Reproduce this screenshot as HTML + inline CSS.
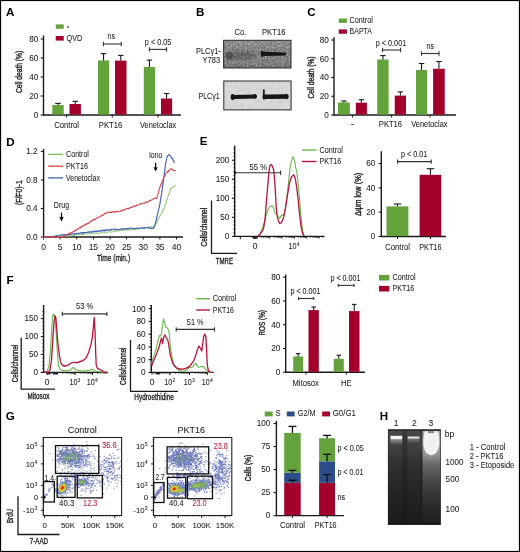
<!DOCTYPE html>
<html><head><meta charset="utf-8"><style>
html,body{margin:0;padding:0;background:#fff;}
#wrap{position:relative;width:520px;height:552px;overflow:hidden;}
svg{display:block;position:absolute;left:0;top:0;will-change:transform;}
#fig{filter:blur(0.3px);}
text{font-family:"Liberation Sans", sans-serif;}
</style></head><body>
<div id="wrap">
<svg id="fig" width="520" height="552" viewBox="0 0 520 552" font-family='"Liberation Sans", sans-serif' fill="#222">
<rect x="0" y="0" width="520" height="552" fill="#fff"/>
<text x="5.90" y="16.40" font-size="11.6" fill="#000" font-weight="bold">A</text>
<rect x="55.75" y="24.40" width="8.00" height="4.35" fill="#64a33c"/>
<rect x="55.75" y="36.00" width="8.00" height="4.60" fill="#a3002c"/>
<rect x="67.10" y="26.20" width="1.90" height="1.50" fill="#555"/>
<text x="66.60" y="40.70" font-size="8.5" textLength="15.60" lengthAdjust="spacingAndGlyphs" stroke="#222" stroke-width="0.06">QVD</text>
<line x1="43.50" y1="35.50" x2="43.50" y2="115.60" stroke="#1a1a1a" stroke-width="1.4"/>
<line x1="40.70" y1="115.00" x2="43.50" y2="115.00" stroke="#1a1a1a" stroke-width="1.1"/>
<text x="38.25" y="117.85" font-size="8.2" text-anchor="end" stroke="#222" stroke-width="0.06">0</text>
<line x1="40.70" y1="96.00" x2="43.50" y2="96.00" stroke="#1a1a1a" stroke-width="1.1"/>
<text x="38.25" y="98.85" font-size="8.2" text-anchor="end" stroke="#222" stroke-width="0.06">20</text>
<line x1="40.70" y1="77.00" x2="43.50" y2="77.00" stroke="#1a1a1a" stroke-width="1.1"/>
<text x="38.25" y="79.85" font-size="8.2" text-anchor="end" stroke="#222" stroke-width="0.06">40</text>
<line x1="40.70" y1="58.00" x2="43.50" y2="58.00" stroke="#1a1a1a" stroke-width="1.1"/>
<text x="38.25" y="60.85" font-size="8.2" text-anchor="end" stroke="#222" stroke-width="0.06">60</text>
<line x1="40.70" y1="39.00" x2="43.50" y2="39.00" stroke="#1a1a1a" stroke-width="1.1"/>
<text x="38.25" y="41.85" font-size="8.2" text-anchor="end" stroke="#222" stroke-width="0.06">80</text>
<line x1="43.00" y1="115.00" x2="181.00" y2="115.00" stroke="#1a1a1a" stroke-width="1.4"/>
<line x1="66.60" y1="115.00" x2="66.60" y2="117.50" stroke="#1a1a1a" stroke-width="1"/>
<line x1="112.30" y1="115.00" x2="112.30" y2="117.50" stroke="#1a1a1a" stroke-width="1"/>
<line x1="158.00" y1="115.00" x2="158.00" y2="117.50" stroke="#1a1a1a" stroke-width="1"/>
<rect x="52.30" y="105.00" width="11.40" height="9.60" fill="#64a33c"/>
<line x1="58.00" y1="105.00" x2="58.00" y2="103.40" stroke="#1a1a1a" stroke-width="1.1"/>
<line x1="55.25" y1="103.40" x2="60.75" y2="103.40" stroke="#1a1a1a" stroke-width="1.1"/>
<rect x="69.50" y="104.00" width="11.40" height="10.60" fill="#a3002c"/>
<line x1="75.20" y1="104.00" x2="75.20" y2="101.30" stroke="#1a1a1a" stroke-width="1.1"/>
<line x1="72.45" y1="101.30" x2="77.95" y2="101.30" stroke="#1a1a1a" stroke-width="1.1"/>
<rect x="98.00" y="60.40" width="11.10" height="54.20" fill="#64a33c"/>
<line x1="103.55" y1="60.40" x2="103.55" y2="53.60" stroke="#1a1a1a" stroke-width="1.1"/>
<line x1="100.80" y1="53.60" x2="106.30" y2="53.60" stroke="#1a1a1a" stroke-width="1.1"/>
<rect x="115.00" y="60.60" width="11.50" height="54.00" fill="#a3002c"/>
<line x1="120.75" y1="60.60" x2="120.75" y2="55.40" stroke="#1a1a1a" stroke-width="1.1"/>
<line x1="118.00" y1="55.40" x2="123.50" y2="55.40" stroke="#1a1a1a" stroke-width="1.1"/>
<rect x="143.80" y="67.00" width="11.20" height="47.60" fill="#64a33c"/>
<line x1="149.40" y1="67.00" x2="149.40" y2="60.10" stroke="#1a1a1a" stroke-width="1.1"/>
<line x1="146.65" y1="60.10" x2="152.15" y2="60.10" stroke="#1a1a1a" stroke-width="1.1"/>
<rect x="161.00" y="98.50" width="11.10" height="16.10" fill="#a3002c"/>
<line x1="166.55" y1="98.50" x2="166.55" y2="93.50" stroke="#1a1a1a" stroke-width="1.1"/>
<line x1="163.80" y1="93.50" x2="169.30" y2="93.50" stroke="#1a1a1a" stroke-width="1.1"/>
<line x1="103.40" y1="44.00" x2="121.25" y2="44.00" stroke="#333" stroke-width="1.1"/>
<line x1="103.40" y1="41.80" x2="103.40" y2="46.20" stroke="#333" stroke-width="1.1"/>
<line x1="121.25" y1="41.80" x2="121.25" y2="46.20" stroke="#333" stroke-width="1.1"/>
<text x="107.60" y="39.40" font-size="8.5" textLength="7.40" lengthAdjust="spacingAndGlyphs" stroke="#222" stroke-width="0.06">ns</text>
<line x1="149.40" y1="49.40" x2="166.60" y2="49.40" stroke="#333" stroke-width="1.1"/>
<line x1="149.40" y1="47.20" x2="149.40" y2="51.60" stroke="#333" stroke-width="1.1"/>
<line x1="166.60" y1="47.20" x2="166.60" y2="51.60" stroke="#333" stroke-width="1.1"/>
<text x="144.80" y="45.00" font-size="8.5" textLength="26.60" lengthAdjust="spacingAndGlyphs" stroke="#222" stroke-width="0.06">p &lt; 0.05</text>
<text x="54.20" y="127.70" font-size="8.5" textLength="24.80" lengthAdjust="spacingAndGlyphs" stroke="#222" stroke-width="0.06">Control</text>
<text x="98.80" y="127.50" font-size="8.5" textLength="23.60" lengthAdjust="spacingAndGlyphs" stroke="#222" stroke-width="0.06">PKT16</text>
<text x="140.00" y="127.80" font-size="8.5" textLength="36.20" lengthAdjust="spacingAndGlyphs" stroke="#222" stroke-width="0.06">Venetoclax</text>
<text transform="translate(21.70,93.10) rotate(-90)" font-size="9.0" textLength="42.30" lengthAdjust="spacingAndGlyphs" fill="#222" stroke="#222" stroke-width="0.38">Cell death (%)</text>
<text x="195.90" y="16.20" font-size="11.6" fill="#000" font-weight="bold">B</text>
<text x="234.60" y="35.20" font-size="8.5" textLength="11.80" lengthAdjust="spacingAndGlyphs" stroke="#222" stroke-width="0.06">Co.</text>
<text x="262.00" y="35.00" font-size="8.5" textLength="23.40" lengthAdjust="spacingAndGlyphs" stroke="#222" stroke-width="0.06">PKT16</text>
<text x="196.00" y="53.60" font-size="8.5" textLength="24.80" lengthAdjust="spacingAndGlyphs" stroke="#222" stroke-width="0.06">PLC&#947;1-</text>
<text x="202.60" y="63.00" font-size="8.5" textLength="17.60" lengthAdjust="spacingAndGlyphs" stroke="#222" stroke-width="0.06">Y783</text>
<text x="198.40" y="98.60" font-size="8.5" textLength="21.40" lengthAdjust="spacingAndGlyphs" stroke="#222" stroke-width="0.06">PLC&#947;1</text>
<defs><filter id="noise" x="0" y="0" width="100%" height="100%"><feTurbulence type="fractalNoise" baseFrequency="0.9" numOctaves="2" seed="3"/><feColorMatrix type="matrix" values="0 0 0 0 0.5  0 0 0 0 0.5  0 0 0 0 0.5  0.9 0.9 0.9 0 -1.1"/></filter><filter id="blur1"><feGaussianBlur stdDeviation="0.6"/></filter><filter id="blur2"><feGaussianBlur stdDeviation="1.2"/></filter><filter id="blur3"><feGaussianBlur stdDeviation="2"/></filter><filter id="bl05"><feGaussianBlur stdDeviation="0.45"/></filter><filter id="bl07"><feGaussianBlur stdDeviation="0.7"/></filter></defs>
<defs><filter id="n1" x="0" y="0" width="100%" height="100%" color-interpolation-filters="sRGB"><feTurbulence type="fractalNoise" baseFrequency="0.55" numOctaves="3" seed="11"/><feColorMatrix type="matrix" values="0.45 0 0 0 0.28  0.45 0 0 0 0.28  0.45 0 0 0 0.28  0 0 0 0 1"/><feComposite operator="in" in2="SourceAlpha"/></filter><filter id="n2" x="0" y="0" width="100%" height="100%" color-interpolation-filters="sRGB"><feTurbulence type="fractalNoise" baseFrequency="0.25" numOctaves="2" seed="5"/><feColorMatrix type="matrix" values="0.1 0 0 0 0.79  0.1 0 0 0 0.79  0.1 0 0 0 0.79  0 0 0 0 1"/><feComposite operator="in" in2="SourceAlpha"/></filter><linearGradient id="b1g" x1="0" y1="0" x2="0" y2="1"><stop offset="0" stop-color="#fff" stop-opacity="0.12"/><stop offset="0.5" stop-color="#fff" stop-opacity="0"/><stop offset="1" stop-color="#000" stop-opacity="0.12"/></linearGradient></defs>
<rect x="223.60" y="40.30" width="67.40" height="27.70" fill="#000" filter="url(#n1)"/>
<rect x="223.60" y="40.30" width="67.40" height="27.70" fill="url(#b1g)"/>
<rect x="223.6" y="40.3" width="67.4" height="27.7" fill="none" stroke="#2a2a2a" stroke-width="1"/>
<ellipse cx="241" cy="55.5" rx="16" ry="4.5" fill="#2a2a2a" opacity="0.3" filter="url(#blur2)"/>
<ellipse cx="229" cy="56" rx="3.5" ry="4.5" fill="#222" opacity="0.35" filter="url(#blur1)"/>
<path d="M260.8 53.7 C260.8 50.4 262.4 50.2 263.8 51.8 L285.2 52.6 Q287.3 54.1 285.2 55.6 L263.8 56.0 C262.4 57.6 260.8 57.1 260.8 53.7 Z" fill="#141414" filter="url(#bl07)"/>
<rect x="223.80" y="81.00" width="67.30" height="28.90" fill="#000" filter="url(#n2)"/>
<rect x="223.8" y="81" width="67.3" height="28.9" fill="none" stroke="#2a2a2a" stroke-width="1"/>
<g filter="url(#bl07)" fill="#141414" stroke="#141414"><path d="M233.2 96.9 L255 96.5" stroke-width="4.0" stroke-linecap="round" fill="none"/><ellipse cx="232.6" cy="97.1" rx="2.0" ry="3.0" stroke="none"/><ellipse cx="255" cy="96.3" rx="1.6" ry="2.4" stroke="none"/><path d="M264.6 96.7 L286.6 96.5" stroke-width="4.4" stroke-linecap="round" fill="none"/><ellipse cx="286.4" cy="96.5" rx="1.6" ry="2.7" stroke="none"/><path d="M263.8 89.4 L263.9 99.4" stroke-width="1.8" fill="none"/></g>
<text x="307.20" y="16.20" font-size="11.6" fill="#000" font-weight="bold">C</text>
<rect x="338.75" y="18.50" width="8.15" height="4.40" fill="#64a33c"/>
<rect x="338.75" y="29.40" width="8.15" height="4.35" fill="#a3002c"/>
<text x="349.60" y="22.80" font-size="8.5" textLength="23.20" lengthAdjust="spacingAndGlyphs" stroke="#222" stroke-width="0.06">Control</text>
<text x="349.60" y="33.80" font-size="8.5" textLength="22.40" lengthAdjust="spacingAndGlyphs" stroke="#222" stroke-width="0.06">BAPTA</text>
<line x1="334.00" y1="37.30" x2="334.00" y2="115.60" stroke="#1a1a1a" stroke-width="1.4"/>
<line x1="331.20" y1="115.00" x2="334.00" y2="115.00" stroke="#1a1a1a" stroke-width="1.1"/>
<text x="328.85" y="117.85" font-size="8.2" text-anchor="end" stroke="#222" stroke-width="0.06">0</text>
<line x1="331.20" y1="96.25" x2="334.00" y2="96.25" stroke="#1a1a1a" stroke-width="1.1"/>
<text x="328.85" y="99.10" font-size="8.2" text-anchor="end" stroke="#222" stroke-width="0.06">20</text>
<line x1="331.20" y1="77.50" x2="334.00" y2="77.50" stroke="#1a1a1a" stroke-width="1.1"/>
<text x="328.85" y="80.35" font-size="8.2" text-anchor="end" stroke="#222" stroke-width="0.06">40</text>
<line x1="331.20" y1="58.75" x2="334.00" y2="58.75" stroke="#1a1a1a" stroke-width="1.1"/>
<text x="328.85" y="61.60" font-size="8.2" text-anchor="end" stroke="#222" stroke-width="0.06">60</text>
<line x1="331.20" y1="40.00" x2="334.00" y2="40.00" stroke="#1a1a1a" stroke-width="1.1"/>
<text x="328.85" y="42.85" font-size="8.2" text-anchor="end" stroke="#222" stroke-width="0.06">80</text>
<line x1="333.50" y1="115.00" x2="456.00" y2="115.00" stroke="#1a1a1a" stroke-width="1.4"/>
<line x1="352.50" y1="115.00" x2="352.50" y2="117.50" stroke="#1a1a1a" stroke-width="1"/>
<line x1="391.60" y1="115.00" x2="391.60" y2="117.50" stroke="#1a1a1a" stroke-width="1"/>
<line x1="430.00" y1="115.00" x2="430.00" y2="117.50" stroke="#1a1a1a" stroke-width="1"/>
<rect x="338.00" y="102.50" width="11.90" height="12.10" fill="#64a33c"/>
<line x1="343.95" y1="102.50" x2="343.95" y2="101.00" stroke="#1a1a1a" stroke-width="1.1"/>
<line x1="341.20" y1="101.00" x2="346.70" y2="101.00" stroke="#1a1a1a" stroke-width="1.1"/>
<rect x="355.80" y="102.70" width="11.10" height="11.90" fill="#a3002c"/>
<line x1="361.35" y1="102.70" x2="361.35" y2="99.70" stroke="#1a1a1a" stroke-width="1.1"/>
<line x1="358.60" y1="99.70" x2="364.10" y2="99.70" stroke="#1a1a1a" stroke-width="1.1"/>
<rect x="377.20" y="59.50" width="11.40" height="55.10" fill="#64a33c"/>
<line x1="382.90" y1="59.50" x2="382.90" y2="55.60" stroke="#1a1a1a" stroke-width="1.1"/>
<line x1="380.15" y1="55.60" x2="385.65" y2="55.60" stroke="#1a1a1a" stroke-width="1.1"/>
<rect x="394.75" y="95.60" width="11.25" height="19.00" fill="#a3002c"/>
<line x1="400.38" y1="95.60" x2="400.38" y2="91.90" stroke="#1a1a1a" stroke-width="1.1"/>
<line x1="397.62" y1="91.90" x2="403.12" y2="91.90" stroke="#1a1a1a" stroke-width="1.1"/>
<rect x="416.00" y="70.00" width="11.10" height="44.60" fill="#64a33c"/>
<line x1="421.55" y1="70.00" x2="421.55" y2="63.50" stroke="#1a1a1a" stroke-width="1.1"/>
<line x1="418.80" y1="63.50" x2="424.30" y2="63.50" stroke="#1a1a1a" stroke-width="1.1"/>
<rect x="433.10" y="68.75" width="11.65" height="45.85" fill="#a3002c"/>
<line x1="438.93" y1="68.75" x2="438.93" y2="61.50" stroke="#1a1a1a" stroke-width="1.1"/>
<line x1="436.18" y1="61.50" x2="441.68" y2="61.50" stroke="#1a1a1a" stroke-width="1.1"/>
<line x1="382.50" y1="50.00" x2="400.60" y2="50.00" stroke="#333" stroke-width="1.1"/>
<line x1="382.50" y1="47.80" x2="382.50" y2="52.20" stroke="#333" stroke-width="1.1"/>
<line x1="400.60" y1="47.80" x2="400.60" y2="52.20" stroke="#333" stroke-width="1.1"/>
<text x="375.80" y="45.60" font-size="8.5" textLength="30.40" lengthAdjust="spacingAndGlyphs" stroke="#222" stroke-width="0.06">p &lt; 0.001</text>
<line x1="421.50" y1="53.50" x2="439.00" y2="53.50" stroke="#333" stroke-width="1.1"/>
<line x1="421.50" y1="51.30" x2="421.50" y2="55.70" stroke="#333" stroke-width="1.1"/>
<line x1="439.00" y1="51.30" x2="439.00" y2="55.70" stroke="#333" stroke-width="1.1"/>
<text x="426.60" y="49.00" font-size="8.5" textLength="7.40" lengthAdjust="spacingAndGlyphs" stroke="#222" stroke-width="0.06">ns</text>
<text x="352.50" y="127.20" font-size="8.5" text-anchor="middle" stroke="#222" stroke-width="0.06">-</text>
<text x="378.80" y="127.30" font-size="8.5" textLength="23.30" lengthAdjust="spacingAndGlyphs" stroke="#222" stroke-width="0.06">PKT16</text>
<text x="411.30" y="127.30" font-size="8.5" textLength="36.20" lengthAdjust="spacingAndGlyphs" stroke="#222" stroke-width="0.06">Venetoclax</text>
<text transform="translate(313.60,98.50) rotate(-90)" font-size="9.0" textLength="42.00" lengthAdjust="spacingAndGlyphs" fill="#222" stroke="#222" stroke-width="0.38">Cell death (%)</text>
<text x="6.30" y="145.60" font-size="11.6" fill="#000" font-weight="bold">D</text>
<line x1="43.60" y1="149.00" x2="43.60" y2="237.60" stroke="#1a1a1a" stroke-width="1.4"/>
<line x1="40.80" y1="237.00" x2="43.60" y2="237.00" stroke="#1a1a1a" stroke-width="1.1"/>
<text x="37.65" y="239.85" font-size="8.2" text-anchor="end" stroke="#222" stroke-width="0.06">0.0</text>
<line x1="40.80" y1="208.50" x2="43.60" y2="208.50" stroke="#1a1a1a" stroke-width="1.1"/>
<text x="37.65" y="211.35" font-size="8.2" text-anchor="end" stroke="#222" stroke-width="0.06">0.4</text>
<line x1="40.80" y1="180.00" x2="43.60" y2="180.00" stroke="#1a1a1a" stroke-width="1.1"/>
<text x="37.65" y="182.85" font-size="8.2" text-anchor="end" stroke="#222" stroke-width="0.06">0.8</text>
<line x1="40.80" y1="151.50" x2="43.60" y2="151.50" stroke="#1a1a1a" stroke-width="1.1"/>
<text x="37.65" y="154.35" font-size="8.2" text-anchor="end" stroke="#222" stroke-width="0.06">1.2</text>
<line x1="43.00" y1="237.00" x2="183.00" y2="237.00" stroke="#1a1a1a" stroke-width="1.4"/>
<line x1="43.50" y1="237.00" x2="43.50" y2="239.50" stroke="#1a1a1a" stroke-width="1"/>
<text x="43.50" y="249.60" font-size="8.5" text-anchor="middle" stroke="#222" stroke-width="0.06">0</text>
<line x1="60.12" y1="237.00" x2="60.12" y2="239.50" stroke="#1a1a1a" stroke-width="1"/>
<text x="60.12" y="249.60" font-size="8.5" text-anchor="middle" stroke="#222" stroke-width="0.06">5</text>
<line x1="76.75" y1="237.00" x2="76.75" y2="239.50" stroke="#1a1a1a" stroke-width="1"/>
<text x="76.75" y="249.60" font-size="8.5" text-anchor="middle" stroke="#222" stroke-width="0.06">10</text>
<line x1="93.38" y1="237.00" x2="93.38" y2="239.50" stroke="#1a1a1a" stroke-width="1"/>
<text x="93.38" y="249.60" font-size="8.5" text-anchor="middle" stroke="#222" stroke-width="0.06">15</text>
<line x1="110.00" y1="237.00" x2="110.00" y2="239.50" stroke="#1a1a1a" stroke-width="1"/>
<text x="110.00" y="249.60" font-size="8.5" text-anchor="middle" stroke="#222" stroke-width="0.06">20</text>
<line x1="126.62" y1="237.00" x2="126.62" y2="239.50" stroke="#1a1a1a" stroke-width="1"/>
<text x="126.62" y="249.60" font-size="8.5" text-anchor="middle" stroke="#222" stroke-width="0.06">25</text>
<line x1="143.25" y1="237.00" x2="143.25" y2="239.50" stroke="#1a1a1a" stroke-width="1"/>
<text x="143.25" y="249.60" font-size="8.5" text-anchor="middle" stroke="#222" stroke-width="0.06">30</text>
<line x1="159.88" y1="237.00" x2="159.88" y2="239.50" stroke="#1a1a1a" stroke-width="1"/>
<text x="159.88" y="249.60" font-size="8.5" text-anchor="middle" stroke="#222" stroke-width="0.06">35</text>
<line x1="176.50" y1="237.00" x2="176.50" y2="239.50" stroke="#1a1a1a" stroke-width="1"/>
<text x="176.50" y="249.60" font-size="8.5" text-anchor="middle" stroke="#222" stroke-width="0.06">40</text>
<text x="96.90" y="260.80" font-size="9.4" textLength="33.20" lengthAdjust="spacingAndGlyphs" stroke="#222" stroke-width="0.35">Time (min.)</text>
<text transform="translate(21.60,205.00) rotate(-90)" font-size="9.0" textLength="24.70" lengthAdjust="spacingAndGlyphs" fill="#222" stroke="#222" stroke-width="0.38">(F/F0)-1</text>
<line x1="48.20" y1="154.40" x2="63.10" y2="154.40" stroke="#7cbf50" stroke-width="1.3"/>
<circle cx="55.6" cy="154.4" r="0.9" fill="#d8a070" opacity="0.7"/>
<text x="66.10" y="157.00" font-size="8.5" textLength="22.80" lengthAdjust="spacingAndGlyphs" stroke="#222" stroke-width="0.06">Control</text>
<line x1="48.20" y1="166.25" x2="63.10" y2="166.25" stroke="#d6404a" stroke-width="1.3"/>
<circle cx="55.6" cy="166.25" r="0.9" fill="#d8a070" opacity="0.7"/>
<text x="66.10" y="168.85" font-size="8.5" textLength="21.90" lengthAdjust="spacingAndGlyphs" stroke="#222" stroke-width="0.06">PKT16</text>
<line x1="48.20" y1="177.90" x2="63.10" y2="177.90" stroke="#4062b2" stroke-width="1.3"/>
<circle cx="55.6" cy="177.9" r="0.9" fill="#d8a070" opacity="0.7"/>
<text x="66.10" y="180.50" font-size="8.5" textLength="33.80" lengthAdjust="spacingAndGlyphs" stroke="#222" stroke-width="0.06">Venetoclax</text>
<text x="53.80" y="207.70" font-size="8.5" textLength="15.30" lengthAdjust="spacingAndGlyphs" stroke="#222" stroke-width="0.06">Drug</text>
<text x="148.90" y="158.10" font-size="8.5" textLength="13.40" lengthAdjust="spacingAndGlyphs" stroke="#222" stroke-width="0.06">Iono</text>
<line x1="61.50" y1="212.60" x2="61.50" y2="219.40" stroke="#000" stroke-width="1.2"/>
<path d="M59.20 216.60 L61.50 221.40 L63.80 216.60 L61.50 217.80 Z" fill="#000"/>
<line x1="155.60" y1="162.80" x2="155.60" y2="169.60" stroke="#000" stroke-width="1.2"/>
<path d="M153.30 166.80 L155.60 171.60 L157.90 166.80 L155.60 168.00 Z" fill="#000"/>
<path d="M43.50 237.00 L44.05 236.60 L44.61 237.38 L45.16 237.29 L45.72 236.73 L46.27 236.99 L46.83 236.94 L47.38 237.17 L47.93 237.32 L48.49 236.55 L49.04 236.48 L49.60 237.37 L50.15 236.93 L50.70 237.29 L51.26 236.45 L51.81 236.94 L52.37 237.24 L52.92 236.70 L53.47 237.49 L54.03 237.44 L54.58 236.48 L55.14 236.48 L55.69 237.05 L56.25 237.48 L56.80 237.00 L57.35 236.84 L57.91 236.63 L58.46 236.83 L59.02 236.36 L59.57 236.55 L60.12 236.75 L60.68 236.79 L61.23 236.47 L61.79 236.44 L62.34 236.39 L62.90 236.63 L63.45 236.64 L64.00 236.34 L64.56 235.97 L65.11 236.79 L65.67 236.41 L66.22 236.43 L66.78 235.85 L67.33 236.67 L67.88 236.45 L68.44 235.56 L68.99 235.72 L69.55 236.07 L70.10 235.99 L70.65 236.16 L71.21 235.52 L71.76 235.89 L72.32 235.64 L72.87 235.17 L73.42 235.40 L73.98 235.65 L74.53 235.54 L75.09 235.09 L75.64 235.11 L76.20 234.42 L76.75 234.86 L77.30 234.53 L77.86 235.09 L78.41 234.63 L78.97 234.31 L79.52 234.68 L80.08 234.80 L80.63 234.72 L81.18 234.34 L81.74 234.37 L82.29 234.40 L82.85 234.65 L83.40 234.32 L83.95 234.13 L84.51 234.19 L85.06 233.63 L85.62 233.60 L86.17 234.28 L86.72 234.54 L87.28 234.06 L87.83 233.80 L88.39 233.50 L88.94 233.82 L89.50 234.30 L90.05 234.02 L90.60 233.72 L91.16 234.02 L91.71 233.29 L92.27 233.55 L92.82 233.98 L93.38 233.44 L93.93 233.48 L94.48 233.30 L95.04 233.04 L95.59 233.30 L96.15 233.70 L96.70 232.61 L97.25 233.42 L97.81 233.41 L98.36 233.43 L98.92 233.23 L99.47 233.26 L100.03 232.89 L100.58 232.89 L101.13 232.69 L101.69 232.24 L102.24 233.08 L102.80 232.71 L103.35 232.25 L103.90 232.54 L104.46 232.47 L105.01 232.28 L105.57 232.22 L106.12 232.39 L106.67 232.43 L107.23 232.37 L107.78 232.16 L108.34 231.64 L108.89 231.81 L109.45 231.70 L110.00 232.01 L110.55 232.04 L111.11 232.28 L111.66 232.14 L112.22 232.07 L112.77 232.02 L113.33 231.34 L113.88 231.92 L114.43 231.66 L114.99 230.95 L115.54 230.81 L116.10 230.74 L116.65 231.49 L117.20 230.86 L117.76 230.64 L118.31 231.14 L118.87 230.76 L119.42 230.40 L119.98 230.80 L120.53 230.38 L121.08 230.73 L121.64 230.28 L122.19 230.35 L122.75 230.78 L123.30 230.44 L123.85 230.25 L124.41 230.36 L124.96 229.81 L125.52 230.16 L126.07 230.15 L126.62 229.84 L127.18 229.70 L127.73 230.52 L128.29 230.04 L128.84 229.66 L129.40 230.04 L129.95 229.88 L130.50 230.15 L131.06 229.20 L131.61 229.12 L132.17 229.19 L132.72 229.74 L133.27 229.06 L133.83 229.58 L134.38 229.48 L134.94 229.26 L135.49 228.83 L136.05 229.58 L136.60 229.31 L137.15 228.93 L137.71 228.53 L138.26 228.93 L138.82 228.57 L139.37 228.70 L139.93 228.34 L140.48 228.61 L141.03 227.91 L141.59 228.09 L142.14 228.76 L142.70 228.58 L143.25 228.09 L143.80 227.78 L144.36 228.29 L144.91 227.59 L145.47 228.18 L146.02 227.87 L146.58 227.41 L147.13 227.13 L147.68 226.76 L148.24 227.62 L148.79 226.60 L149.35 227.36 L149.90 227.41 L150.45 226.88 L151.01 226.35 L151.56 227.01 L152.12 227.03 L152.67 226.64 L153.23 226.31 L153.72 225.97 L154.22 225.47 L154.72 225.08 L155.22 224.89 L155.49 224.06 L155.77 224.07 L156.04 223.30 L156.32 222.54 L156.59 221.94 L156.86 222.05 L157.14 221.14 L157.41 220.86 L157.68 220.17 L157.96 220.27 L158.23 219.79 L158.51 218.32 L158.78 218.02 L159.05 217.66 L159.33 217.88 L159.60 217.15 L159.88 216.34 L160.12 215.66 L160.37 215.02 L160.62 215.03 L160.87 214.71 L161.12 214.32 L161.37 213.17 L161.62 213.27 L161.87 212.55 L162.12 211.83 L162.37 211.88 L162.62 210.56 L162.87 210.60 L163.12 209.40 L163.37 208.99 L163.62 209.31 L163.87 208.04 L164.11 208.14 L164.36 207.47 L164.61 207.24 L164.86 206.36 L165.03 205.68 L165.21 205.11 L165.38 204.51 L165.55 204.60 L165.72 203.77 L165.89 203.62 L166.07 203.00 L166.24 201.64 L166.41 201.55 L166.58 200.52 L166.75 199.91 L166.93 199.41 L167.10 199.74 L167.27 199.11 L167.44 198.62 L167.61 197.54 L167.79 197.30 L167.96 196.94 L168.13 195.96 L168.30 195.63 L168.47 194.71 L168.65 194.01 L168.82 193.67 L168.99 193.82 L169.16 192.92 L169.33 192.78 L169.51 191.72 L169.68 190.98 L169.85 190.69 L170.18 190.53 L170.52 190.10 L170.85 188.73 L171.18 188.97 L171.51 187.86 L171.84 187.84 L172.34 187.15 L172.84 187.73 L173.34 186.53 L173.84 186.48 L174.34 187.04 L174.84 186.15 L175.34 185.54 L175.84 185.70" fill="none" stroke="#7cbf50" stroke-width="1.0" stroke-linejoin="round"/>
<path d="M43.50 237.00 L44.05 237.48 L44.61 237.45 L45.16 236.45 L45.72 236.46 L46.27 237.27 L46.83 237.14 L47.38 237.05 L47.93 236.63 L48.49 236.94 L49.04 236.92 L49.60 236.87 L50.15 236.39 L50.70 236.67 L51.26 236.61 L51.81 236.95 L52.37 237.23 L52.92 237.16 L53.48 236.64 L54.03 236.59 L54.58 236.39 L55.14 236.09 L55.69 235.74 L56.25 235.63 L56.80 236.01 L57.35 235.75 L57.91 235.72 L58.46 236.18 L59.02 235.68 L59.57 235.62 L60.12 235.17 L60.68 234.83 L61.23 235.07 L61.79 234.76 L62.34 235.07 L62.90 235.51 L63.45 234.86 L64.00 235.00 L64.56 234.39 L65.11 235.12 L65.67 234.95 L66.22 234.82 L66.78 234.95 L67.33 234.74 L67.88 234.71 L68.44 234.17 L68.99 234.80 L69.55 234.72 L70.10 233.78 L70.65 234.37 L71.21 234.27 L71.76 233.93 L72.32 233.95 L72.87 233.84 L73.42 234.26 L73.98 233.74 L74.53 234.04 L75.09 233.45 L75.64 233.98 L76.20 233.94 L76.75 233.44 L77.30 233.34 L77.86 233.39 L78.41 233.72 L78.97 233.45 L79.52 233.13 L80.08 232.78 L80.63 232.83 L81.18 233.18 L81.74 232.54 L82.29 233.29 L82.85 232.53 L83.40 233.18 L83.95 232.46 L84.51 233.11 L85.06 232.77 L85.62 232.49 L86.17 232.45 L86.72 232.54 L87.28 232.41 L87.83 232.04 L88.39 231.87 L88.94 232.14 L89.50 232.55 L90.05 232.15 L90.60 231.49 L91.16 232.25 L91.71 232.08 L92.27 232.22 L92.82 231.38 L93.38 231.66 L93.93 231.87 L94.48 231.05 L95.04 231.65 L95.59 231.17 L96.15 231.06 L96.70 231.71 L97.25 230.81 L97.81 231.21 L98.36 231.51 L98.92 230.78 L99.47 230.68 L100.03 231.36 L100.58 230.80 L101.13 231.06 L101.69 230.25 L102.24 230.55 L102.80 230.29 L103.35 230.78 L103.90 230.07 L104.46 230.97 L105.01 229.89 L105.57 230.60 L106.12 229.76 L106.67 229.96 L107.23 230.52 L107.78 229.74 L108.34 229.71 L108.89 230.20 L109.45 229.81 L110.00 229.88 L110.55 229.34 L111.11 230.34 L111.66 229.38 L112.22 229.22 L112.77 229.53 L113.33 229.79 L113.88 229.89 L114.43 229.16 L114.99 229.38 L115.54 229.00 L116.10 229.43 L116.65 229.74 L117.20 229.68 L117.76 229.82 L118.31 229.62 L118.87 229.70 L119.42 229.50 L119.97 229.20 L120.53 228.90 L121.08 229.34 L121.64 228.92 L122.19 228.65 L122.75 229.00 L123.30 229.43 L123.85 228.57 L124.41 229.04 L124.96 228.80 L125.52 228.89 L126.07 228.45 L126.62 228.81 L127.18 229.29 L127.73 228.49 L128.29 228.85 L128.84 228.62 L129.40 228.16 L129.95 228.73 L130.50 228.24 L131.06 228.13 L131.61 228.08 L132.17 228.20 L132.72 228.10 L133.28 228.67 L133.83 228.51 L134.38 229.01 L134.94 228.93 L135.49 228.97 L136.05 228.11 L136.60 228.32 L137.15 228.08 L137.71 228.43 L138.26 228.44 L138.82 228.61 L139.37 228.49 L139.93 227.97 L140.48 228.13 L141.03 228.22 L141.59 227.62 L142.14 227.63 L142.70 228.02 L143.25 228.09 L143.80 227.67 L144.36 228.34 L144.91 227.81 L145.47 227.65 L146.02 227.74 L146.57 227.80 L147.13 227.78 L147.68 228.12 L148.24 228.05 L148.79 227.88 L149.35 228.25 L149.90 227.78 L150.45 228.54 L151.01 228.60 L151.56 228.09 L152.23 228.46 L152.89 228.26 L153.56 228.45 L153.82 227.89 L154.09 227.40 L154.36 226.25 L154.62 226.08 L154.89 225.60 L155.02 225.08 L155.14 224.15 L155.27 223.51 L155.40 223.74 L155.53 222.71 L155.65 222.33 L155.78 222.23 L155.91 221.34 L156.04 220.44 L156.17 220.65 L156.29 219.43 L156.42 218.49 L156.55 218.68 L156.68 217.49 L156.81 217.17 L156.93 217.21 L157.06 216.47 L157.19 215.20 L157.32 215.13 L157.45 214.54 L157.57 214.07 L157.70 213.22 L157.83 213.09 L157.96 211.98 L158.08 211.66 L158.21 211.21 L158.34 211.28 L158.47 209.79 L158.60 209.99 L158.72 208.82 L158.85 208.69 L158.98 207.94 L159.11 207.47 L159.24 207.24 L159.36 206.30 L159.49 205.45 L159.62 204.91 L159.75 204.31 L159.88 204.22 L159.96 204.06 L160.05 203.28 L160.13 203.09 L160.22 202.24 L160.30 200.96 L160.39 201.11 L160.47 200.69 L160.56 200.09 L160.65 199.29 L160.73 198.59 L160.82 198.15 L160.90 197.98 L160.99 196.85 L161.07 196.58 L161.16 195.98 L161.25 195.96 L161.33 195.24 L161.42 194.83 L161.50 194.18 L161.59 193.04 L161.67 192.42 L161.76 192.15 L161.85 191.35 L161.93 190.99 L162.02 190.72 L162.10 189.97 L162.18 189.89 L162.25 188.97 L162.32 188.68 L162.39 187.34 L162.47 187.08 L162.54 187.23 L162.61 185.75 L162.69 185.50 L162.76 184.57 L162.83 184.04 L162.90 184.38 L162.98 183.94 L163.05 183.01 L163.12 181.89 L163.20 181.53 L163.27 180.91 L163.34 180.85 L163.41 180.31 L163.49 179.49 L163.56 179.04 L163.63 178.04 L163.71 177.96 L163.78 177.86 L163.85 177.10 L163.93 175.83 L164.00 175.72 L164.08 175.18 L164.15 174.83 L164.23 173.77 L164.31 173.90 L164.39 172.86 L164.46 172.56 L164.54 171.67 L164.62 171.76 L164.70 170.96 L164.77 170.17 L164.85 169.13 L164.93 168.89 L165.01 167.87 L165.08 167.93 L165.16 167.68 L165.24 166.35 L165.32 166.15 L165.39 165.55 L165.47 164.90 L165.55 164.68 L165.63 164.36 L165.70 163.54 L165.78 162.72 L165.86 162.19 L166.00 162.11 L166.14 160.84 L166.28 160.71 L166.42 160.03 L166.56 159.56 L166.69 159.08 L166.83 157.80 L166.97 157.66 L167.11 156.83 L167.25 156.54 L167.39 155.78 L167.82 155.94 L168.25 155.21 L168.69 154.71 L169.19 154.53 L169.68 155.38 L170.18 155.78 L170.69 156.48 L171.20 157.15 L171.71 157.20 L172.00 157.94 L172.30 158.69 L172.59 158.38 L172.88 159.97 L173.18 160.05 L173.51 160.87 L173.84 161.31 L174.17 162.21 L174.50 162.75 L174.84 162.90" fill="none" stroke="#4062b2" stroke-width="1.15" stroke-linejoin="round"/>
<path d="M43.50 237.00 L44.05 236.69 L44.61 237.05 L45.16 236.84 L45.72 237.12 L46.27 237.15 L46.83 236.48 L47.38 236.42 L47.93 237.40 L48.49 236.71 L49.04 236.68 L49.60 237.59 L50.15 236.96 L50.70 237.40 L51.26 236.97 L51.81 237.17 L52.37 236.58 L52.92 237.16 L53.48 237.44 L54.03 237.03 L54.58 237.29 L55.14 237.21 L55.69 236.48 L56.25 237.31 L56.80 237.11 L57.35 236.76 L57.91 236.44 L58.46 237.44 L59.02 236.97 L59.57 237.26 L60.12 237.45 L60.68 237.26 L61.23 237.51 L61.79 237.00 L62.37 236.70 L62.95 237.00 L63.53 236.40 L64.12 236.29 L64.61 236.55 L65.10 236.22 L65.59 235.02 L66.08 234.80 L66.57 234.64 L67.06 235.27 L67.55 234.37 L68.03 234.34 L68.53 233.69 L69.02 233.67 L69.50 233.26 L70.00 232.96 L70.48 232.98 L70.97 232.71 L71.47 232.84 L71.95 232.31 L72.44 232.34 L72.94 231.99 L73.42 231.30 L73.92 231.62 L74.42 230.96 L74.92 230.07 L75.42 230.64 L75.92 230.49 L76.42 230.14 L76.92 229.46 L77.42 229.36 L77.91 228.49 L78.41 228.96 L78.91 228.37 L79.41 227.75 L79.91 227.21 L80.41 227.89 L80.91 227.78 L81.41 226.42 L81.90 227.00 L82.40 226.26 L82.90 225.67 L83.40 225.57 L83.90 225.87 L84.40 225.72 L84.90 224.45 L85.40 224.86 L85.89 223.90 L86.39 224.18 L86.88 224.15 L87.37 223.40 L87.87 223.77 L88.36 223.60 L88.85 222.74 L89.34 223.04 L89.83 221.93 L90.32 221.36 L90.81 221.70 L91.30 220.73 L91.79 220.64 L92.28 220.60 L92.77 220.56 L93.26 219.72 L93.76 219.30 L94.25 220.00 L94.74 219.05 L95.23 219.53 L95.72 219.17 L96.21 218.26 L96.70 218.12 L97.20 217.81 L97.70 217.62 L98.20 217.51 L98.70 217.20 L99.19 216.89 L99.69 216.71 L100.19 216.83 L100.69 216.05 L101.19 215.70 L101.69 215.79 L102.19 214.95 L102.69 214.77 L103.18 215.32 L103.68 214.52 L104.18 214.29 L104.68 213.39 L105.18 213.61 L105.68 213.55 L106.18 212.62 L106.67 213.08 L107.17 212.84 L107.67 212.42 L108.24 211.86 L108.80 212.50 L109.37 212.27 L109.93 212.49 L110.50 212.06 L111.06 212.45 L111.63 212.46 L112.19 211.56 L112.76 211.57 L113.33 212.06 L113.88 212.21 L114.43 212.50 L114.99 211.59 L115.54 211.77 L116.10 211.88 L116.65 211.49 L117.20 211.48 L117.76 211.36 L118.31 211.37 L118.87 211.58 L119.42 211.17 L119.98 211.35 L120.50 211.02 L121.03 211.30 L121.55 210.22 L122.08 210.68 L122.60 210.69 L123.12 210.00 L123.65 209.70 L124.17 210.21 L124.70 209.35 L125.22 209.10 L125.75 209.21 L126.27 209.34 L126.80 208.43 L127.32 208.51 L127.85 208.34 L128.38 208.75 L128.90 208.09 L129.42 208.40 L129.95 207.79 L130.48 207.20 L131.01 207.21 L131.55 207.40 L132.08 207.49 L132.61 206.78 L133.14 206.32 L133.67 206.00 L134.21 206.30 L134.74 205.71 L135.27 206.26 L135.80 206.10 L136.33 205.13 L136.87 205.05 L137.40 205.50 L137.93 204.94 L138.47 204.94 L139.00 204.98 L139.54 204.26 L140.08 203.84 L140.62 203.87 L141.15 204.30 L141.69 203.51 L142.23 203.44 L142.76 203.36 L143.30 203.20 L143.84 203.02 L144.38 203.47 L144.91 202.80 L145.45 202.14 L145.99 201.71 L146.52 202.59 L147.06 202.27 L147.60 202.15 L148.14 201.24 L148.67 201.61 L149.21 201.34 L149.75 200.25 L150.28 200.63 L150.82 200.49 L151.36 200.04 L151.90 199.59 L152.45 199.42 L153.00 198.94 L153.56 198.81 L154.11 198.48 L154.67 198.09 L155.22 198.51 L155.77 197.95 L156.33 198.38 L156.88 197.81 L157.03 196.73 L157.18 197.23 L157.33 196.44 L157.48 196.18 L157.63 195.62 L157.78 195.09 L157.93 194.16 L158.08 192.95 L158.23 193.30 L158.38 192.07 L158.53 191.69 L158.68 191.60 L158.83 190.90 L158.98 190.23 L159.13 190.32 L159.28 189.40 L159.43 188.54 L159.58 187.90 L159.73 188.09 L159.88 187.12 L160.10 186.54 L160.32 186.36 L160.54 185.28 L160.76 184.55 L160.98 184.40 L161.21 184.18 L161.43 182.85 L161.65 183.04 L161.87 182.14 L162.12 182.11 L162.37 181.44 L162.62 180.92 L162.87 179.41 L163.12 179.62 L163.37 179.37 L163.62 177.86 L163.87 177.59 L164.11 177.05 L164.36 176.83 L164.61 176.17 L164.86 175.72 L165.20 175.18 L165.53 175.04 L165.86 173.60 L166.19 173.16 L166.53 172.73 L166.86 172.22 L167.19 172.16 L167.63 171.25 L168.08 171.94 L168.52 171.40 L168.96 170.08 L169.41 170.19 L169.85 169.57 L170.29 169.17 L170.74 168.82 L171.18 168.60 L171.65 169.20 L172.11 169.56 L172.58 169.72 L173.04 169.94 L173.51 170.74 L174.09 170.53 L174.67 170.29 L175.25 170.80 L175.84 170.74" fill="none" stroke="#d6404a" stroke-width="1.05" stroke-linejoin="round"/>
<text x="199.70" y="145.20" font-size="11.6" fill="#000" font-weight="bold">E</text>
<line x1="234.70" y1="145.60" x2="234.70" y2="237.00" stroke="#1a1a1a" stroke-width="1.4"/>
<line x1="231.90" y1="236.40" x2="234.70" y2="236.40" stroke="#1a1a1a" stroke-width="1.1"/>
<text x="229.35" y="239.25" font-size="8.2" text-anchor="end" stroke="#222" stroke-width="0.06">0</text>
<line x1="231.90" y1="217.36" x2="234.70" y2="217.36" stroke="#1a1a1a" stroke-width="1.1"/>
<text x="229.35" y="220.21" font-size="8.2" text-anchor="end" stroke="#222" stroke-width="0.06">50</text>
<line x1="231.90" y1="198.32" x2="234.70" y2="198.32" stroke="#1a1a1a" stroke-width="1.1"/>
<text x="229.35" y="201.17" font-size="8.2" text-anchor="end" stroke="#222" stroke-width="0.06">100</text>
<line x1="231.90" y1="179.28" x2="234.70" y2="179.28" stroke="#1a1a1a" stroke-width="1.1"/>
<text x="229.35" y="182.13" font-size="8.2" text-anchor="end" stroke="#222" stroke-width="0.06">150</text>
<line x1="231.90" y1="160.24" x2="234.70" y2="160.24" stroke="#1a1a1a" stroke-width="1.1"/>
<text x="229.35" y="163.09" font-size="8.2" text-anchor="end" stroke="#222" stroke-width="0.06">200</text>
<line x1="233.20" y1="236.40" x2="234.70" y2="236.40" stroke="#1a1a1a" stroke-width="0.7"/>
<line x1="233.20" y1="232.59" x2="234.70" y2="232.59" stroke="#1a1a1a" stroke-width="0.7"/>
<line x1="233.20" y1="228.78" x2="234.70" y2="228.78" stroke="#1a1a1a" stroke-width="0.7"/>
<line x1="233.20" y1="224.98" x2="234.70" y2="224.98" stroke="#1a1a1a" stroke-width="0.7"/>
<line x1="233.20" y1="221.17" x2="234.70" y2="221.17" stroke="#1a1a1a" stroke-width="0.7"/>
<line x1="233.20" y1="217.36" x2="234.70" y2="217.36" stroke="#1a1a1a" stroke-width="0.7"/>
<line x1="233.20" y1="213.55" x2="234.70" y2="213.55" stroke="#1a1a1a" stroke-width="0.7"/>
<line x1="233.20" y1="209.74" x2="234.70" y2="209.74" stroke="#1a1a1a" stroke-width="0.7"/>
<line x1="233.20" y1="205.94" x2="234.70" y2="205.94" stroke="#1a1a1a" stroke-width="0.7"/>
<line x1="233.20" y1="202.13" x2="234.70" y2="202.13" stroke="#1a1a1a" stroke-width="0.7"/>
<line x1="233.20" y1="198.32" x2="234.70" y2="198.32" stroke="#1a1a1a" stroke-width="0.7"/>
<line x1="233.20" y1="194.51" x2="234.70" y2="194.51" stroke="#1a1a1a" stroke-width="0.7"/>
<line x1="233.20" y1="190.70" x2="234.70" y2="190.70" stroke="#1a1a1a" stroke-width="0.7"/>
<line x1="233.20" y1="186.90" x2="234.70" y2="186.90" stroke="#1a1a1a" stroke-width="0.7"/>
<line x1="233.20" y1="183.09" x2="234.70" y2="183.09" stroke="#1a1a1a" stroke-width="0.7"/>
<line x1="233.20" y1="179.28" x2="234.70" y2="179.28" stroke="#1a1a1a" stroke-width="0.7"/>
<line x1="233.20" y1="175.47" x2="234.70" y2="175.47" stroke="#1a1a1a" stroke-width="0.7"/>
<line x1="233.20" y1="171.66" x2="234.70" y2="171.66" stroke="#1a1a1a" stroke-width="0.7"/>
<line x1="233.20" y1="167.86" x2="234.70" y2="167.86" stroke="#1a1a1a" stroke-width="0.7"/>
<line x1="233.20" y1="164.05" x2="234.70" y2="164.05" stroke="#1a1a1a" stroke-width="0.7"/>
<line x1="233.20" y1="160.24" x2="234.70" y2="160.24" stroke="#1a1a1a" stroke-width="0.7"/>
<line x1="233.20" y1="156.43" x2="234.70" y2="156.43" stroke="#1a1a1a" stroke-width="0.7"/>
<line x1="233.20" y1="152.62" x2="234.70" y2="152.62" stroke="#1a1a1a" stroke-width="0.7"/>
<line x1="233.20" y1="148.82" x2="234.70" y2="148.82" stroke="#1a1a1a" stroke-width="0.7"/>
<line x1="234.20" y1="236.40" x2="324.50" y2="236.40" stroke="#1a1a1a" stroke-width="1.4"/>
<path d="M257.60 236.40v2.4M261.30 236.40v1.5M263.47 236.40v1.5M265.01 236.40v1.5M266.20 236.40v1.5M267.17 236.40v1.5M267.99 236.40v1.5M268.71 236.40v1.5M269.34 236.40v1.5M269.90 236.40v2.4M273.60 236.40v1.5M275.77 236.40v1.5M277.31 236.40v1.5M278.50 236.40v1.5M279.47 236.40v1.5M280.29 236.40v1.5M281.01 236.40v1.5M281.64 236.40v1.5M282.20 236.40v2.4M285.90 236.40v1.5M288.07 236.40v1.5M289.61 236.40v1.5M290.80 236.40v1.5M291.77 236.40v1.5M292.59 236.40v1.5M293.31 236.40v1.5M293.94 236.40v1.5M294.50 236.40v2.4M298.20 236.40v1.5M300.37 236.40v1.5M301.91 236.40v1.5M303.10 236.40v1.5M304.07 236.40v1.5M304.89 236.40v1.5M305.61 236.40v1.5M306.24 236.40v1.5M306.80 236.40v2.4M310.50 236.40v1.5M312.67 236.40v1.5M314.21 236.40v1.5M315.40 236.40v1.5M316.37 236.40v1.5M317.19 236.40v1.5M317.91 236.40v1.5M318.54 236.40v1.5M319.10 236.40v2.4M322.80 236.40v1.5M252.50 236.40v1.8M253.40 236.40v1.8M254.30 236.40v1.8M255.20 236.40v1.8M256.10 236.40v1.8M257.00 236.40v1.8" stroke="#222" stroke-width="0.75" fill="none"/>
<line x1="240.30" y1="236.40" x2="240.30" y2="239.20" stroke="#1a1a1a" stroke-width="1"/>
<line x1="255.00" y1="236.40" x2="255.00" y2="239.00" stroke="#1a1a1a" stroke-width="1"/>
<rect x="253.20" y="236.60" width="3.60" height="2.20" fill="#222"/>
<text x="255.00" y="248.80" font-size="8.5" text-anchor="middle" stroke="#222" stroke-width="0.06">0</text>
<text x="288.50" y="249.00" font-size="8.5" textLength="8.00" lengthAdjust="spacingAndGlyphs" stroke="#222" stroke-width="0.06">10</text>
<text x="296.80" y="245.50" font-size="5" stroke="#222" stroke-width="0.06">4</text>
<line x1="211.50" y1="200.50" x2="211.50" y2="253.40" stroke="#1a1a1a" stroke-width="1.3"/>
<line x1="211.00" y1="253.40" x2="237.10" y2="253.40" stroke="#1a1a1a" stroke-width="1.3"/>
<text transform="translate(206.60,246.40) rotate(-90)" font-size="9.0" textLength="38.50" lengthAdjust="spacingAndGlyphs" fill="#222" stroke="#222" stroke-width="0.38">Cells/channel</text>
<text x="215.80" y="264.00" font-size="9" textLength="17.20" lengthAdjust="spacingAndGlyphs" stroke="#222" stroke-width="0.35">TMRE</text>
<line x1="235.00" y1="172.75" x2="280.60" y2="172.75" stroke="#333" stroke-width="1.1"/>
<line x1="280.60" y1="170.60" x2="280.60" y2="174.90" stroke="#333" stroke-width="1.1"/>
<circle cx="235" cy="172.75" r="1.2" fill="#111"/>
<text x="249.60" y="170.30" font-size="8.5" textLength="17.40" lengthAdjust="spacingAndGlyphs" stroke="#222" stroke-width="0.06">55 %</text>
<path d="M257.50 236.20 L258.12 235.52 L258.75 234.90 L259.38 234.50 L260.00 234.00 L260.33 232.99 L260.67 232.12 L261.00 231.45 L261.33 230.88 L261.67 229.98 L262.00 229.00 L262.27 228.35 L262.55 227.29 L262.82 226.66 L263.10 225.74 L263.38 224.90 L263.65 224.08 L263.93 223.34 L264.20 222.70 L264.43 222.08 L264.65 221.19 L264.88 220.34 L265.10 219.50 L265.32 218.36 L265.55 217.58 L265.77 216.90 L266.00 216.00 L266.25 215.32 L266.50 214.58 L266.75 213.79 L267.00 212.59 L267.25 212.05 L267.50 211.29 L267.75 210.40 L268.00 209.60 L268.50 208.66 L269.00 208.04 L269.50 207.07 L270.00 206.50 L270.95 206.22 L271.90 205.50 L272.43 206.35 L272.97 206.86 L273.50 207.50 L273.76 208.26 L274.01 209.42 L274.27 210.11 L274.53 211.12 L274.79 211.96 L275.04 212.65 L275.30 213.50 L276.15 213.96 L277.00 214.50 L277.52 215.35 L278.04 216.07 L278.56 216.73 L279.08 217.60 L279.60 218.50 L280.06 217.96 L280.52 216.87 L280.98 216.17 L281.44 215.76 L281.90 215.00 L282.70 215.39 L283.50 216.00 L283.71 215.16 L283.93 214.27 L284.14 213.35 L284.36 212.82 L284.57 211.56 L284.79 210.81 L285.00 210.00 L285.12 209.03 L285.24 208.42 L285.35 207.42 L285.47 206.63 L285.59 206.01 L285.71 204.97 L285.82 204.26 L285.94 203.61 L286.06 202.39 L286.18 201.55 L286.29 200.81 L286.41 200.25 L286.53 199.35 L286.65 198.34 L286.76 197.56 L286.88 196.66 L287.00 196.00 L287.09 195.16 L287.18 194.14 L287.27 193.64 L287.36 192.93 L287.45 192.14 L287.55 191.21 L287.64 190.50 L287.73 189.21 L287.82 188.53 L287.91 188.05 L288.00 187.14 L288.09 186.14 L288.18 185.59 L288.27 184.61 L288.36 183.89 L288.45 182.81 L288.55 181.94 L288.64 181.24 L288.73 180.27 L288.82 179.58 L288.91 179.05 L289.00 178.00 L289.09 177.10 L289.19 176.13 L289.28 175.33 L289.38 174.58 L289.47 174.08 L289.56 173.06 L289.66 172.21 L289.75 171.30 L289.84 170.93 L289.94 169.84 L290.03 168.92 L290.12 168.03 L290.22 167.22 L290.31 166.46 L290.41 165.90 L290.50 165.00 L290.70 164.02 L290.90 163.17 L291.10 162.60 L291.30 161.67 L291.50 161.25 L291.70 160.01 L291.90 159.41 L292.10 158.74 L292.30 157.75 L292.50 157.00 L293.50 158.00 L294.00 159.24 L294.50 160.00 L294.64 160.86 L294.77 161.62 L294.91 162.58 L295.05 163.27 L295.19 164.34 L295.33 165.12 L295.46 166.32 L295.60 167.00 L295.80 168.02 L296.00 168.71 L296.20 169.34 L296.40 170.31 L296.60 171.16 L296.80 172.00 L297.00 173.00 L297.09 173.69 L297.18 174.83 L297.26 175.29 L297.35 176.07 L297.44 177.33 L297.53 177.97 L297.62 179.01 L297.71 179.54 L297.79 180.61 L297.88 181.31 L297.97 182.20 L298.06 183.00 L298.15 183.70 L298.24 184.33 L298.32 185.21 L298.41 186.36 L298.50 187.00 L298.57 188.02 L298.64 188.85 L298.70 189.37 L298.77 190.35 L298.84 191.24 L298.91 191.98 L298.98 192.88 L299.05 193.56 L299.11 194.44 L299.18 195.27 L299.25 195.88 L299.32 197.03 L299.39 197.86 L299.45 198.24 L299.52 199.51 L299.59 200.32 L299.66 200.99 L299.73 201.50 L299.80 202.74 L299.86 203.18 L299.93 204.42 L300.00 205.00 L300.07 205.89 L300.14 206.40 L300.21 207.26 L300.29 208.31 L300.36 209.08 L300.43 209.98 L300.50 210.88 L300.57 211.34 L300.64 212.04 L300.71 213.31 L300.79 213.66 L300.86 214.90 L300.93 215.33 L301.00 216.49 L301.07 217.28 L301.14 218.14 L301.21 218.79 L301.29 219.76 L301.36 220.23 L301.43 221.28 L301.50 222.00 L301.61 222.73 L301.72 223.83 L301.83 224.59 L301.94 225.26 L302.05 226.10 L302.15 226.67 L302.26 227.49 L302.37 228.59 L302.48 229.36 L302.59 230.36 L302.70 231.00 L302.95 231.89 L303.20 232.49 L303.45 233.43 L303.70 234.47 L303.95 235.18 L304.20 236.00" fill="none" stroke="#6ab64a" stroke-width="1.1" stroke-linejoin="round"/>
<path d="M258.00 236.20 L258.60 235.62 L259.20 235.04 L259.80 234.43 L260.40 233.86 L261.00 233.00 L261.42 232.42 L261.83 231.81 L262.25 230.66 L262.67 230.18 L263.08 229.72 L263.50 228.80 L263.64 228.07 L263.77 227.40 L263.91 226.21 L264.05 225.58 L264.18 224.67 L264.32 224.02 L264.45 223.24 L264.59 222.16 L264.73 221.46 L264.86 220.69 L265.00 220.00 L265.06 219.41 L265.12 218.53 L265.18 217.43 L265.24 216.95 L265.30 215.82 L265.36 215.26 L265.42 214.21 L265.48 213.35 L265.54 212.99 L265.60 211.85 L265.66 211.06 L265.72 210.64 L265.78 209.79 L265.84 208.69 L265.90 208.23 L265.96 207.22 L266.02 206.49 L266.08 205.45 L266.14 205.02 L266.20 204.10 L266.26 203.43 L266.32 202.60 L266.38 201.50 L266.44 200.73 L266.50 200.00 L266.57 199.02 L266.64 198.20 L266.71 197.35 L266.79 196.66 L266.86 196.00 L266.93 194.89 L267.00 194.42 L267.07 193.44 L267.14 192.62 L267.21 192.06 L267.29 191.09 L267.36 190.19 L267.43 189.47 L267.50 188.77 L267.57 187.64 L267.64 187.29 L267.71 186.00 L267.79 185.55 L267.86 184.79 L267.93 183.57 L268.00 183.00 L268.07 182.34 L268.13 181.33 L268.20 180.64 L268.27 179.55 L268.33 178.77 L268.40 178.04 L268.47 177.63 L268.53 176.45 L268.60 175.93 L268.67 175.21 L268.73 174.42 L268.80 173.32 L268.87 172.53 L268.93 171.81 L269.00 171.00 L269.17 170.22 L269.33 168.97 L269.50 168.37 L269.67 167.48 L269.83 166.60 L270.00 165.50 L271.20 164.60 L271.85 165.32 L272.50 166.50 L272.81 167.60 L273.12 168.05 L273.44 169.05 L273.75 170.00 L273.82 170.89 L273.89 171.88 L273.96 172.42 L274.03 173.55 L274.10 174.19 L274.17 174.91 L274.24 175.74 L274.31 176.51 L274.38 177.29 L274.44 178.16 L274.51 179.26 L274.58 180.25 L274.65 180.66 L274.72 181.44 L274.79 182.74 L274.86 183.35 L274.93 184.12 L275.00 185.00 L275.04 185.69 L275.09 186.69 L275.13 187.63 L275.18 188.26 L275.22 189.07 L275.27 189.71 L275.31 190.96 L275.36 191.34 L275.40 192.39 L275.45 193.38 L275.49 193.85 L275.54 194.97 L275.58 195.90 L275.62 196.57 L275.67 197.47 L275.71 197.95 L275.76 198.93 L275.80 199.61 L275.85 200.78 L275.89 201.33 L275.94 202.23 L275.98 203.32 L276.03 204.07 L276.07 204.95 L276.12 205.51 L276.16 206.35 L276.21 207.29 L276.25 208.00 L276.35 208.82 L276.46 209.56 L276.56 210.45 L276.67 211.16 L276.77 212.11 L276.88 213.24 L276.98 214.06 L277.08 214.73 L277.19 215.50 L277.29 216.25 L277.40 216.96 L277.50 218.00 L277.80 218.67 L278.10 219.71 L278.40 220.54 L278.70 221.07 L279.00 222.07 L279.30 222.85 L279.60 223.50 L280.55 223.10 L281.50 222.50 L281.83 221.83 L282.17 221.13 L282.50 220.18 L282.83 219.60 L283.17 218.64 L283.50 218.00 L283.67 217.16 L283.83 216.47 L284.00 215.60 L284.17 214.56 L284.33 214.06 L284.50 213.07 L284.67 212.21 L284.83 211.09 L285.00 210.52 L285.17 209.54 L285.33 208.92 L285.50 208.00 L285.62 207.17 L285.75 206.53 L285.88 205.64 L286.00 204.90 L286.12 203.86 L286.25 203.20 L286.38 202.43 L286.50 201.66 L286.62 200.61 L286.75 200.05 L286.88 199.25 L287.00 198.34 L287.12 197.68 L287.25 196.85 L287.38 195.82 L287.50 195.00 L287.63 194.21 L287.77 193.23 L287.90 192.77 L288.03 192.02 L288.17 190.99 L288.30 190.30 L288.43 189.51 L288.57 188.72 L288.70 187.64 L288.83 187.14 L288.97 186.24 L289.10 185.48 L289.23 184.56 L289.37 183.86 L289.50 183.00 L289.79 182.28 L290.07 181.35 L290.36 180.54 L290.64 179.34 L290.93 178.54 L291.21 177.83 L291.50 177.00 L292.25 176.34 L293.00 175.39 L293.75 174.80 L294.17 175.79 L294.58 176.67 L295.00 177.50 L295.15 178.12 L295.30 179.19 L295.45 179.91 L295.60 180.68 L295.75 181.57 L295.90 182.51 L296.05 183.29 L296.20 184.15 L296.35 184.92 L296.50 186.00 L296.60 186.78 L296.70 187.54 L296.80 188.46 L296.90 189.25 L297.00 189.87 L297.10 191.00 L297.20 191.35 L297.30 192.35 L297.40 193.09 L297.50 193.96 L297.60 194.61 L297.70 195.77 L297.80 196.34 L297.90 196.97 L298.00 198.00 L298.07 198.86 L298.15 199.40 L298.23 200.42 L298.30 201.12 L298.38 202.04 L298.45 203.03 L298.52 203.76 L298.60 204.36 L298.68 205.36 L298.75 206.07 L298.82 206.73 L298.90 207.42 L298.98 208.45 L299.05 209.23 L299.12 210.23 L299.20 211.03 L299.27 211.65 L299.35 212.33 L299.43 213.40 L299.50 214.00 L299.60 214.55 L299.70 215.40 L299.80 216.43 L299.90 217.26 L300.00 217.82 L300.10 218.86 L300.20 219.80 L300.30 220.34 L300.40 221.17 L300.50 221.86 L300.60 222.70 L300.70 223.84 L300.80 224.34 L300.90 225.43 L301.00 226.00 L301.19 227.08 L301.38 227.80 L301.56 228.50 L301.75 229.74 L301.94 230.37 L302.12 231.21 L302.31 232.03 L302.50 233.00 L302.88 233.99 L303.25 234.50 L303.62 235.14 L304.00 236.00" fill="none" stroke="#b8123e" stroke-width="1.3" stroke-linejoin="round"/>
<line x1="301.90" y1="150.00" x2="316.50" y2="150.00" stroke="#6ab64a" stroke-width="1.4"/>
<line x1="301.90" y1="161.50" x2="316.50" y2="161.50" stroke="#b8123e" stroke-width="1.4"/>
<text x="319.60" y="152.60" font-size="8.5" textLength="23.20" lengthAdjust="spacingAndGlyphs" stroke="#222" stroke-width="0.06">Control</text>
<text x="319.60" y="164.10" font-size="8.5" textLength="21.50" lengthAdjust="spacingAndGlyphs" stroke="#222" stroke-width="0.06">PKT16</text>
<line x1="381.30" y1="151.30" x2="381.30" y2="237.10" stroke="#1a1a1a" stroke-width="1.4"/>
<line x1="378.50" y1="236.50" x2="381.30" y2="236.50" stroke="#1a1a1a" stroke-width="1.1"/>
<text x="375.35" y="239.35" font-size="8.2" text-anchor="end" stroke="#222" stroke-width="0.06">0</text>
<line x1="378.50" y1="212.17" x2="381.30" y2="212.17" stroke="#1a1a1a" stroke-width="1.1"/>
<text x="375.35" y="215.02" font-size="8.2" text-anchor="end" stroke="#222" stroke-width="0.06">20</text>
<line x1="378.50" y1="187.83" x2="381.30" y2="187.83" stroke="#1a1a1a" stroke-width="1.1"/>
<text x="375.35" y="190.68" font-size="8.2" text-anchor="end" stroke="#222" stroke-width="0.06">40</text>
<line x1="378.50" y1="163.50" x2="381.30" y2="163.50" stroke="#1a1a1a" stroke-width="1.1"/>
<text x="375.35" y="166.35" font-size="8.2" text-anchor="end" stroke="#222" stroke-width="0.06">60</text>
<line x1="380.80" y1="236.50" x2="446.00" y2="236.50" stroke="#1a1a1a" stroke-width="1.4"/>
<line x1="397.50" y1="236.50" x2="397.50" y2="239.00" stroke="#1a1a1a" stroke-width="1"/>
<line x1="430.50" y1="236.50" x2="430.50" y2="239.00" stroke="#1a1a1a" stroke-width="1"/>
<rect x="386.50" y="206.40" width="21.90" height="29.70" fill="#64a33c"/>
<line x1="397.45" y1="206.40" x2="397.45" y2="204.00" stroke="#1a1a1a" stroke-width="1.1"/>
<line x1="393.70" y1="204.00" x2="401.20" y2="204.00" stroke="#1a1a1a" stroke-width="1.1"/>
<rect x="419.60" y="174.80" width="21.70" height="61.30" fill="#a3002c"/>
<line x1="430.45" y1="174.80" x2="430.45" y2="168.70" stroke="#1a1a1a" stroke-width="1.1"/>
<line x1="426.70" y1="168.70" x2="434.20" y2="168.70" stroke="#1a1a1a" stroke-width="1.1"/>
<line x1="397.60" y1="161.60" x2="431.20" y2="161.60" stroke="#333" stroke-width="1.1"/>
<line x1="397.60" y1="159.40" x2="397.60" y2="163.80" stroke="#333" stroke-width="1.1"/>
<line x1="431.20" y1="159.40" x2="431.20" y2="163.80" stroke="#333" stroke-width="1.1"/>
<text x="401.00" y="157.00" font-size="8.5" textLength="26.20" lengthAdjust="spacingAndGlyphs" stroke="#222" stroke-width="0.06">p &lt; 0.01</text>
<text x="385.10" y="249.60" font-size="8.5" textLength="24.90" lengthAdjust="spacingAndGlyphs" stroke="#222" stroke-width="0.06">Control</text>
<text x="419.20" y="249.60" font-size="8.5" textLength="22.30" lengthAdjust="spacingAndGlyphs" stroke="#222" stroke-width="0.06">PKT16</text>
<text transform="translate(360.50,216.00) rotate(-90)" font-size="9.0" textLength="43.20" lengthAdjust="spacingAndGlyphs" fill="#222" stroke="#222" stroke-width="0.38">&#916;&#968;m low (%)</text>
<text x="6.40" y="283.70" font-size="11.6" fill="#000" font-weight="bold">F</text>
<line x1="43.60" y1="305.00" x2="43.60" y2="373.00" stroke="#1a1a1a" stroke-width="1.4"/>
<line x1="40.80" y1="372.40" x2="43.60" y2="372.40" stroke="#1a1a1a" stroke-width="1.1"/>
<text x="38.15" y="375.25" font-size="8.2" text-anchor="end" stroke="#222" stroke-width="0.06">0</text>
<line x1="40.80" y1="354.46" x2="43.60" y2="354.46" stroke="#1a1a1a" stroke-width="1.1"/>
<text x="38.15" y="357.31" font-size="8.2" text-anchor="end" stroke="#222" stroke-width="0.06">50</text>
<line x1="40.80" y1="336.53" x2="43.60" y2="336.53" stroke="#1a1a1a" stroke-width="1.1"/>
<text x="38.15" y="339.38" font-size="8.2" text-anchor="end" stroke="#222" stroke-width="0.06">100</text>
<line x1="40.80" y1="318.59" x2="43.60" y2="318.59" stroke="#1a1a1a" stroke-width="1.1"/>
<text x="38.15" y="321.44" font-size="8.2" text-anchor="end" stroke="#222" stroke-width="0.06">150</text>
<line x1="42.10" y1="372.40" x2="43.60" y2="372.40" stroke="#1a1a1a" stroke-width="0.7"/>
<line x1="42.10" y1="368.81" x2="43.60" y2="368.81" stroke="#1a1a1a" stroke-width="0.7"/>
<line x1="42.10" y1="365.23" x2="43.60" y2="365.23" stroke="#1a1a1a" stroke-width="0.7"/>
<line x1="42.10" y1="361.64" x2="43.60" y2="361.64" stroke="#1a1a1a" stroke-width="0.7"/>
<line x1="42.10" y1="358.05" x2="43.60" y2="358.05" stroke="#1a1a1a" stroke-width="0.7"/>
<line x1="42.10" y1="354.46" x2="43.60" y2="354.46" stroke="#1a1a1a" stroke-width="0.7"/>
<line x1="42.10" y1="350.88" x2="43.60" y2="350.88" stroke="#1a1a1a" stroke-width="0.7"/>
<line x1="42.10" y1="347.29" x2="43.60" y2="347.29" stroke="#1a1a1a" stroke-width="0.7"/>
<line x1="42.10" y1="343.70" x2="43.60" y2="343.70" stroke="#1a1a1a" stroke-width="0.7"/>
<line x1="42.10" y1="340.12" x2="43.60" y2="340.12" stroke="#1a1a1a" stroke-width="0.7"/>
<line x1="42.10" y1="336.53" x2="43.60" y2="336.53" stroke="#1a1a1a" stroke-width="0.7"/>
<line x1="42.10" y1="332.94" x2="43.60" y2="332.94" stroke="#1a1a1a" stroke-width="0.7"/>
<line x1="42.10" y1="329.36" x2="43.60" y2="329.36" stroke="#1a1a1a" stroke-width="0.7"/>
<line x1="42.10" y1="325.77" x2="43.60" y2="325.77" stroke="#1a1a1a" stroke-width="0.7"/>
<line x1="42.10" y1="322.18" x2="43.60" y2="322.18" stroke="#1a1a1a" stroke-width="0.7"/>
<line x1="42.10" y1="318.59" x2="43.60" y2="318.59" stroke="#1a1a1a" stroke-width="0.7"/>
<line x1="42.10" y1="315.01" x2="43.60" y2="315.01" stroke="#1a1a1a" stroke-width="0.7"/>
<line x1="42.10" y1="311.42" x2="43.60" y2="311.42" stroke="#1a1a1a" stroke-width="0.7"/>
<line x1="43.00" y1="372.40" x2="108.00" y2="372.40" stroke="#1a1a1a" stroke-width="1.4"/>
<path d="M57.50 372.40v2.4M62.77 372.40v1.5M65.85 372.40v1.5M68.04 372.40v1.5M69.73 372.40v1.5M71.12 372.40v1.5M72.29 372.40v1.5M73.30 372.40v1.5M74.20 372.40v1.5M75.00 372.40v2.4M80.27 372.40v1.5M83.35 372.40v1.5M85.54 372.40v1.5M87.23 372.40v1.5M88.62 372.40v1.5M89.79 372.40v1.5M90.80 372.40v1.5M91.70 372.40v1.5M92.50 372.40v2.4M97.77 372.40v1.5M100.85 372.40v1.5M103.04 372.40v1.5M104.73 372.40v1.5M106.12 372.40v1.5M46.70 372.40v1.8M48.05 372.40v1.8M49.40 372.40v1.8M50.75 372.40v1.8M52.10 372.40v1.8M53.45 372.40v1.8M54.80 372.40v1.8M56.15 372.40v1.8M57.50 372.40v1.8" stroke="#222" stroke-width="0.75" fill="none"/>
<rect x="47.00" y="372.60" width="3.00" height="1.80" fill="#222"/>
<rect x="53.00" y="372.60" width="4.50" height="1.80" fill="#222"/>
<line x1="47.20" y1="372.40" x2="47.20" y2="374.80" stroke="#1a1a1a" stroke-width="1"/>
<line x1="75.00" y1="372.40" x2="75.00" y2="374.80" stroke="#1a1a1a" stroke-width="1"/>
<line x1="92.50" y1="372.40" x2="92.50" y2="374.80" stroke="#1a1a1a" stroke-width="1"/>
<text x="47.20" y="385.10" font-size="8.5" text-anchor="middle" stroke="#222" stroke-width="0.06">0</text>
<text x="69.50" y="385.30" font-size="8.5" textLength="8.00" lengthAdjust="spacingAndGlyphs" stroke="#222" stroke-width="0.06">10</text>
<text x="77.60" y="381.60" font-size="5" stroke="#222" stroke-width="0.06">3</text>
<text x="86.80" y="385.30" font-size="8.5" textLength="8.00" lengthAdjust="spacingAndGlyphs" stroke="#222" stroke-width="0.06">10</text>
<text x="94.90" y="381.60" font-size="5" stroke="#222" stroke-width="0.06">4</text>
<line x1="21.20" y1="337.80" x2="21.20" y2="389.20" stroke="#1a1a1a" stroke-width="1.3"/>
<line x1="20.70" y1="389.20" x2="55.00" y2="389.20" stroke="#1a1a1a" stroke-width="1.3"/>
<text transform="translate(17.80,382.20) rotate(-90)" font-size="9.0" textLength="37.60" lengthAdjust="spacingAndGlyphs" fill="#222" stroke="#222" stroke-width="0.38">Cells/channel</text>
<text x="27.60" y="398.50" font-size="9" textLength="21.80" lengthAdjust="spacingAndGlyphs" stroke="#222" stroke-width="0.35">Mitosox</text>
<line x1="62.30" y1="313.90" x2="106.90" y2="313.90" stroke="#333" stroke-width="1.1"/>
<line x1="62.30" y1="311.80" x2="62.30" y2="316.00" stroke="#333" stroke-width="1.1"/>
<line x1="106.90" y1="311.80" x2="106.90" y2="316.00" stroke="#333" stroke-width="1.1"/>
<text x="76.00" y="309.20" font-size="8.5" textLength="17.20" lengthAdjust="spacingAndGlyphs" stroke="#222" stroke-width="0.06">53 %</text>
<path d="M44.00 372.40 L44.73 372.48 L45.45 372.39 L46.17 372.09 L46.90 372.00 L47.13 371.19 L47.37 370.37 L47.60 370.10 L47.83 369.32 L48.07 368.82 L48.30 367.92 L48.53 367.50 L48.77 366.53 L49.00 366.00 L49.07 365.45 L49.14 364.68 L49.20 363.77 L49.27 363.11 L49.34 362.47 L49.41 361.45 L49.48 360.94 L49.55 360.36 L49.61 359.31 L49.68 358.91 L49.75 358.11 L49.82 357.48 L49.89 356.45 L49.95 355.57 L50.02 355.27 L50.09 354.55 L50.16 353.60 L50.23 352.67 L50.30 352.00 L50.36 351.54 L50.43 350.60 L50.50 350.00 L50.54 349.56 L50.59 348.62 L50.63 347.68 L50.67 347.24 L50.71 346.34 L50.76 345.97 L50.80 345.25 L50.84 344.29 L50.89 343.66 L50.93 342.98 L50.97 342.33 L51.01 341.71 L51.06 340.43 L51.10 339.92 L51.14 339.35 L51.19 338.45 L51.23 337.91 L51.27 336.90 L51.31 336.66 L51.36 335.73 L51.40 334.77 L51.44 334.38 L51.49 333.46 L51.53 332.67 L51.57 332.13 L51.61 331.21 L51.66 330.54 L51.70 330.00 L51.75 329.51 L51.79 328.71 L51.84 327.59 L51.89 327.34 L51.94 326.18 L51.98 325.66 L52.03 325.30 L52.08 324.43 L52.12 323.53 L52.17 322.87 L52.22 322.17 L52.26 321.31 L52.31 321.12 L52.36 319.85 L52.41 319.37 L52.45 318.85 L52.50 318.00 L52.60 317.24 L52.70 316.89 L52.80 315.75 L52.90 315.49 L53.00 314.74 L53.10 313.80 L53.33 314.64 L53.57 315.50 L53.80 316.00 L54.50 315.00 L54.58 315.67 L54.66 316.60 L54.74 317.28 L54.82 317.81 L54.90 318.48 L54.98 319.32 L55.06 319.85 L55.14 320.35 L55.22 321.45 L55.30 322.00 L55.36 322.58 L55.41 323.43 L55.47 324.33 L55.52 324.68 L55.58 325.31 L55.64 326.09 L55.69 327.08 L55.75 327.67 L55.81 328.32 L55.86 329.16 L55.92 330.16 L55.98 330.48 L56.03 331.29 L56.09 332.29 L56.14 332.85 L56.20 333.50 L56.24 334.08 L56.29 334.92 L56.33 335.64 L56.37 336.15 L56.42 337.01 L56.46 337.69 L56.50 338.70 L56.55 339.13 L56.59 340.05 L56.63 340.96 L56.68 341.65 L56.72 342.03 L56.77 342.89 L56.81 343.44 L56.85 344.20 L56.90 344.97 L56.94 345.87 L56.98 346.68 L57.03 347.00 L57.07 347.55 L57.11 348.53 L57.16 349.02 L57.20 350.00 L57.26 350.44 L57.32 351.60 L57.38 351.92 L57.44 353.00 L57.50 353.51 L57.55 354.57 L57.61 355.24 L57.67 355.48 L57.73 356.28 L57.79 357.45 L57.85 357.97 L57.91 358.57 L57.97 359.51 L58.03 360.24 L58.09 360.77 L58.15 361.47 L58.20 361.97 L58.26 362.84 L58.32 363.43 L58.38 364.44 L58.44 365.15 L58.50 365.80 L58.80 366.33 L59.10 367.36 L59.40 367.78 L59.70 368.52 L60.00 369.50 L60.75 369.84 L61.50 369.98 L62.25 370.49 L63.00 370.50 L63.75 370.65 L64.50 370.77 L65.25 370.50 L66.00 370.80 L66.75 370.85 L67.50 370.25 L68.25 370.42 L69.00 370.20 L69.67 370.21 L70.33 369.98 L71.00 369.50 L71.53 369.19 L72.05 368.37 L72.57 367.97 L73.10 367.30 L73.73 368.04 L74.37 368.22 L75.00 369.00 L75.75 369.64 L76.50 370.00 L77.25 370.09 L78.00 370.50 L78.80 370.77 L79.60 370.67 L80.40 370.67 L81.20 371.03 L82.00 371.00 L82.80 370.70 L83.60 371.10 L84.40 371.17 L85.20 370.71 L86.00 370.80 L86.75 370.99 L87.50 370.40 L88.25 370.79 L89.00 370.50 L89.66 370.11 L90.32 370.26 L90.98 369.68 L91.64 369.71 L92.30 369.20 L92.87 369.35 L93.43 369.82 L94.00 370.50 L94.75 370.94 L95.50 371.08 L96.25 371.27 L97.00 371.50 L97.75 371.29 L98.50 371.45 L99.25 371.65 L100.00 371.80 L100.75 371.63 L101.50 372.30 L102.25 372.26 L103.00 372.20 L103.75 372.52 L104.50 372.42 L105.25 372.26 L106.00 372.40" fill="none" stroke="#6ab64a" stroke-width="1.1" stroke-linejoin="round"/>
<path d="M44.00 372.40 L44.75 372.26 L45.50 372.12 L46.25 372.39 L47.00 372.01 L47.75 372.25 L48.50 372.20 L49.00 371.39 L49.50 370.47 L50.00 370.00 L50.11 369.29 L50.21 368.29 L50.32 367.82 L50.43 366.88 L50.54 366.18 L50.64 365.67 L50.75 365.20 L50.86 364.06 L50.96 363.41 L51.07 362.93 L51.18 362.41 L51.29 361.47 L51.39 360.65 L51.50 360.00 L51.55 359.57 L51.59 358.30 L51.64 358.07 L51.69 357.02 L51.73 356.22 L51.78 355.48 L51.83 354.89 L51.87 354.48 L51.92 353.38 L51.96 352.91 L52.01 352.23 L52.06 351.35 L52.10 350.74 L52.15 349.74 L52.20 349.02 L52.24 348.40 L52.29 347.97 L52.34 347.10 L52.38 346.32 L52.43 345.77 L52.47 344.97 L52.52 344.17 L52.57 343.75 L52.61 342.98 L52.66 341.99 L52.71 341.47 L52.75 340.73 L52.80 340.00 L52.85 339.51 L52.90 338.70 L52.94 337.71 L52.99 337.41 L53.04 336.17 L53.09 335.63 L53.14 335.11 L53.18 334.03 L53.23 333.51 L53.28 332.52 L53.33 332.18 L53.38 331.52 L53.42 330.68 L53.47 330.15 L53.52 329.09 L53.57 328.60 L53.62 327.82 L53.66 327.09 L53.71 326.29 L53.76 325.80 L53.81 325.15 L53.86 324.14 L53.90 323.54 L53.95 322.46 L54.00 322.00 L54.14 321.35 L54.27 320.54 L54.41 319.97 L54.55 319.09 L54.69 318.00 L54.83 317.28 L54.96 316.68 L55.10 315.80 L55.45 316.36 L55.80 317.50 L55.87 318.23 L55.94 318.80 L56.01 319.52 L56.08 320.24 L56.15 321.41 L56.22 321.78 L56.29 322.60 L56.36 323.43 L56.43 324.47 L56.50 325.00 L56.55 325.48 L56.61 326.44 L56.66 327.23 L56.71 328.16 L56.77 328.86 L56.82 329.62 L56.87 330.00 L56.93 330.82 L56.98 331.52 L57.03 332.56 L57.09 333.34 L57.14 333.59 L57.19 334.34 L57.25 335.11 L57.30 336.00 L57.36 336.54 L57.43 337.39 L57.49 338.15 L57.56 338.66 L57.62 339.20 L57.69 340.15 L57.75 340.82 L57.81 341.64 L57.88 342.57 L57.94 343.11 L58.01 343.71 L58.07 344.47 L58.14 345.21 L58.20 345.80 L58.29 346.26 L58.39 347.50 L58.48 348.15 L58.57 348.94 L58.66 349.62 L58.76 350.11 L58.85 350.84 L58.94 351.39 L59.04 352.44 L59.13 352.82 L59.22 353.55 L59.31 354.37 L59.41 355.07 L59.50 356.00 L59.64 356.65 L59.79 357.22 L59.93 357.93 L60.08 358.77 L60.22 359.48 L60.37 360.38 L60.51 360.93 L60.66 362.18 L60.80 362.70 L61.22 363.47 L61.65 363.89 L62.08 364.65 L62.50 365.50 L63.20 365.61 L63.90 365.82 L64.60 366.10 L65.40 365.67 L66.20 365.91 L67.00 365.50 L67.75 365.37 L68.50 364.63 L69.25 364.22 L70.00 363.80 L70.77 363.18 L71.53 362.83 L72.30 362.70 L73.20 362.47 L74.10 362.29 L75.00 362.30 L76.00 362.75 L77.00 362.80 L77.75 362.27 L78.50 361.86 L79.25 362.10 L80.00 361.50 L81.00 361.27 L82.00 361.00 L82.65 360.44 L83.30 360.33 L83.95 359.67 L84.60 359.60 L85.07 358.97 L85.55 358.59 L86.03 357.87 L86.50 357.00 L86.88 356.37 L87.25 355.36 L87.62 354.67 L88.00 354.00 L88.24 353.08 L88.48 352.72 L88.72 351.86 L88.96 351.29 L89.20 350.40 L89.40 349.62 L89.60 348.88 L89.80 348.56 L90.00 347.99 L90.20 347.24 L90.40 346.53 L90.60 345.87 L90.80 345.00 L90.95 344.44 L91.10 343.44 L91.25 342.91 L91.40 342.11 L91.55 341.22 L91.70 340.52 L91.85 339.97 L92.00 339.26 L92.15 338.82 L92.30 338.00 L92.37 337.56 L92.44 336.54 L92.51 336.12 L92.59 335.44 L92.66 334.70 L92.73 333.63 L92.80 332.83 L92.87 332.12 L92.94 331.39 L93.01 330.68 L93.09 330.22 L93.16 329.67 L93.23 328.92 L93.30 328.00 L93.36 327.27 L93.42 326.67 L93.48 326.04 L93.54 324.90 L93.60 324.53 L93.66 323.97 L93.72 323.18 L93.78 322.44 L93.84 321.57 L93.90 320.67 L93.96 320.33 L94.02 319.34 L94.08 318.91 L94.14 318.30 L94.20 317.30 L94.24 317.94 L94.29 318.65 L94.33 319.68 L94.38 320.26 L94.42 320.63 L94.47 321.31 L94.51 322.03 L94.56 323.19 L94.60 323.83 L94.64 324.14 L94.69 325.26 L94.73 326.05 L94.78 326.57 L94.82 327.09 L94.87 327.91 L94.91 328.37 L94.96 329.00 L95.00 330.00 L95.02 331.00 L95.04 331.52 L95.06 332.16 L95.09 333.12 L95.11 333.53 L95.13 334.51 L95.15 335.20 L95.17 335.54 L95.19 336.28 L95.21 337.02 L95.24 337.70 L95.26 338.62 L95.28 339.14 L95.30 339.95 L95.32 340.49 L95.34 341.67 L95.36 342.06 L95.39 342.83 L95.41 343.62 L95.43 344.53 L95.45 344.95 L95.47 345.96 L95.49 346.43 L95.51 347.16 L95.54 347.87 L95.56 348.28 L95.58 349.25 L95.60 350.00 L95.63 350.52 L95.66 351.13 L95.69 352.32 L95.71 352.66 L95.74 353.56 L95.77 354.42 L95.80 355.03 L95.83 355.61 L95.86 356.44 L95.89 357.18 L95.91 358.03 L95.94 358.34 L95.97 359.32 L96.00 359.85 L96.03 360.58 L96.06 361.59 L96.09 362.15 L96.11 362.89 L96.14 363.73 L96.17 364.53 L96.20 365.00 L96.46 365.67 L96.72 366.47 L96.98 367.10 L97.24 367.81 L97.50 368.50 L98.25 368.87 L99.00 369.00 L100.00 369.60 L100.75 369.77 L101.50 370.00 L102.00 370.52 L102.50 370.99 L103.00 371.50 L103.80 372.16 L104.60 372.30 L105.40 372.45 L106.20 372.59 L107.00 372.40" fill="none" stroke="#b8123e" stroke-width="1.3" stroke-linejoin="round"/>
<line x1="151.30" y1="305.00" x2="151.30" y2="373.00" stroke="#1a1a1a" stroke-width="1.4"/>
<line x1="148.50" y1="372.40" x2="151.30" y2="372.40" stroke="#1a1a1a" stroke-width="1.1"/>
<text x="145.55" y="375.25" font-size="8.2" text-anchor="end" stroke="#222" stroke-width="0.06">0</text>
<line x1="148.50" y1="359.65" x2="151.30" y2="359.65" stroke="#1a1a1a" stroke-width="1.1"/>
<text x="145.55" y="362.50" font-size="8.2" text-anchor="end" stroke="#222" stroke-width="0.06">20</text>
<line x1="148.50" y1="346.90" x2="151.30" y2="346.90" stroke="#1a1a1a" stroke-width="1.1"/>
<text x="145.55" y="349.75" font-size="8.2" text-anchor="end" stroke="#222" stroke-width="0.06">40</text>
<line x1="148.50" y1="334.15" x2="151.30" y2="334.15" stroke="#1a1a1a" stroke-width="1.1"/>
<text x="145.55" y="337.00" font-size="8.2" text-anchor="end" stroke="#222" stroke-width="0.06">60</text>
<line x1="148.50" y1="321.40" x2="151.30" y2="321.40" stroke="#1a1a1a" stroke-width="1.1"/>
<text x="145.55" y="324.25" font-size="8.2" text-anchor="end" stroke="#222" stroke-width="0.06">80</text>
<line x1="148.50" y1="308.65" x2="151.30" y2="308.65" stroke="#1a1a1a" stroke-width="1.1"/>
<text x="145.55" y="311.50" font-size="8.2" text-anchor="end" stroke="#222" stroke-width="0.06">100</text>
<line x1="149.90" y1="372.40" x2="151.30" y2="372.40" stroke="#1a1a1a" stroke-width="0.7"/>
<line x1="149.90" y1="369.21" x2="151.30" y2="369.21" stroke="#1a1a1a" stroke-width="0.7"/>
<line x1="149.90" y1="366.02" x2="151.30" y2="366.02" stroke="#1a1a1a" stroke-width="0.7"/>
<line x1="149.90" y1="362.84" x2="151.30" y2="362.84" stroke="#1a1a1a" stroke-width="0.7"/>
<line x1="149.90" y1="359.65" x2="151.30" y2="359.65" stroke="#1a1a1a" stroke-width="0.7"/>
<line x1="149.90" y1="356.46" x2="151.30" y2="356.46" stroke="#1a1a1a" stroke-width="0.7"/>
<line x1="149.90" y1="353.27" x2="151.30" y2="353.27" stroke="#1a1a1a" stroke-width="0.7"/>
<line x1="149.90" y1="350.09" x2="151.30" y2="350.09" stroke="#1a1a1a" stroke-width="0.7"/>
<line x1="149.90" y1="346.90" x2="151.30" y2="346.90" stroke="#1a1a1a" stroke-width="0.7"/>
<line x1="149.90" y1="343.71" x2="151.30" y2="343.71" stroke="#1a1a1a" stroke-width="0.7"/>
<line x1="149.90" y1="340.52" x2="151.30" y2="340.52" stroke="#1a1a1a" stroke-width="0.7"/>
<line x1="149.90" y1="337.34" x2="151.30" y2="337.34" stroke="#1a1a1a" stroke-width="0.7"/>
<line x1="149.90" y1="334.15" x2="151.30" y2="334.15" stroke="#1a1a1a" stroke-width="0.7"/>
<line x1="149.90" y1="330.96" x2="151.30" y2="330.96" stroke="#1a1a1a" stroke-width="0.7"/>
<line x1="149.90" y1="327.77" x2="151.30" y2="327.77" stroke="#1a1a1a" stroke-width="0.7"/>
<line x1="149.90" y1="324.59" x2="151.30" y2="324.59" stroke="#1a1a1a" stroke-width="0.7"/>
<line x1="149.90" y1="321.40" x2="151.30" y2="321.40" stroke="#1a1a1a" stroke-width="0.7"/>
<line x1="149.90" y1="318.21" x2="151.30" y2="318.21" stroke="#1a1a1a" stroke-width="0.7"/>
<line x1="149.90" y1="315.02" x2="151.30" y2="315.02" stroke="#1a1a1a" stroke-width="0.7"/>
<line x1="149.90" y1="311.84" x2="151.30" y2="311.84" stroke="#1a1a1a" stroke-width="0.7"/>
<line x1="149.90" y1="308.65" x2="151.30" y2="308.65" stroke="#1a1a1a" stroke-width="0.7"/>
<line x1="149.90" y1="305.46" x2="151.30" y2="305.46" stroke="#1a1a1a" stroke-width="0.7"/>
<line x1="150.80" y1="372.40" x2="213.80" y2="372.40" stroke="#1a1a1a" stroke-width="1.4"/>
<path d="M170.00 372.40v2.4M175.72 372.40v1.5M179.07 372.40v1.5M181.44 372.40v1.5M183.28 372.40v1.5M184.78 372.40v1.5M186.06 372.40v1.5M187.16 372.40v1.5M188.13 372.40v1.5M189.50 372.40v2.4M195.22 372.40v1.5M198.57 372.40v1.5M200.94 372.40v1.5M202.78 372.40v1.5M204.28 372.40v1.5M205.56 372.40v1.5M206.66 372.40v1.5M207.63 372.40v1.5M207.50 372.40v2.4M154.00 372.40v1.8M156.00 372.40v1.8M158.00 372.40v1.8M160.00 372.40v1.8M162.00 372.40v1.8M164.00 372.40v1.8M166.00 372.40v1.8M168.00 372.40v1.8" stroke="#222" stroke-width="0.75" fill="none"/>
<rect x="156.00" y="372.60" width="4.00" height="1.80" fill="#222"/>
<line x1="152.00" y1="372.40" x2="152.00" y2="374.80" stroke="#1a1a1a" stroke-width="1"/>
<line x1="170.00" y1="372.40" x2="170.00" y2="374.80" stroke="#1a1a1a" stroke-width="1"/>
<line x1="189.50" y1="372.40" x2="189.50" y2="374.80" stroke="#1a1a1a" stroke-width="1"/>
<line x1="207.50" y1="372.40" x2="207.50" y2="374.80" stroke="#1a1a1a" stroke-width="1"/>
<text x="152.00" y="385.10" font-size="8.5" text-anchor="middle" stroke="#222" stroke-width="0.06">0</text>
<text x="164.20" y="385.30" font-size="8.5" textLength="8.00" lengthAdjust="spacingAndGlyphs" stroke="#222" stroke-width="0.06">10</text>
<text x="172.40" y="381.60" font-size="5" stroke="#222" stroke-width="0.06">2</text>
<text x="183.70" y="385.30" font-size="8.5" textLength="8.00" lengthAdjust="spacingAndGlyphs" stroke="#222" stroke-width="0.06">10</text>
<text x="191.90" y="381.60" font-size="5" stroke="#222" stroke-width="0.06">3</text>
<text x="201.70" y="385.30" font-size="8.5" textLength="8.00" lengthAdjust="spacingAndGlyphs" stroke="#222" stroke-width="0.06">10</text>
<text x="209.90" y="381.60" font-size="5" stroke="#222" stroke-width="0.06">4</text>
<line x1="130.50" y1="340.00" x2="130.50" y2="391.30" stroke="#1a1a1a" stroke-width="1.3"/>
<line x1="130.00" y1="391.30" x2="178.00" y2="391.30" stroke="#1a1a1a" stroke-width="1.3"/>
<text transform="translate(126.00,385.00) rotate(-90)" font-size="9.0" textLength="37.50" lengthAdjust="spacingAndGlyphs" fill="#222" stroke="#222" stroke-width="0.38">Cells/channel</text>
<text x="134.30" y="400.40" font-size="9" textLength="39.60" lengthAdjust="spacingAndGlyphs" stroke="#222" stroke-width="0.35">Hydroethidine</text>
<line x1="176.20" y1="329.40" x2="214.50" y2="329.40" stroke="#333" stroke-width="1.1"/>
<line x1="176.20" y1="327.30" x2="176.20" y2="331.50" stroke="#333" stroke-width="1.1"/>
<line x1="214.50" y1="327.30" x2="214.50" y2="331.50" stroke="#333" stroke-width="1.1"/>
<text x="186.80" y="325.10" font-size="8.5" textLength="16.80" lengthAdjust="spacingAndGlyphs" stroke="#222" stroke-width="0.06">51 %</text>
<line x1="196.30" y1="298.75" x2="210.00" y2="298.75" stroke="#6ab64a" stroke-width="1.4"/>
<line x1="196.30" y1="310.00" x2="210.00" y2="310.00" stroke="#b8123e" stroke-width="1.4"/>
<text x="212.80" y="301.30" font-size="8.5" textLength="23.40" lengthAdjust="spacingAndGlyphs" stroke="#222" stroke-width="0.06">Control</text>
<text x="212.80" y="312.60" font-size="8.5" textLength="21.00" lengthAdjust="spacingAndGlyphs" stroke="#222" stroke-width="0.06">PKT16</text>
<path d="M151.40 363.80 L151.59 363.02 L151.78 362.84 L151.97 361.72 L152.16 361.45 L152.35 360.46 L152.55 359.94 L152.74 359.77 L152.93 358.68 L153.12 358.32 L153.31 357.59 L153.50 357.00 L153.69 356.40 L153.87 355.85 L154.06 355.10 L154.24 354.91 L154.43 353.90 L154.61 353.41 L154.80 352.71 L154.99 352.29 L155.17 351.80 L155.36 351.53 L155.54 350.64 L155.73 349.91 L155.91 349.43 L156.10 349.00 L156.25 348.68 L156.39 347.51 L156.54 347.23 L156.68 346.46 L156.83 346.02 L156.98 345.21 L157.12 344.81 L157.27 344.08 L157.42 343.55 L157.56 343.09 L157.71 342.28 L157.85 341.40 L158.00 341.00 L158.16 340.14 L158.31 340.07 L158.47 339.19 L158.62 338.42 L158.78 338.27 L158.93 337.45 L159.09 336.94 L159.24 336.43 L159.40 335.60 L160.50 336.00 L160.75 335.27 L161.00 334.71 L161.25 334.43 L161.50 333.60 L161.58 332.75 L161.67 332.49 L161.75 331.46 L161.83 331.18 L161.92 330.55 L162.00 330.07 L162.08 329.37 L162.17 328.54 L162.25 327.72 L162.33 327.06 L162.42 326.65 L162.50 326.00 L162.58 325.40 L162.67 324.53 L162.75 324.42 L162.83 323.57 L162.92 323.08 L163.00 322.18 L163.08 321.59 L163.17 320.84 L163.25 320.43 L163.33 319.78 L163.42 319.26 L163.50 318.70 L163.64 319.29 L163.78 320.22 L163.92 320.91 L164.06 321.15 L164.20 322.00 L164.50 322.69 L164.80 323.50 L164.97 323.88 L165.13 324.76 L165.30 325.53 L165.47 325.65 L165.63 326.58 L165.80 327.00 L166.80 327.50 L167.15 327.88 L167.50 328.21 L167.85 329.16 L168.20 329.50 L168.36 329.99 L168.51 330.47 L168.67 331.22 L168.83 331.68 L168.99 332.37 L169.14 332.98 L169.30 333.60 L169.35 334.15 L169.40 334.85 L169.45 335.27 L169.50 335.76 L169.55 336.35 L169.60 336.96 L169.65 337.81 L169.70 338.32 L169.75 339.18 L169.80 339.60 L169.85 340.32 L169.90 341.09 L169.95 341.14 L170.00 342.00 L170.06 342.31 L170.13 342.98 L170.19 343.73 L170.26 344.44 L170.32 345.15 L170.39 345.51 L170.45 346.48 L170.51 346.50 L170.58 347.60 L170.64 347.83 L170.71 348.83 L170.77 348.92 L170.84 350.08 L170.90 350.40 L171.00 351.16 L171.10 351.89 L171.20 352.25 L171.30 352.61 L171.40 353.68 L171.50 353.96 L171.60 354.35 L171.70 355.26 L171.80 355.80 L171.90 356.38 L172.00 357.00 L172.15 357.48 L172.30 358.14 L172.45 359.10 L172.60 359.70 L172.75 360.19 L172.90 361.10 L173.13 361.69 L173.36 362.49 L173.59 363.12 L173.81 363.60 L174.04 364.18 L174.27 364.79 L174.50 365.50 L174.95 365.94 L175.40 366.52 L175.85 367.27 L176.30 367.90 L176.74 368.08 L177.18 368.88 L177.62 369.28 L178.06 369.65 L178.50 370.00 L179.10 370.11 L179.70 370.72 L180.30 371.20 L180.98 371.16 L181.65 370.96 L182.32 371.48 L183.00 371.20 L183.68 371.20 L184.35 370.90 L185.02 370.87 L185.70 370.60 L186.27 370.02 L186.85 369.64 L187.43 369.42 L188.00 369.00 L188.43 368.70 L188.85 368.19 L189.27 367.35 L189.70 367.20 L190.30 367.37 L190.90 367.65 L191.50 367.50 L192.03 367.31 L192.57 367.09 L193.10 366.50 L193.45 366.29 L193.80 365.33 L194.15 364.88 L194.50 364.50 L194.93 364.10 L195.37 363.92 L195.80 363.20 L196.10 363.70 L196.40 364.61 L196.70 365.14 L197.00 365.50 L197.50 366.08 L198.00 366.71 L198.50 367.20 L199.17 367.34 L199.83 367.10 L200.50 366.80 L201.17 366.58 L201.83 366.81 L202.50 366.50 L203.17 366.65 L203.83 367.09 L204.50 367.50 L204.97 368.34 L205.43 368.84 L205.90 369.20 L206.27 369.69 L206.63 370.27 L207.00 371.00 L207.45 371.67 L207.90 372.20 L208.58 372.44 L209.27 372.38 L209.95 372.56 L210.63 372.47 L211.32 372.56 L212.00 372.40" fill="none" stroke="#6ab64a" stroke-width="1.1" stroke-linejoin="round"/>
<path d="M151.40 366.50 L151.63 365.87 L151.87 365.20 L152.10 364.45 L152.33 364.28 L152.57 363.15 L152.80 362.84 L153.03 362.46 L153.27 361.36 L153.50 361.00 L153.76 360.44 L154.02 359.89 L154.28 358.95 L154.54 358.57 L154.80 358.17 L155.06 357.43 L155.32 357.01 L155.58 356.07 L155.84 355.53 L156.10 355.10 L156.31 354.30 L156.52 353.97 L156.73 353.65 L156.94 352.89 L157.16 352.43 L157.37 351.63 L157.58 351.28 L157.79 350.33 L158.00 350.00 L158.23 349.26 L158.47 348.87 L158.70 348.29 L158.93 347.49 L159.17 346.67 L159.40 346.30 L159.52 345.57 L159.64 344.95 L159.77 344.40 L159.89 344.13 L160.01 343.18 L160.13 343.00 L160.26 342.41 L160.38 341.32 L160.50 341.00 L160.75 340.25 L161.00 339.65 L161.25 338.69 L161.50 338.30 L161.62 338.92 L161.75 339.87 L161.88 340.05 L162.00 341.01 L162.12 341.39 L162.25 342.32 L162.38 343.17 L162.50 343.60 L162.61 342.80 L162.72 342.06 L162.83 341.48 L162.94 341.13 L163.06 340.20 L163.17 339.62 L163.28 339.24 L163.39 338.87 L163.50 338.00 L163.76 337.33 L164.02 336.70 L164.28 336.22 L164.54 335.28 L164.80 334.90 L165.14 335.57 L165.48 335.94 L165.82 336.83 L166.16 337.65 L166.50 338.00 L166.78 338.33 L167.07 339.23 L167.35 339.86 L167.63 340.19 L167.92 340.86 L168.20 341.60 L168.30 342.54 L168.40 343.18 L168.50 343.29 L168.60 344.28 L168.70 345.07 L168.80 345.28 L168.90 346.15 L169.00 346.45 L169.10 347.28 L169.20 348.00 L169.30 348.74 L169.40 349.33 L169.50 350.08 L169.60 350.31 L169.70 351.11 L169.80 352.06 L169.90 352.53 L170.00 353.09 L170.10 353.70 L170.20 354.40 L170.36 355.33 L170.52 355.72 L170.69 356.02 L170.85 357.13 L171.01 357.48 L171.18 358.19 L171.34 358.69 L171.50 359.50 L171.70 360.08 L171.90 360.62 L172.10 361.10 L172.30 362.03 L172.50 362.33 L172.70 363.36 L172.90 363.80 L173.32 364.06 L173.74 365.05 L174.16 365.60 L174.58 365.96 L175.00 366.50 L175.52 367.03 L176.04 367.15 L176.56 367.84 L177.08 368.06 L177.60 368.50 L178.32 368.46 L179.05 369.03 L179.78 368.82 L180.50 369.00 L181.12 368.97 L181.75 369.32 L182.38 369.07 L183.00 369.20 L183.67 369.10 L184.33 368.60 L185.00 368.60 L185.67 368.57 L186.33 367.99 L187.00 367.90 L187.50 367.28 L188.00 367.49 L188.50 366.65 L189.00 366.50 L189.53 366.27 L190.05 365.79 L190.57 365.06 L191.10 364.50 L191.48 363.71 L191.86 363.24 L192.24 362.83 L192.62 362.43 L193.00 362.00 L193.28 361.49 L193.56 361.12 L193.84 360.17 L194.12 359.46 L194.40 359.10 L194.60 358.55 L194.80 357.71 L195.00 357.09 L195.20 356.79 L195.40 356.29 L195.60 355.33 L195.80 355.00 L195.99 354.31 L196.17 353.81 L196.36 353.19 L196.54 352.30 L196.73 351.95 L196.91 350.86 L197.10 350.40 L197.32 349.95 L197.54 349.40 L197.76 348.89 L197.98 348.08 L198.20 347.50 L198.65 346.56 L199.10 346.10 L199.45 346.43 L199.80 347.32 L200.15 347.70 L200.50 348.50 L200.82 349.20 L201.15 349.50 L201.48 350.54 L201.80 351.00 L201.88 350.22 L201.95 349.48 L202.03 348.96 L202.11 348.51 L202.18 347.96 L202.26 347.24 L202.34 346.50 L202.42 346.07 L202.49 345.73 L202.57 344.87 L202.65 344.50 L202.72 343.33 L202.80 343.00 L202.88 342.70 L202.96 342.03 L203.04 341.23 L203.12 340.61 L203.20 340.02 L203.28 339.65 L203.36 338.54 L203.44 338.29 L203.52 337.63 L203.60 337.00 L203.82 336.18 L204.05 335.73 L204.28 335.03 L204.50 334.20 L205.20 335.00 L205.43 335.40 L205.67 336.39 L205.90 336.90 L205.93 337.49 L205.97 338.13 L206.00 338.83 L206.03 339.10 L206.07 340.05 L206.10 340.52 L206.13 341.44 L206.17 341.67 L206.20 342.64 L206.23 343.20 L206.27 343.76 L206.30 344.53 L206.33 344.64 L206.37 345.59 L206.40 346.22 L206.43 346.87 L206.47 347.33 L206.50 348.00 L206.53 348.35 L206.55 349.03 L206.58 349.89 L206.61 350.24 L206.63 350.78 L206.66 351.56 L206.69 352.24 L206.72 352.88 L206.74 353.18 L206.77 354.24 L206.80 354.58 L206.82 355.46 L206.85 355.61 L206.88 356.78 L206.90 357.17 L206.93 358.01 L206.96 358.62 L206.98 359.14 L207.01 359.31 L207.04 360.06 L207.07 360.60 L207.09 361.54 L207.12 361.79 L207.15 362.42 L207.17 362.96 L207.20 363.80 L207.30 364.22 L207.40 365.36 L207.50 366.04 L207.60 366.32 L207.70 367.19 L207.80 367.68 L207.90 368.36 L208.00 369.00 L208.20 369.66 L208.40 370.55 L208.60 371.20 L209.30 371.44 L210.00 372.00 L210.65 372.05 L211.30 372.40" fill="none" stroke="#b8123e" stroke-width="1.3" stroke-linejoin="round"/>
<line x1="285.70" y1="274.40" x2="285.70" y2="372.80" stroke="#1a1a1a" stroke-width="1.4"/>
<line x1="282.90" y1="372.20" x2="285.70" y2="372.20" stroke="#1a1a1a" stroke-width="1.1"/>
<text x="280.35" y="375.05" font-size="8.2" text-anchor="end" stroke="#222" stroke-width="0.06">0</text>
<line x1="282.90" y1="348.45" x2="285.70" y2="348.45" stroke="#1a1a1a" stroke-width="1.1"/>
<text x="280.35" y="351.30" font-size="8.2" text-anchor="end" stroke="#222" stroke-width="0.06">20</text>
<line x1="282.90" y1="324.70" x2="285.70" y2="324.70" stroke="#1a1a1a" stroke-width="1.1"/>
<text x="280.35" y="327.55" font-size="8.2" text-anchor="end" stroke="#222" stroke-width="0.06">40</text>
<line x1="282.90" y1="300.95" x2="285.70" y2="300.95" stroke="#1a1a1a" stroke-width="1.1"/>
<text x="280.35" y="303.80" font-size="8.2" text-anchor="end" stroke="#222" stroke-width="0.06">60</text>
<line x1="282.90" y1="277.20" x2="285.70" y2="277.20" stroke="#1a1a1a" stroke-width="1.1"/>
<text x="280.35" y="280.05" font-size="8.2" text-anchor="end" stroke="#222" stroke-width="0.06">80</text>
<line x1="285.20" y1="372.20" x2="365.00" y2="372.20" stroke="#1a1a1a" stroke-width="1.4"/>
<line x1="305.90" y1="372.20" x2="305.90" y2="374.70" stroke="#1a1a1a" stroke-width="1"/>
<line x1="346.30" y1="372.20" x2="346.30" y2="374.70" stroke="#1a1a1a" stroke-width="1"/>
<rect x="293.20" y="356.50" width="9.80" height="15.30" fill="#64a33c"/>
<line x1="298.10" y1="356.50" x2="298.10" y2="353.60" stroke="#1a1a1a" stroke-width="1.1"/>
<line x1="295.85" y1="353.60" x2="300.35" y2="353.60" stroke="#1a1a1a" stroke-width="1.1"/>
<rect x="308.50" y="310.10" width="10.30" height="61.70" fill="#a3002c"/>
<line x1="313.65" y1="310.10" x2="313.65" y2="307.00" stroke="#1a1a1a" stroke-width="1.1"/>
<line x1="311.40" y1="307.00" x2="315.90" y2="307.00" stroke="#1a1a1a" stroke-width="1.1"/>
<rect x="333.70" y="358.80" width="10.10" height="13.00" fill="#64a33c"/>
<line x1="338.75" y1="358.80" x2="338.75" y2="355.20" stroke="#1a1a1a" stroke-width="1.1"/>
<line x1="336.50" y1="355.20" x2="341.00" y2="355.20" stroke="#1a1a1a" stroke-width="1.1"/>
<rect x="349.00" y="311.10" width="10.50" height="60.70" fill="#a3002c"/>
<line x1="354.25" y1="311.10" x2="354.25" y2="304.40" stroke="#1a1a1a" stroke-width="1.1"/>
<line x1="352.00" y1="304.40" x2="356.50" y2="304.40" stroke="#1a1a1a" stroke-width="1.1"/>
<line x1="298.50" y1="298.50" x2="313.75" y2="298.50" stroke="#333" stroke-width="1.1"/>
<line x1="298.50" y1="296.90" x2="298.50" y2="300.10" stroke="#333" stroke-width="1.1"/>
<line x1="313.75" y1="296.90" x2="313.75" y2="300.10" stroke="#333" stroke-width="1.1"/>
<text x="290.40" y="294.40" font-size="8.5" textLength="30.20" lengthAdjust="spacingAndGlyphs" stroke="#222" stroke-width="0.06">p &lt; 0.001</text>
<line x1="338.30" y1="285.40" x2="354.00" y2="285.40" stroke="#333" stroke-width="1.1"/>
<line x1="338.30" y1="283.80" x2="338.30" y2="287.00" stroke="#333" stroke-width="1.1"/>
<line x1="354.00" y1="283.80" x2="354.00" y2="287.00" stroke="#333" stroke-width="1.1"/>
<text x="330.40" y="281.30" font-size="8.5" textLength="30.20" lengthAdjust="spacingAndGlyphs" stroke="#222" stroke-width="0.06">p &lt; 0.001</text>
<rect x="379.00" y="274.90" width="10.40" height="5.60" fill="#64a33c"/>
<rect x="379.00" y="285.90" width="10.40" height="5.60" fill="#a3002c"/>
<text x="392.50" y="280.30" font-size="8.5" textLength="23.10" lengthAdjust="spacingAndGlyphs" stroke="#222" stroke-width="0.06">Control</text>
<text x="392.50" y="291.30" font-size="8.5" textLength="21.70" lengthAdjust="spacingAndGlyphs" stroke="#222" stroke-width="0.06">PKT16</text>
<text x="292.50" y="386.00" font-size="8.5" textLength="26.30" lengthAdjust="spacingAndGlyphs" stroke="#222" stroke-width="0.06">Mitosox</text>
<text x="341.00" y="386.00" font-size="8.5" textLength="10.60" lengthAdjust="spacingAndGlyphs" stroke="#222" stroke-width="0.06">HE</text>
<text transform="translate(264.60,335.50) rotate(-90)" font-size="9.0" textLength="25.40" lengthAdjust="spacingAndGlyphs" fill="#222" stroke="#222" stroke-width="0.38">ROS (%)</text>
<text x="5.70" y="419.60" font-size="11.6" fill="#000" font-weight="bold">G</text>
<rect x="43.40" y="437.5" width="78.2" height="78" fill="none" stroke="#222" stroke-width="1.1"/>
<text x="67.70" y="432.50" font-size="9" textLength="29.20" lengthAdjust="spacingAndGlyphs" stroke="#222" stroke-width="0.06">Control</text>
<line x1="40.80" y1="446.20" x2="43.40" y2="446.20" stroke="#1a1a1a" stroke-width="1"/>
<line x1="40.80" y1="463.90" x2="43.40" y2="463.90" stroke="#1a1a1a" stroke-width="1"/>
<line x1="40.80" y1="485.40" x2="43.40" y2="485.40" stroke="#1a1a1a" stroke-width="1"/>
<line x1="40.80" y1="497.20" x2="43.40" y2="497.20" stroke="#1a1a1a" stroke-width="1"/>
<line x1="40.80" y1="510.30" x2="43.40" y2="510.30" stroke="#1a1a1a" stroke-width="1"/>
<line x1="42.20" y1="437.50" x2="43.40" y2="437.50" stroke="#1a1a1a" stroke-width="0.5"/>
<line x1="42.20" y1="439.70" x2="43.40" y2="439.70" stroke="#1a1a1a" stroke-width="0.5"/>
<line x1="42.20" y1="441.90" x2="43.40" y2="441.90" stroke="#1a1a1a" stroke-width="0.5"/>
<line x1="42.20" y1="444.10" x2="43.40" y2="444.10" stroke="#1a1a1a" stroke-width="0.5"/>
<line x1="42.20" y1="446.30" x2="43.40" y2="446.30" stroke="#1a1a1a" stroke-width="0.5"/>
<line x1="42.20" y1="448.50" x2="43.40" y2="448.50" stroke="#1a1a1a" stroke-width="0.5"/>
<line x1="42.20" y1="450.70" x2="43.40" y2="450.70" stroke="#1a1a1a" stroke-width="0.5"/>
<line x1="42.20" y1="452.90" x2="43.40" y2="452.90" stroke="#1a1a1a" stroke-width="0.5"/>
<line x1="42.20" y1="455.10" x2="43.40" y2="455.10" stroke="#1a1a1a" stroke-width="0.5"/>
<line x1="42.20" y1="457.30" x2="43.40" y2="457.30" stroke="#1a1a1a" stroke-width="0.5"/>
<line x1="42.20" y1="459.50" x2="43.40" y2="459.50" stroke="#1a1a1a" stroke-width="0.5"/>
<line x1="42.20" y1="461.70" x2="43.40" y2="461.70" stroke="#1a1a1a" stroke-width="0.5"/>
<line x1="42.20" y1="463.90" x2="43.40" y2="463.90" stroke="#1a1a1a" stroke-width="0.5"/>
<line x1="42.20" y1="466.10" x2="43.40" y2="466.10" stroke="#1a1a1a" stroke-width="0.5"/>
<line x1="42.20" y1="468.30" x2="43.40" y2="468.30" stroke="#1a1a1a" stroke-width="0.5"/>
<line x1="42.20" y1="470.50" x2="43.40" y2="470.50" stroke="#1a1a1a" stroke-width="0.5"/>
<line x1="42.20" y1="472.70" x2="43.40" y2="472.70" stroke="#1a1a1a" stroke-width="0.5"/>
<line x1="42.20" y1="474.90" x2="43.40" y2="474.90" stroke="#1a1a1a" stroke-width="0.5"/>
<line x1="42.20" y1="477.10" x2="43.40" y2="477.10" stroke="#1a1a1a" stroke-width="0.5"/>
<line x1="42.20" y1="479.30" x2="43.40" y2="479.30" stroke="#1a1a1a" stroke-width="0.5"/>
<line x1="42.20" y1="481.50" x2="43.40" y2="481.50" stroke="#1a1a1a" stroke-width="0.5"/>
<line x1="42.20" y1="483.70" x2="43.40" y2="483.70" stroke="#1a1a1a" stroke-width="0.5"/>
<line x1="42.20" y1="485.90" x2="43.40" y2="485.90" stroke="#1a1a1a" stroke-width="0.5"/>
<line x1="42.20" y1="488.10" x2="43.40" y2="488.10" stroke="#1a1a1a" stroke-width="0.5"/>
<line x1="42.20" y1="490.30" x2="43.40" y2="490.30" stroke="#1a1a1a" stroke-width="0.5"/>
<line x1="42.20" y1="492.50" x2="43.40" y2="492.50" stroke="#1a1a1a" stroke-width="0.5"/>
<line x1="42.20" y1="494.70" x2="43.40" y2="494.70" stroke="#1a1a1a" stroke-width="0.5"/>
<line x1="42.20" y1="496.90" x2="43.40" y2="496.90" stroke="#1a1a1a" stroke-width="0.5"/>
<line x1="42.20" y1="499.10" x2="43.40" y2="499.10" stroke="#1a1a1a" stroke-width="0.5"/>
<line x1="42.20" y1="501.30" x2="43.40" y2="501.30" stroke="#1a1a1a" stroke-width="0.5"/>
<line x1="42.20" y1="503.50" x2="43.40" y2="503.50" stroke="#1a1a1a" stroke-width="0.5"/>
<line x1="42.20" y1="505.70" x2="43.40" y2="505.70" stroke="#1a1a1a" stroke-width="0.5"/>
<line x1="42.20" y1="507.90" x2="43.40" y2="507.90" stroke="#1a1a1a" stroke-width="0.5"/>
<line x1="42.20" y1="510.10" x2="43.40" y2="510.10" stroke="#1a1a1a" stroke-width="0.5"/>
<line x1="42.20" y1="512.30" x2="43.40" y2="512.30" stroke="#1a1a1a" stroke-width="0.5"/>
<line x1="42.20" y1="514.50" x2="43.40" y2="514.50" stroke="#1a1a1a" stroke-width="0.5"/>
<line x1="44.70" y1="515.50" x2="44.70" y2="518.00" stroke="#1a1a1a" stroke-width="1"/>
<line x1="68.00" y1="515.50" x2="68.00" y2="518.00" stroke="#1a1a1a" stroke-width="1"/>
<line x1="91.40" y1="515.50" x2="91.40" y2="518.00" stroke="#1a1a1a" stroke-width="1"/>
<line x1="114.80" y1="515.50" x2="114.80" y2="518.00" stroke="#1a1a1a" stroke-width="1"/>
<line x1="44.70" y1="515.50" x2="44.70" y2="516.80" stroke="#1a1a1a" stroke-width="0.5"/>
<line x1="47.04" y1="515.50" x2="47.04" y2="516.80" stroke="#1a1a1a" stroke-width="0.5"/>
<line x1="49.38" y1="515.50" x2="49.38" y2="516.80" stroke="#1a1a1a" stroke-width="0.5"/>
<line x1="51.72" y1="515.50" x2="51.72" y2="516.80" stroke="#1a1a1a" stroke-width="0.5"/>
<line x1="54.06" y1="515.50" x2="54.06" y2="516.80" stroke="#1a1a1a" stroke-width="0.5"/>
<line x1="56.40" y1="515.50" x2="56.40" y2="516.80" stroke="#1a1a1a" stroke-width="0.5"/>
<line x1="58.74" y1="515.50" x2="58.74" y2="516.80" stroke="#1a1a1a" stroke-width="0.5"/>
<line x1="61.08" y1="515.50" x2="61.08" y2="516.80" stroke="#1a1a1a" stroke-width="0.5"/>
<line x1="63.42" y1="515.50" x2="63.42" y2="516.80" stroke="#1a1a1a" stroke-width="0.5"/>
<line x1="65.76" y1="515.50" x2="65.76" y2="516.80" stroke="#1a1a1a" stroke-width="0.5"/>
<line x1="68.10" y1="515.50" x2="68.10" y2="516.80" stroke="#1a1a1a" stroke-width="0.5"/>
<line x1="70.44" y1="515.50" x2="70.44" y2="516.80" stroke="#1a1a1a" stroke-width="0.5"/>
<line x1="72.78" y1="515.50" x2="72.78" y2="516.80" stroke="#1a1a1a" stroke-width="0.5"/>
<line x1="75.12" y1="515.50" x2="75.12" y2="516.80" stroke="#1a1a1a" stroke-width="0.5"/>
<line x1="77.46" y1="515.50" x2="77.46" y2="516.80" stroke="#1a1a1a" stroke-width="0.5"/>
<line x1="79.80" y1="515.50" x2="79.80" y2="516.80" stroke="#1a1a1a" stroke-width="0.5"/>
<line x1="82.14" y1="515.50" x2="82.14" y2="516.80" stroke="#1a1a1a" stroke-width="0.5"/>
<line x1="84.48" y1="515.50" x2="84.48" y2="516.80" stroke="#1a1a1a" stroke-width="0.5"/>
<line x1="86.82" y1="515.50" x2="86.82" y2="516.80" stroke="#1a1a1a" stroke-width="0.5"/>
<line x1="89.16" y1="515.50" x2="89.16" y2="516.80" stroke="#1a1a1a" stroke-width="0.5"/>
<line x1="91.50" y1="515.50" x2="91.50" y2="516.80" stroke="#1a1a1a" stroke-width="0.5"/>
<line x1="93.84" y1="515.50" x2="93.84" y2="516.80" stroke="#1a1a1a" stroke-width="0.5"/>
<line x1="96.18" y1="515.50" x2="96.18" y2="516.80" stroke="#1a1a1a" stroke-width="0.5"/>
<line x1="98.52" y1="515.50" x2="98.52" y2="516.80" stroke="#1a1a1a" stroke-width="0.5"/>
<line x1="100.86" y1="515.50" x2="100.86" y2="516.80" stroke="#1a1a1a" stroke-width="0.5"/>
<line x1="103.20" y1="515.50" x2="103.20" y2="516.80" stroke="#1a1a1a" stroke-width="0.5"/>
<line x1="105.54" y1="515.50" x2="105.54" y2="516.80" stroke="#1a1a1a" stroke-width="0.5"/>
<line x1="107.88" y1="515.50" x2="107.88" y2="516.80" stroke="#1a1a1a" stroke-width="0.5"/>
<line x1="110.22" y1="515.50" x2="110.22" y2="516.80" stroke="#1a1a1a" stroke-width="0.5"/>
<line x1="112.56" y1="515.50" x2="112.56" y2="516.80" stroke="#1a1a1a" stroke-width="0.5"/>
<line x1="114.90" y1="515.50" x2="114.90" y2="516.80" stroke="#1a1a1a" stroke-width="0.5"/>
<line x1="117.24" y1="515.50" x2="117.24" y2="516.80" stroke="#1a1a1a" stroke-width="0.5"/>
<line x1="119.58" y1="515.50" x2="119.58" y2="516.80" stroke="#1a1a1a" stroke-width="0.5"/>
<text x="34.40" y="449.20" font-size="7.8" text-anchor="end" stroke="#222" stroke-width="0.06">10</text>
<text x="34.60" y="446.30" font-size="5.2" stroke="#222" stroke-width="0.06">5</text>
<text x="34.40" y="466.90" font-size="7.8" text-anchor="end" stroke="#222" stroke-width="0.06">10</text>
<text x="34.60" y="464.00" font-size="5.2" stroke="#222" stroke-width="0.06">4</text>
<text x="34.40" y="488.40" font-size="7.8" text-anchor="end" stroke="#222" stroke-width="0.06">10</text>
<text x="34.60" y="485.50" font-size="5.2" stroke="#222" stroke-width="0.06">3</text>
<text x="38.00" y="500.00" font-size="7.8" text-anchor="end" stroke="#222" stroke-width="0.06">0</text>
<text x="34.40" y="513.30" font-size="7.8" text-anchor="end" stroke="#222" stroke-width="0.06">-10</text>
<text x="34.60" y="510.40" font-size="5.2" stroke="#222" stroke-width="0.06">3</text>
<text x="44.70" y="528.30" font-size="7.9" text-anchor="middle" stroke="#222" stroke-width="0.06">0</text>
<text x="68.00" y="528.30" font-size="7.9" text-anchor="middle" stroke="#222" stroke-width="0.06">50K</text>
<text x="91.40" y="528.30" font-size="7.9" text-anchor="middle" stroke="#222" stroke-width="0.06">100K</text>
<text x="114.80" y="528.30" font-size="7.9" text-anchor="middle" stroke="#222" stroke-width="0.06">150K</text>
<rect x="153.60" y="437.5" width="78.2" height="78" fill="none" stroke="#222" stroke-width="1.1"/>
<text x="177.50" y="432.50" font-size="9" textLength="27.60" lengthAdjust="spacingAndGlyphs" stroke="#222" stroke-width="0.06">PKT16</text>
<line x1="151.00" y1="446.20" x2="153.60" y2="446.20" stroke="#1a1a1a" stroke-width="1"/>
<line x1="151.00" y1="463.90" x2="153.60" y2="463.90" stroke="#1a1a1a" stroke-width="1"/>
<line x1="151.00" y1="485.40" x2="153.60" y2="485.40" stroke="#1a1a1a" stroke-width="1"/>
<line x1="151.00" y1="497.20" x2="153.60" y2="497.20" stroke="#1a1a1a" stroke-width="1"/>
<line x1="151.00" y1="510.30" x2="153.60" y2="510.30" stroke="#1a1a1a" stroke-width="1"/>
<line x1="152.40" y1="437.50" x2="153.60" y2="437.50" stroke="#1a1a1a" stroke-width="0.5"/>
<line x1="152.40" y1="439.70" x2="153.60" y2="439.70" stroke="#1a1a1a" stroke-width="0.5"/>
<line x1="152.40" y1="441.90" x2="153.60" y2="441.90" stroke="#1a1a1a" stroke-width="0.5"/>
<line x1="152.40" y1="444.10" x2="153.60" y2="444.10" stroke="#1a1a1a" stroke-width="0.5"/>
<line x1="152.40" y1="446.30" x2="153.60" y2="446.30" stroke="#1a1a1a" stroke-width="0.5"/>
<line x1="152.40" y1="448.50" x2="153.60" y2="448.50" stroke="#1a1a1a" stroke-width="0.5"/>
<line x1="152.40" y1="450.70" x2="153.60" y2="450.70" stroke="#1a1a1a" stroke-width="0.5"/>
<line x1="152.40" y1="452.90" x2="153.60" y2="452.90" stroke="#1a1a1a" stroke-width="0.5"/>
<line x1="152.40" y1="455.10" x2="153.60" y2="455.10" stroke="#1a1a1a" stroke-width="0.5"/>
<line x1="152.40" y1="457.30" x2="153.60" y2="457.30" stroke="#1a1a1a" stroke-width="0.5"/>
<line x1="152.40" y1="459.50" x2="153.60" y2="459.50" stroke="#1a1a1a" stroke-width="0.5"/>
<line x1="152.40" y1="461.70" x2="153.60" y2="461.70" stroke="#1a1a1a" stroke-width="0.5"/>
<line x1="152.40" y1="463.90" x2="153.60" y2="463.90" stroke="#1a1a1a" stroke-width="0.5"/>
<line x1="152.40" y1="466.10" x2="153.60" y2="466.10" stroke="#1a1a1a" stroke-width="0.5"/>
<line x1="152.40" y1="468.30" x2="153.60" y2="468.30" stroke="#1a1a1a" stroke-width="0.5"/>
<line x1="152.40" y1="470.50" x2="153.60" y2="470.50" stroke="#1a1a1a" stroke-width="0.5"/>
<line x1="152.40" y1="472.70" x2="153.60" y2="472.70" stroke="#1a1a1a" stroke-width="0.5"/>
<line x1="152.40" y1="474.90" x2="153.60" y2="474.90" stroke="#1a1a1a" stroke-width="0.5"/>
<line x1="152.40" y1="477.10" x2="153.60" y2="477.10" stroke="#1a1a1a" stroke-width="0.5"/>
<line x1="152.40" y1="479.30" x2="153.60" y2="479.30" stroke="#1a1a1a" stroke-width="0.5"/>
<line x1="152.40" y1="481.50" x2="153.60" y2="481.50" stroke="#1a1a1a" stroke-width="0.5"/>
<line x1="152.40" y1="483.70" x2="153.60" y2="483.70" stroke="#1a1a1a" stroke-width="0.5"/>
<line x1="152.40" y1="485.90" x2="153.60" y2="485.90" stroke="#1a1a1a" stroke-width="0.5"/>
<line x1="152.40" y1="488.10" x2="153.60" y2="488.10" stroke="#1a1a1a" stroke-width="0.5"/>
<line x1="152.40" y1="490.30" x2="153.60" y2="490.30" stroke="#1a1a1a" stroke-width="0.5"/>
<line x1="152.40" y1="492.50" x2="153.60" y2="492.50" stroke="#1a1a1a" stroke-width="0.5"/>
<line x1="152.40" y1="494.70" x2="153.60" y2="494.70" stroke="#1a1a1a" stroke-width="0.5"/>
<line x1="152.40" y1="496.90" x2="153.60" y2="496.90" stroke="#1a1a1a" stroke-width="0.5"/>
<line x1="152.40" y1="499.10" x2="153.60" y2="499.10" stroke="#1a1a1a" stroke-width="0.5"/>
<line x1="152.40" y1="501.30" x2="153.60" y2="501.30" stroke="#1a1a1a" stroke-width="0.5"/>
<line x1="152.40" y1="503.50" x2="153.60" y2="503.50" stroke="#1a1a1a" stroke-width="0.5"/>
<line x1="152.40" y1="505.70" x2="153.60" y2="505.70" stroke="#1a1a1a" stroke-width="0.5"/>
<line x1="152.40" y1="507.90" x2="153.60" y2="507.90" stroke="#1a1a1a" stroke-width="0.5"/>
<line x1="152.40" y1="510.10" x2="153.60" y2="510.10" stroke="#1a1a1a" stroke-width="0.5"/>
<line x1="152.40" y1="512.30" x2="153.60" y2="512.30" stroke="#1a1a1a" stroke-width="0.5"/>
<line x1="152.40" y1="514.50" x2="153.60" y2="514.50" stroke="#1a1a1a" stroke-width="0.5"/>
<line x1="154.90" y1="515.50" x2="154.90" y2="518.00" stroke="#1a1a1a" stroke-width="1"/>
<line x1="178.20" y1="515.50" x2="178.20" y2="518.00" stroke="#1a1a1a" stroke-width="1"/>
<line x1="201.60" y1="515.50" x2="201.60" y2="518.00" stroke="#1a1a1a" stroke-width="1"/>
<line x1="225.00" y1="515.50" x2="225.00" y2="518.00" stroke="#1a1a1a" stroke-width="1"/>
<line x1="154.90" y1="515.50" x2="154.90" y2="516.80" stroke="#1a1a1a" stroke-width="0.5"/>
<line x1="157.24" y1="515.50" x2="157.24" y2="516.80" stroke="#1a1a1a" stroke-width="0.5"/>
<line x1="159.58" y1="515.50" x2="159.58" y2="516.80" stroke="#1a1a1a" stroke-width="0.5"/>
<line x1="161.92" y1="515.50" x2="161.92" y2="516.80" stroke="#1a1a1a" stroke-width="0.5"/>
<line x1="164.26" y1="515.50" x2="164.26" y2="516.80" stroke="#1a1a1a" stroke-width="0.5"/>
<line x1="166.60" y1="515.50" x2="166.60" y2="516.80" stroke="#1a1a1a" stroke-width="0.5"/>
<line x1="168.94" y1="515.50" x2="168.94" y2="516.80" stroke="#1a1a1a" stroke-width="0.5"/>
<line x1="171.28" y1="515.50" x2="171.28" y2="516.80" stroke="#1a1a1a" stroke-width="0.5"/>
<line x1="173.62" y1="515.50" x2="173.62" y2="516.80" stroke="#1a1a1a" stroke-width="0.5"/>
<line x1="175.96" y1="515.50" x2="175.96" y2="516.80" stroke="#1a1a1a" stroke-width="0.5"/>
<line x1="178.30" y1="515.50" x2="178.30" y2="516.80" stroke="#1a1a1a" stroke-width="0.5"/>
<line x1="180.64" y1="515.50" x2="180.64" y2="516.80" stroke="#1a1a1a" stroke-width="0.5"/>
<line x1="182.98" y1="515.50" x2="182.98" y2="516.80" stroke="#1a1a1a" stroke-width="0.5"/>
<line x1="185.32" y1="515.50" x2="185.32" y2="516.80" stroke="#1a1a1a" stroke-width="0.5"/>
<line x1="187.66" y1="515.50" x2="187.66" y2="516.80" stroke="#1a1a1a" stroke-width="0.5"/>
<line x1="190.00" y1="515.50" x2="190.00" y2="516.80" stroke="#1a1a1a" stroke-width="0.5"/>
<line x1="192.34" y1="515.50" x2="192.34" y2="516.80" stroke="#1a1a1a" stroke-width="0.5"/>
<line x1="194.68" y1="515.50" x2="194.68" y2="516.80" stroke="#1a1a1a" stroke-width="0.5"/>
<line x1="197.02" y1="515.50" x2="197.02" y2="516.80" stroke="#1a1a1a" stroke-width="0.5"/>
<line x1="199.36" y1="515.50" x2="199.36" y2="516.80" stroke="#1a1a1a" stroke-width="0.5"/>
<line x1="201.70" y1="515.50" x2="201.70" y2="516.80" stroke="#1a1a1a" stroke-width="0.5"/>
<line x1="204.04" y1="515.50" x2="204.04" y2="516.80" stroke="#1a1a1a" stroke-width="0.5"/>
<line x1="206.38" y1="515.50" x2="206.38" y2="516.80" stroke="#1a1a1a" stroke-width="0.5"/>
<line x1="208.72" y1="515.50" x2="208.72" y2="516.80" stroke="#1a1a1a" stroke-width="0.5"/>
<line x1="211.06" y1="515.50" x2="211.06" y2="516.80" stroke="#1a1a1a" stroke-width="0.5"/>
<line x1="213.40" y1="515.50" x2="213.40" y2="516.80" stroke="#1a1a1a" stroke-width="0.5"/>
<line x1="215.74" y1="515.50" x2="215.74" y2="516.80" stroke="#1a1a1a" stroke-width="0.5"/>
<line x1="218.08" y1="515.50" x2="218.08" y2="516.80" stroke="#1a1a1a" stroke-width="0.5"/>
<line x1="220.42" y1="515.50" x2="220.42" y2="516.80" stroke="#1a1a1a" stroke-width="0.5"/>
<line x1="222.76" y1="515.50" x2="222.76" y2="516.80" stroke="#1a1a1a" stroke-width="0.5"/>
<line x1="225.10" y1="515.50" x2="225.10" y2="516.80" stroke="#1a1a1a" stroke-width="0.5"/>
<line x1="227.44" y1="515.50" x2="227.44" y2="516.80" stroke="#1a1a1a" stroke-width="0.5"/>
<line x1="229.78" y1="515.50" x2="229.78" y2="516.80" stroke="#1a1a1a" stroke-width="0.5"/>
<text x="144.60" y="449.20" font-size="7.8" text-anchor="end" stroke="#222" stroke-width="0.06">10</text>
<text x="144.80" y="446.30" font-size="5.2" stroke="#222" stroke-width="0.06">5</text>
<text x="144.60" y="466.90" font-size="7.8" text-anchor="end" stroke="#222" stroke-width="0.06">10</text>
<text x="144.80" y="464.00" font-size="5.2" stroke="#222" stroke-width="0.06">4</text>
<text x="144.60" y="488.40" font-size="7.8" text-anchor="end" stroke="#222" stroke-width="0.06">10</text>
<text x="144.80" y="485.50" font-size="5.2" stroke="#222" stroke-width="0.06">3</text>
<text x="148.20" y="500.00" font-size="7.8" text-anchor="end" stroke="#222" stroke-width="0.06">0</text>
<text x="144.60" y="513.30" font-size="7.8" text-anchor="end" stroke="#222" stroke-width="0.06">-10</text>
<text x="144.80" y="510.40" font-size="5.2" stroke="#222" stroke-width="0.06">3</text>
<text x="154.90" y="528.30" font-size="7.9" text-anchor="middle" stroke="#222" stroke-width="0.06">0</text>
<text x="178.20" y="528.30" font-size="7.9" text-anchor="middle" stroke="#222" stroke-width="0.06">50K</text>
<text x="201.60" y="528.30" font-size="7.9" text-anchor="middle" stroke="#222" stroke-width="0.06">100K</text>
<text x="225.00" y="528.30" font-size="7.9" text-anchor="middle" stroke="#222" stroke-width="0.06">150K</text>
<line x1="18.00" y1="496.30" x2="18.00" y2="534.50" stroke="#1a1a1a" stroke-width="1.3"/>
<line x1="17.50" y1="534.50" x2="59.50" y2="534.50" stroke="#1a1a1a" stroke-width="1.3"/>
<text transform="translate(13.20,523.00) rotate(-90)" font-size="9.0" textLength="14.00" lengthAdjust="spacingAndGlyphs" fill="#222" stroke="#222" stroke-width="0.38">BrdU</text>
<text x="29.80" y="544.00" font-size="9" textLength="18.20" lengthAdjust="spacingAndGlyphs" stroke="#222" stroke-width="0.35">7-AAD</text>
<path d="M59.2 489.1h.3M61.6 486.1h.3M55.0 489.3h.3M56.8 491.0h.3M62.3 485.1h.3M70.2 483.0h.3M60.3 493.0h.3M63.8 482.7h.3M68.5 489.3h.3M65.9 489.8h.3M63.1 484.7h.3M60.3 494.4h.3M62.6 484.2h.3M66.3 487.4h.3M59.2 487.3h.3M59.1 487.7h.3M62.5 487.0h.3M63.7 495.0h.3M59.1 490.6h.3M65.7 486.4h.3M60.9 490.3h.3M62.8 484.3h.3M62.4 492.4h.3M66.0 480.3h.3M68.7 480.8h.3M60.9 488.8h.3M62.6 493.3h.3M64.3 484.5h.3M60.8 485.6h.3M59.7 487.2h.3M67.2 481.6h.3M64.4 484.2h.3M61.4 493.6h.3M60.5 490.2h.3M59.8 492.6h.3M66.0 482.9h.3M60.6 493.2h.3M62.1 490.0h.3M59.1 490.3h.3M58.7 490.0h.3M59.1 485.3h.3M64.3 489.9h.3M58.8 489.6h.3M57.9 492.7h.3M62.6 483.1h.3M60.3 483.7h.3M64.0 484.5h.3M59.2 489.2h.3M60.2 492.2h.3M65.4 492.7h.3M63.8 485.5h.3M56.7 484.4h.3M65.3 490.7h.3M67.4 486.9h.3M64.3 485.5h.3M61.3 483.3h.3M60.5 489.8h.3M57.3 488.7h.3M64.9 482.5h.3M66.7 484.9h.3M66.8 487.3h.3M61.3 484.5h.3M62.0 483.3h.3M56.7 492.0h.3M60.7 490.6h.3M63.6 485.4h.3M58.7 493.5h.3M61.5 492.8h.3M63.1 492.5h.3M63.5 492.3h.3M61.6 485.9h.3M59.1 490.2h.3M66.0 486.1h.3M68.0 485.0h.3M61.6 485.4h.3M61.0 484.8h.3M69.6 484.3h.3M60.7 484.9h.3M64.3 487.4h.3M65.2 487.1h.3M65.1 483.4h.3M62.6 485.8h.3M67.2 485.7h.3M64.4 492.6h.3M67.4 484.1h.3M62.2 488.7h.3M58.7 492.0h.3M61.7 495.5h.3M59.2 493.3h.3M62.6 482.3h.3M65.9 482.2h.3M62.3 490.2h.3M65.9 487.8h.3M63.1 486.7h.3M61.3 487.1h.3M68.4 488.9h.3M59.7 487.1h.3M60.8 482.0h.3M64.1 490.0h.3M58.5 491.0h.3M62.2 484.5h.3M65.9 480.1h.3M62.7 485.5h.3M65.5 480.8h.3M70.1 492.8h.3M67.4 479.6h.3M66.2 494.7h.3M60.5 486.9h.3M63.2 482.4h.3M69.0 486.8h.3M67.3 478.1h.3M55.3 491.9h.3M64.5 482.0h.3M66.3 480.7h.3M60.4 492.4h.3M68.0 482.1h.3M66.2 485.5h.3M65.2 491.4h.3M65.4 487.5h.3M64.8 490.3h.3M68.2 483.8h.3M65.1 493.3h.3M77.6 476.3h.3M53.3 485.5h.3M60.7 479.9h.3M66.1 482.7h.3M60.4 481.2h.3M70.8 481.4h.3M77.9 477.2h.3M70.1 485.7h.3M63.9 477.7h.3M66.6 481.5h.3M64.6 484.4h.3M70.2 481.0h.3M61.0 488.1h.3M66.7 489.0h.3M72.3 485.0h.3M61.6 490.8h.3M66.9 483.2h.3M61.6 496.0h.3M70.2 491.1h.3M66.1 481.4h.3M58.0 493.0h.3M66.4 482.9h.3M65.1 481.4h.3M59.1 490.5h.3M72.4 479.0h.3M69.7 482.0h.3M69.4 477.2h.3M58.5 489.2h.3M58.3 490.2h.3M57.7 495.7h.3M65.2 477.9h.3M60.2 485.5h.3M67.5 492.8h.3M56.7 493.0h.3M55.0 489.8h.3M67.3 481.6h.3M66.3 491.0h.3M67.2 480.9h.3M64.5 479.1h.3M71.4 481.6h.3M60.5 474.3h.3M61.9 498.2h.3M69.1 485.5h.3M63.1 488.6h.3M69.7 490.4h.3M58.7 490.3h.3M69.0 483.6h.3M60.7 482.4h.3M65.4 481.8h.3M68.5 489.6h.3M65.7 478.3h.3M59.0 485.4h.3M61.8 479.4h.3M62.3 481.2h.3M64.6 483.3h.3M67.2 492.8h.3M67.0 480.6h.3M67.5 485.8h.3M68.0 480.9h.3M65.3 488.2h.3M68.8 481.8h.3M67.2 489.6h.3M70.8 488.3h.3M62.1 487.2h.3M65.2 485.0h.3M57.4 483.0h.3M69.4 480.1h.3M74.6 479.6h.3M57.2 495.2h.3M69.7 484.9h.3M64.7 491.4h.3M55.2 479.6h.3M69.1 480.6h.3M57.6 493.8h.3M59.2 494.0h.3M70.0 484.6h.3M66.4 488.6h.3M66.3 484.0h.3M55.8 490.5h.3M56.0 488.5h.3M63.3 485.0h.3M63.0 498.3h.3M69.2 480.7h.3M64.9 480.1h.3M71.9 491.8h.3M65.6 476.2h.3M60.2 488.6h.3M67.1 489.5h.3M74.5 484.0h.3M57.0 490.2h.3M68.3 484.4h.3M72.4 488.3h.3M68.4 487.3h.3M67.4 478.9h.3M66.9 477.8h.3M66.0 476.4h.3M69.9 487.5h.3M68.5 487.6h.3M57.9 483.6h.3M69.6 455.3h.3M61.7 459.1h.3M70.0 463.3h.3M59.1 451.2h.3M72.0 458.4h.3M66.1 461.0h.3M68.8 461.3h.3M73.0 452.1h.3M75.1 452.3h.3M78.2 455.7h.3M71.9 455.9h.3M63.1 455.6h.3M75.4 448.5h.3M73.4 453.4h.3M86.0 461.3h.3M72.5 463.7h.3M59.5 452.9h.3M67.6 453.7h.3M63.8 459.1h.3M65.9 450.7h.3M60.2 458.4h.3M68.4 455.6h.3M72.2 461.9h.3M72.7 447.2h.3M76.3 461.4h.3M60.1 458.2h.3M66.1 452.8h.3M72.1 447.8h.3M61.6 459.2h.3M62.3 469.7h.3M88.0 455.8h.3M73.4 453.1h.3M81.8 453.5h.3M63.0 458.4h.3M62.4 454.7h.3M69.3 456.5h.3M63.1 453.9h.3M92.1 456.3h.3M66.5 450.2h.3M61.1 460.7h.3M69.5 463.8h.3M64.5 455.2h.3M70.7 460.3h.3M63.2 461.4h.3M67.2 456.7h.3M65.5 460.4h.3M84.9 455.9h.3M70.1 458.7h.3M76.9 455.0h.3M75.0 456.1h.3M59.7 454.7h.3M66.5 449.0h.3M78.5 460.8h.3M60.8 456.7h.3M81.3 458.1h.3M70.2 456.4h.3M77.0 456.2h.3M65.2 449.7h.3M57.1 460.8h.3M83.1 456.7h.3M65.8 459.6h.3M75.7 453.7h.3M57.5 459.7h.3M63.5 457.9h.3M82.4 451.6h.3M66.4 452.1h.3M67.5 447.1h.3M69.6 462.3h.3M74.9 451.7h.3M64.2 453.3h.3M80.8 454.3h.3M69.1 454.9h.3M76.8 456.8h.3M64.7 463.0h.3M73.2 460.5h.3M75.0 453.2h.3M71.6 461.0h.3M76.9 462.7h.3M74.7 456.8h.3M78.6 459.4h.3M75.1 462.2h.3M74.7 465.8h.3M76.9 457.0h.3M77.8 453.2h.3M79.3 457.1h.3M58.1 453.9h.3M77.1 453.1h.3M86.6 451.2h.3M57.8 454.8h.3M61.0 452.3h.3M64.4 451.0h.3M65.4 452.4h.3M71.4 459.8h.3M64.1 461.9h.3M76.2 461.1h.3M77.5 462.6h.3M71.3 453.8h.3M58.6 459.7h.3M78.2 459.5h.3M63.2 447.3h.3M81.1 456.4h.3M78.6 461.5h.3M65.0 463.8h.3M70.6 461.4h.3M63.7 455.3h.3M68.9 454.5h.3M77.3 465.1h.3M66.9 458.4h.3M71.5 449.5h.3M61.5 458.2h.3M70.2 456.5h.3M83.1 450.9h.3M66.9 450.5h.3M67.4 449.5h.3M78.9 459.1h.3M67.8 450.8h.3M71.8 461.2h.3M74.5 458.1h.3M61.5 451.4h.3M70.0 455.0h.3M61.0 459.2h.3M72.0 459.8h.3M89.8 464.9h.3M66.1 446.9h.3M72.2 457.2h.3M58.0 447.5h.3M64.0 458.5h.3M70.2 458.7h.3M80.6 465.0h.3M61.3 450.3h.3M61.3 458.8h.3M71.6 450.7h.3M64.3 452.6h.3M84.3 450.2h.3M75.3 458.7h.3M71.8 460.3h.3M59.7 452.7h.3M60.6 453.6h.3M65.3 455.1h.3M72.1 460.8h.3M75.1 458.2h.3M58.9 450.7h.3M78.1 455.7h.3M74.7 460.6h.3M66.9 454.0h.3M58.7 448.7h.3M75.9 451.1h.3M67.1 460.5h.3M75.3 453.6h.3M70.8 460.0h.3M84.8 460.9h.3M63.2 459.7h.3M70.1 451.9h.3M58.0 462.2h.3M58.6 454.5h.3M68.7 449.8h.3M67.5 460.4h.3M80.0 458.4h.3M63.1 461.8h.3M82.0 452.1h.3M70.9 455.8h.3M81.5 459.8h.3M64.9 451.5h.3M71.1 459.3h.3M65.0 463.4h.3M70.0 461.8h.3M63.6 454.7h.3M75.1 455.6h.3M73.6 453.4h.3M57.4 456.6h.3M67.7 450.7h.3M69.9 460.9h.3M73.4 457.8h.3M67.9 462.8h.3M79.6 455.9h.3M74.1 453.2h.3M72.2 451.3h.3M61.5 455.3h.3M61.9 454.0h.3M67.1 456.1h.3M68.1 454.0h.3M80.5 462.0h.3M75.0 450.2h.3M55.4 460.1h.3M74.3 461.0h.3M81.6 447.9h.3M57.7 454.8h.3M67.3 448.3h.3M78.3 462.4h.3M64.9 454.1h.3M72.0 453.0h.3M77.8 452.7h.3M68.5 461.1h.3M62.3 454.9h.3M81.2 450.5h.3M65.2 462.1h.3M58.6 450.1h.3M75.5 463.4h.3M69.0 449.9h.3M60.3 457.0h.3M62.6 448.8h.3M69.5 454.4h.3M65.2 461.2h.3M80.1 451.5h.3M70.5 449.5h.3M73.5 455.7h.3M67.2 457.9h.3M62.2 449.4h.3M71.1 459.2h.3M76.4 462.8h.3M72.7 464.6h.3M78.6 454.6h.3M82.2 453.4h.3M59.7 456.5h.3M78.5 463.0h.3M72.0 455.7h.3M67.4 453.7h.3M89.7 456.5h.3M69.2 461.6h.3M65.9 447.7h.3M72.4 456.6h.3M63.4 460.9h.3M74.9 448.9h.3M77.7 452.9h.3M70.2 464.7h.3M64.6 451.7h.3M68.2 459.6h.3M77.2 454.8h.3M63.8 456.6h.3M68.9 458.8h.3M68.6 451.0h.3M79.2 447.3h.3M59.0 460.8h.3M73.1 456.1h.3M68.7 461.5h.3M73.5 451.1h.3M70.4 461.4h.3M74.2 448.6h.3M62.3 453.8h.3M67.9 461.6h.3M61.7 462.0h.3M79.2 452.2h.3M79.1 462.8h.3M82.6 457.9h.3M68.9 458.8h.3M72.7 460.0h.3M67.0 455.0h.3M75.0 457.4h.3M64.1 455.0h.3M70.4 458.6h.3M77.1 466.0h.3M67.0 455.7h.3M63.3 453.0h.3M74.8 460.1h.3M59.7 463.8h.3M66.9 458.2h.3M78.0 457.9h.3M78.6 453.6h.3M67.6 457.7h.3M73.4 463.1h.3M64.4 452.1h.3M64.2 454.1h.3M65.8 457.1h.3M64.8 461.4h.3M72.4 454.6h.3M75.4 451.8h.3M67.2 457.3h.3M61.1 450.6h.3M79.6 455.2h.3M61.3 455.5h.3M84.9 451.7h.3M69.9 455.6h.3M72.6 452.5h.3M72.8 451.5h.3M65.7 454.3h.3M67.0 455.9h.3M79.1 451.8h.3M68.6 457.1h.3M67.8 454.5h.3M68.7 453.5h.3M70.9 446.9h.3M80.2 455.3h.3M61.1 458.9h.3M65.9 448.1h.3M71.5 448.7h.3M72.9 450.9h.3M71.0 456.5h.3M73.0 461.2h.3M78.0 454.8h.3M62.9 462.3h.3M77.2 456.5h.3M69.9 460.0h.3M76.7 463.6h.3M63.8 458.2h.3M57.2 451.2h.3M62.1 455.3h.3M65.9 458.9h.3M74.2 465.5h.3M58.7 459.4h.3M67.8 454.9h.3M62.9 461.4h.3M79.7 454.7h.3M56.9 455.3h.3M66.9 455.1h.3M69.4 467.1h.3M61.4 458.4h.3M76.5 453.1h.3M72.3 455.1h.3M62.3 453.8h.3M57.7 456.3h.3M71.7 455.1h.3M68.8 458.7h.3M79.8 464.0h.3M70.0 459.9h.3M66.8 455.6h.3M80.8 455.7h.3M74.6 459.6h.3M61.5 454.4h.3M75.4 454.9h.3M65.0 461.2h.3M64.4 461.1h.3M62.0 456.3h.3M83.4 456.8h.3M73.4 456.2h.3M81.7 449.2h.3M74.0 447.0h.3M60.7 451.4h.3M75.4 454.4h.3M80.2 454.5h.3M58.6 458.3h.3M71.4 465.0h.3M73.2 449.4h.3M67.5 457.5h.3M71.1 453.6h.3M77.2 461.1h.3M74.4 462.5h.3M66.6 458.7h.3M76.0 455.5h.3M79.5 454.0h.3M79.1 461.3h.3M64.3 458.3h.3M71.6 448.8h.3M69.0 455.8h.3M69.7 461.1h.3M61.0 451.5h.3M85.6 464.0h.3M73.4 451.7h.3M62.2 453.2h.3M67.1 459.8h.3M59.4 462.2h.3M64.0 459.0h.3M59.5 458.7h.3M62.2 452.7h.3M68.6 460.5h.3M61.2 453.5h.3M65.5 458.8h.3M75.3 458.0h.3M74.2 450.9h.3M79.6 454.5h.3M70.2 451.6h.3M79.7 462.0h.3M59.7 453.4h.3M60.8 459.5h.3M74.5 455.9h.3M76.7 452.3h.3M68.3 453.2h.3M61.0 454.1h.3M78.2 456.6h.3M66.0 453.5h.3M77.2 457.0h.3M74.6 459.4h.3M82.9 459.1h.3M73.7 448.9h.3M70.9 460.6h.3M79.6 452.8h.3M65.7 455.9h.3M65.3 459.0h.3M82.9 459.8h.3M68.3 449.9h.3M70.5 453.4h.3M61.7 452.5h.3M66.7 455.4h.3M64.2 453.9h.3M72.3 452.5h.3M89.3 461.9h.3M66.7 449.7h.3M77.6 459.0h.3M63.8 464.1h.3M66.0 456.3h.3M63.3 453.0h.3M61.8 454.1h.3M66.7 452.4h.3M57.9 456.4h.3M59.8 452.7h.3M61.8 455.2h.3M80.1 456.8h.3M73.6 458.8h.3M80.8 463.8h.3M69.8 462.5h.3M57.7 460.0h.3M72.4 464.4h.3M64.3 472.2h.3M63.3 452.2h.3M70.9 465.6h.3M70.5 458.5h.3M87.5 461.8h.3M84.1 464.8h.3M83.0 463.6h.3M76.8 474.5h.3M84.5 465.4h.3M82.1 456.4h.3M86.5 456.5h.3M80.4 459.9h.3M77.8 462.9h.3M76.8 452.7h.3M62.5 459.6h.3M77.3 455.7h.3M71.2 459.3h.3M86.0 462.9h.3M78.9 449.4h.3M70.2 456.2h.3M70.9 466.3h.3M84.1 466.2h.3M80.9 456.9h.3M58.5 467.1h.3M57.2 455.5h.3M67.0 452.4h.3M89.1 456.9h.3M64.0 455.1h.3M73.3 452.9h.3M60.0 452.1h.3M85.4 459.5h.3M90.4 467.1h.3M78.5 467.1h.3M94.4 458.2h.3M85.3 446.5h.3M86.5 455.8h.3M77.9 454.6h.3M62.2 470.6h.3M67.1 460.6h.3M73.8 454.7h.3M58.9 454.6h.3M93.6 468.1h.3M86.9 455.8h.3M88.2 454.4h.3M82.5 461.1h.3M98.6 444.1h.3M65.4 465.7h.3M67.7 462.8h.3M89.3 464.0h.3M75.5 466.0h.3M82.6 455.7h.3M74.2 452.9h.3M68.0 471.6h.3M88.9 462.1h.3M77.2 455.4h.3M77.0 449.5h.3M78.1 459.6h.3M84.8 465.4h.3M83.0 476.8h.3M61.4 451.3h.3M60.9 451.6h.3M72.1 460.6h.3M105.4 459.9h.3M66.2 478.7h.3M82.8 467.3h.3M79.8 451.5h.3M71.3 465.5h.3M94.3 456.3h.3M62.8 464.0h.3M80.0 458.4h.3M72.8 454.1h.3M64.4 462.0h.3M79.2 459.4h.3M65.5 461.1h.3M75.2 458.4h.3M81.2 455.3h.3M66.2 447.7h.3M76.4 462.5h.3M87.8 448.5h.3M79.5 464.2h.3M65.3 460.1h.3M78.6 448.5h.3M94.8 458.7h.3M58.6 463.9h.3M95.0 450.4h.3M81.8 451.7h.3M57.8 460.0h.3M71.8 462.2h.3M60.5 472.6h.3M74.9 462.9h.3M64.7 460.1h.3M75.6 465.2h.3M76.4 462.5h.3M52.6 460.1h.3M68.0 463.9h.3M100.4 466.8h.3M86.8 455.7h.3M86.2 462.0h.3M68.8 454.3h.3M74.9 466.2h.3M83.8 445.6h.3M66.0 453.6h.3M83.9 455.7h.3M76.4 467.3h.3M72.6 449.8h.3M87.3 447.9h.3M70.0 450.8h.3M84.4 457.9h.3M76.2 462.2h.3M73.2 461.0h.3M74.8 454.4h.3M76.7 451.8h.3M66.8 452.0h.3M79.9 457.9h.3M58.3 461.9h.3M91.1 465.3h.3M71.4 469.5h.3M82.1 450.8h.3M81.4 460.2h.3M67.6 468.7h.3M66.5 450.6h.3M58.9 454.9h.3M72.7 469.6h.3M87.2 464.4h.3M91.3 468.5h.3M72.2 467.6h.3M78.2 467.3h.3M76.9 460.1h.3M86.3 455.9h.3M80.9 449.3h.3M87.1 456.8h.3M100.0 469.3h.3M67.3 454.6h.3M82.8 464.8h.3M93.1 454.8h.3M79.7 459.4h.3M104.4 460.2h.3M61.7 451.0h.3M81.2 462.7h.3M74.1 472.1h.3M97.4 461.3h.3M81.5 456.9h.3M49.7 453.6h.3M78.6 459.0h.3M71.3 463.6h.3M74.5 448.3h.3M74.8 460.0h.3M75.7 466.0h.3M69.5 455.0h.3M79.3 466.0h.3M82.2 452.5h.3M72.2 474.1h.3M85.2 464.1h.3M91.3 452.2h.3M68.6 466.5h.3M67.2 463.6h.3M78.4 460.7h.3M67.3 463.7h.3M77.6 458.2h.3M70.8 466.6h.3M73.9 459.4h.3M85.4 463.6h.3M72.1 459.1h.3M64.3 462.0h.3M82.9 461.2h.3M69.8 454.8h.3M81.8 459.0h.3M77.7 477.8h.3M81.2 462.5h.3M86.8 450.9h.3M78.8 467.6h.3M87.4 457.3h.3M84.7 457.5h.3M59.9 459.5h.3M88.7 464.8h.3M67.7 466.9h.3M69.5 461.6h.3M71.6 461.2h.3M79.5 456.1h.3M74.1 444.1h.3M81.7 469.3h.3M89.2 454.4h.3M74.1 453.4h.3M78.7 461.0h.3M67.8 472.6h.3M89.6 455.1h.3M73.2 451.1h.3M70.7 464.9h.3M105.7 462.4h.3M70.3 451.8h.3M69.6 453.9h.3M84.1 455.4h.3M87.0 460.1h.3M64.8 468.2h.3M60.8 461.5h.3M82.9 459.2h.3M80.2 467.6h.3M81.0 460.1h.3M83.4 462.4h.3M64.7 447.6h.3M94.1 470.8h.3M68.7 460.8h.3M64.8 456.8h.3M87.8 455.0h.3M88.3 458.4h.3M85.7 459.3h.3M90.9 463.1h.3M79.7 466.7h.3M63.4 450.6h.3M78.0 456.9h.3M99.9 456.5h.3M83.9 453.6h.3M72.1 450.8h.3M74.2 462.4h.3M86.3 461.7h.3M76.3 463.9h.3M64.0 457.3h.3M74.2 453.8h.3M74.5 465.1h.3M70.1 457.9h.3M66.3 454.0h.3M104.2 460.0h.3M61.9 456.8h.3M86.6 441.7h.3M62.7 462.8h.3M81.5 466.0h.3M86.7 458.3h.3M87.3 444.6h.3M76.6 465.5h.3M59.8 452.1h.3M83.9 451.8h.3M74.2 454.1h.3M79.1 457.7h.3M78.2 465.5h.3M86.8 450.5h.3M72.4 452.6h.3M81.7 455.0h.3M69.3 451.7h.3M85.0 456.3h.3M70.2 471.3h.3M75.0 449.0h.3M87.2 466.1h.3M80.2 451.1h.3M78.3 458.5h.3M82.7 446.7h.3M60.4 457.5h.3M79.6 466.2h.3M82.7 449.3h.3M61.7 461.2h.3M86.4 466.1h.3M79.3 460.9h.3M72.4 450.7h.3M74.4 463.6h.3M77.9 459.9h.3M83.2 462.7h.3M57.4 471.4h.3M79.3 456.1h.3M76.0 459.9h.3M89.2 456.2h.3M70.3 454.6h.3M85.5 460.0h.3M75.2 466.9h.3M93.5 463.9h.3M74.6 458.1h.3M80.7 485.0h.3M79.8 480.2h.3M80.0 480.9h.3M80.4 485.5h.3M82.5 484.0h.3M82.0 481.0h.3M82.6 478.5h.3M80.9 479.5h.3M81.7 480.1h.3M85.1 479.5h.3M83.4 481.0h.3M78.7 478.8h.3M80.2 480.2h.3M84.5 480.0h.3M78.4 483.7h.3M82.6 481.2h.3M82.8 483.4h.3M81.9 482.2h.3M82.2 480.8h.3M83.6 481.5h.3M81.7 479.0h.3M78.1 484.8h.3M80.7 483.6h.3M81.5 481.3h.3M78.7 480.4h.3M84.0 485.3h.3M82.7 485.4h.3M80.0 482.3h.3M77.5 482.5h.3M79.0 484.4h.3M79.6 481.2h.3M80.9 484.3h.3M77.8 486.7h.3M85.5 481.9h.3M79.2 484.2h.3M87.3 483.1h.3M81.4 483.6h.3M84.6 481.0h.3M83.3 483.2h.3M83.0 484.6h.3M85.8 481.5h.3M81.5 482.7h.3M79.8 484.4h.3M87.7 483.7h.3M80.1 481.3h.3M79.9 483.2h.3M76.9 482.2h.3M81.9 482.1h.3M81.2 480.0h.3M82.0 483.8h.3M82.4 484.6h.3M87.1 482.1h.3M78.2 482.3h.3M84.0 481.6h.3M78.2 487.3h.3M79.0 481.9h.3M76.6 485.4h.3M85.9 482.1h.3M78.4 480.7h.3M76.4 483.9h.3M83.8 482.1h.3M84.6 482.3h.3M82.1 482.0h.3M80.4 480.1h.3M83.1 480.4h.3M85.9 482.6h.3M80.5 484.6h.3M77.4 485.0h.3M82.0 479.5h.3M82.1 484.0h.3M82.7 480.8h.3M79.4 483.1h.3M75.8 485.3h.3M85.9 480.6h.3M86.9 481.1h.3M81.4 480.7h.3M80.8 480.6h.3M82.9 483.6h.3M81.2 480.1h.3M86.3 484.6h.3M82.8 482.8h.3M84.1 479.5h.3M78.3 483.4h.3M74.9 485.2h.3M77.4 484.7h.3M86.3 482.5h.3M85.4 483.9h.3M77.9 482.7h.3M82.3 482.4h.3M92.2 484.6h.3M71.6 484.0h.3M84.0 485.3h.3M96.3 483.3h.3M88.5 485.5h.3M81.7 485.3h.3M82.1 488.7h.3M85.7 482.8h.3M85.1 481.4h.3M100.4 483.2h.3M91.7 485.2h.3M88.8 486.4h.3M73.1 487.8h.3M95.2 478.9h.3M93.3 482.3h.3M78.7 484.8h.3M81.0 495.4h.3M80.0 486.3h.3M93.8 488.1h.3M79.1 487.5h.3M97.2 480.6h.3M88.9 477.5h.3M88.0 477.3h.3M87.1 476.6h.3M88.4 481.1h.3M100.1 481.5h.3M90.4 483.2h.3M101.8 479.9h.3M98.2 482.1h.3M94.0 480.3h.3M86.2 488.1h.3M84.4 489.2h.3M85.6 480.3h.3M84.4 478.8h.3M88.9 483.6h.3M99.0 480.3h.3M81.9 490.2h.3M84.7 480.3h.3M80.6 484.8h.3M79.5 481.0h.3M91.2 480.7h.3M88.6 482.7h.3M87.2 481.8h.3M87.8 484.0h.3M88.1 479.7h.3M88.7 474.6h.3M96.6 479.7h.3M86.1 486.9h.3M101.3 486.2h.3M79.6 482.6h.3M94.7 485.6h.3M86.0 478.7h.3M87.1 479.0h.3M90.1 488.2h.3M85.8 491.6h.3M99.9 485.8h.3M90.4 491.6h.3M88.8 489.1h.3M99.1 482.9h.3M102.5 488.0h.3M92.2 481.0h.3M102.4 481.6h.3M83.5 483.6h.3M74.1 490.0h.3M93.6 483.9h.3M83.9 470.6h.3M75.0 487.5h.3M80.6 490.9h.3M91.8 480.5h.3M93.4 483.3h.3M92.2 490.9h.3M90.9 486.9h.3M100.5 481.3h.3M76.8 479.8h.3M90.8 490.6h.3M91.0 485.9h.3M88.1 484.1h.3M83.0 491.1h.3M97.3 477.8h.3M91.5 487.4h.3M90.9 484.5h.3M85.7 489.8h.3M99.4 482.3h.3M93.2 490.5h.3M86.9 488.4h.3M76.7 477.9h.3M103.1 493.7h.3M86.9 484.9h.3M96.6 490.4h.3M92.0 485.1h.3M95.4 477.1h.3M92.5 483.7h.3M86.5 482.6h.3M89.0 478.0h.3M91.3 492.3h.3M76.2 483.0h.3M86.0 480.4h.3M86.0 483.4h.3M76.8 484.3h.3M90.7 480.6h.3M95.4 486.2h.3M93.0 481.3h.3M85.7 484.7h.3M90.8 483.6h.3M90.0 493.3h.3M89.2 483.8h.3M93.3 477.7h.3M85.6 483.6h.3M114.8 468.7h.3M101.4 467.2h.3M111.1 478.9h.3M113.1 465.0h.3M111.9 462.5h.3M115.0 475.4h.3M108.9 459.3h.3M118.5 463.3h.3M105.9 458.0h.3M108.6 469.1h.3M108.0 477.8h.3M104.0 475.7h.3M111.7 458.0h.3M111.5 462.7h.3M112.5 461.7h.3M99.2 468.7h.3M100.2 469.9h.3M111.7 461.3h.3M106.4 469.1h.3M108.7 458.2h.3M108.3 466.0h.3M103.8 469.4h.3M109.9 469.8h.3M102.0 462.1h.3M106.7 476.1h.3M119.0 468.6h.3M100.8 465.2h.3M114.7 462.4h.3M103.2 473.2h.3M104.3 463.8h.3M116.7 450.0h.3M102.9 478.9h.3M111.8 466.3h.3M106.0 467.1h.3M119.5 467.7h.3M108.8 472.0h.3M107.0 460.4h.3M111.0 458.4h.3M109.8 463.9h.3M106.7 445.7h.3M112.8 453.3h.3M106.6 471.6h.3M108.7 464.5h.3M113.8 458.1h.3M108.6 462.1h.3M105.6 477.5h.3M108.8 461.3h.3M103.1 461.2h.3M114.0 472.1h.3M102.1 464.8h.3M101.0 473.6h.3M116.2 476.0h.3M103.9 467.4h.3M113.1 466.4h.3M112.8 464.2h.3M103.5 466.0h.3M114.3 455.5h.3M105.2 461.9h.3M111.6 456.6h.3M113.5 469.8h.3M117.0 458.2h.3M104.9 467.5h.3M104.5 469.6h.3M107.1 474.4h.3M113.0 464.0h.3M98.9 472.7h.3M114.5 477.4h.3M98.6 446.3h.3M107.8 470.3h.3M112.8 468.0h.3M101.3 468.8h.3M109.1 466.0h.3M118.3 457.3h.3M106.5 457.8h.3M110.9 465.8h.3M111.3 478.3h.3M98.9 466.6h.3M108.2 473.7h.3M110.1 462.8h.3M120.1 466.1h.3M100.4 464.2h.3M109.9 466.8h.3M109.1 468.1h.3M110.3 472.5h.3M113.2 463.0h.3M113.3 464.4h.3M102.5 464.9h.3M113.8 462.3h.3M111.1 471.6h.3M109.7 458.7h.3M119.7 449.2h.3M104.3 460.1h.3M109.2 454.9h.3M108.6 462.6h.3M104.1 463.7h.3M116.5 461.7h.3M106.3 461.4h.3M111.6 466.2h.3M107.4 466.7h.3M110.2 455.2h.3M108.5 462.8h.3M113.0 473.5h.3M112.1 474.4h.3M109.2 468.5h.3M110.0 468.8h.3M111.3 465.9h.3M112.5 466.9h.3M103.7 442.9h.3M104.0 475.4h.3M106.2 471.5h.3M112.5 463.5h.3M117.6 449.6h.3M115.8 463.7h.3M101.8 472.5h.3M113.5 465.9h.3M104.8 469.5h.3M119.9 477.5h.3M104.2 456.3h.3M120.1 475.2h.3M114.6 458.5h.3M106.9 462.9h.3M109.7 471.9h.3M112.0 472.2h.3M113.4 467.3h.3M110.5 465.0h.3M108.4 481.0h.3M119.2 469.1h.3M103.2 474.2h.3M105.6 467.6h.3M110.6 475.1h.3M107.7 445.0h.3M103.1 474.5h.3M110.2 468.9h.3M107.5 478.6h.3M107.0 458.2h.3M114.9 470.7h.3M111.3 469.1h.3M106.2 476.1h.3M106.4 488.2h.3M102.6 481.4h.3M109.3 482.8h.3M116.8 476.1h.3M113.3 473.1h.3M111.0 481.9h.3M112.0 478.3h.3M117.8 468.6h.3M112.6 463.5h.3M104.2 471.7h.3M117.1 486.4h.3M114.0 477.9h.3M116.9 475.5h.3M114.4 475.7h.3M102.2 482.2h.3M107.7 477.9h.3M106.8 470.9h.3M117.1 477.5h.3M116.8 483.6h.3M113.7 478.0h.3M114.7 480.4h.3M108.5 472.1h.3M98.5 466.7h.3M108.7 485.6h.3M120.2 461.6h.3M106.7 470.1h.3M120.5 481.6h.3M111.7 478.5h.3M107.4 476.9h.3M118.0 480.8h.3M104.2 484.0h.3M103.1 479.6h.3M112.6 479.5h.3M109.4 476.0h.3M105.7 467.7h.3M115.7 478.9h.3M108.1 480.3h.3M107.6 481.2h.3M108.2 471.5h.3M113.8 488.9h.3M111.5 472.0h.3M112.6 475.1h.3M106.8 478.8h.3M116.7 479.5h.3M118.0 474.4h.3M80.1 474.2h.3M74.1 474.5h.3M87.1 479.1h.3M75.5 476.0h.3M92.7 476.7h.3M76.8 474.4h.3M91.0 477.5h.3M75.4 475.0h.3M79.3 479.2h.3M76.9 471.1h.3M64.7 478.9h.3M76.9 480.2h.3M82.9 472.7h.3M79.1 475.2h.3M96.8 475.0h.3M81.2 472.0h.3M82.0 473.3h.3M88.5 475.8h.3M83.1 474.9h.3M74.6 474.9h.3M93.1 478.1h.3M72.3 477.6h.3M78.5 479.5h.3M80.7 473.1h.3M90.4 480.9h.3M92.6 474.7h.3M77.0 473.8h.3M76.5 476.4h.3M97.3 474.7h.3M83.5 477.1h.3M92.9 473.4h.3M89.8 470.6h.3M70.3 476.0h.3M71.2 474.1h.3M75.5 477.0h.3M81.5 473.5h.3M65.2 475.0h.3M83.6 472.9h.3M83.8 474.2h.3M76.7 476.6h.3M61.8 475.5h.3M76.5 474.3h.3M73.2 476.7h.3M87.1 477.8h.3M71.0 474.1h.3M67.4 474.1h.3M89.3 473.5h.3M78.8 470.0h.3M84.9 473.3h.3M82.7 475.4h.3M76.6 473.7h.3M74.2 474.6h.3M79.5 473.5h.3M75.6 474.8h.3M76.1 475.9h.3M74.0 477.5h.3M90.0 474.3h.3M75.8 476.3h.3M87.1 471.8h.3M89.7 474.3h.3M93.0 475.8h.3M92.2 473.4h.3M76.9 474.9h.3M90.9 472.0h.3M78.0 476.9h.3M84.8 475.6h.3M84.0 475.3h.3M84.8 478.3h.3M71.2 477.0h.3M64.1 473.5h.3M48.6 489.1h.3M52.3 483.1h.3M42.4 497.7h.3M49.2 490.2h.3M47.1 494.4h.3M48.7 491.7h.3M46.7 494.5h.3M44.9 495.9h.3M48.6 491.0h.3M51.7 487.4h.3M53.4 484.0h.3M51.5 484.7h.3M46.2 495.5h.3M53.3 484.4h.3M46.4 495.0h.3M44.0 498.4h.3M43.9 496.5h.3M46.1 494.0h.3M44.6 495.2h.3M44.5 497.1h.3M50.1 488.7h.3M49.8 489.2h.3M44.7 497.5h.3M53.0 486.7h.3M53.0 485.3h.3" stroke="#2636a0" stroke-width="0.8" stroke-linecap="square" opacity="0.7"/>
<path d="M63.6 488.7h.3M62.7 489.3h.3M60.1 492.6h.3M62.1 492.6h.3M63.3 486.5h.3M63.0 488.5h.3M65.1 488.1h.3M61.8 490.6h.3M61.9 490.0h.3M66.9 488.7h.3M61.2 488.9h.3M65.0 490.6h.3M66.5 486.3h.3M64.0 486.2h.3M63.2 486.1h.3M63.9 489.6h.3M60.5 489.7h.3M61.5 489.3h.3M63.3 486.7h.3M63.2 490.5h.3M64.0 488.7h.3M62.9 489.7h.3M60.0 486.0h.3M63.5 488.8h.3M64.4 486.1h.3M62.5 488.2h.3M62.6 488.9h.3M64.3 490.6h.3M62.0 489.9h.3M64.9 486.4h.3M61.8 491.2h.3M65.4 486.7h.3M61.8 487.7h.3M62.7 492.6h.3M62.9 490.8h.3M62.5 490.7h.3M64.6 484.5h.3M64.6 490.3h.3M64.8 487.5h.3M60.4 489.2h.3M65.2 486.1h.3M63.5 489.6h.3M63.1 485.0h.3M61.6 489.5h.3M60.4 490.5h.3M62.9 488.0h.3M62.3 485.7h.3M64.4 486.3h.3M61.9 486.4h.3M63.3 491.2h.3M61.9 490.8h.3M65.0 486.9h.3M62.2 486.6h.3M58.5 488.8h.3M66.2 489.5h.3M63.5 489.6h.3M62.8 488.9h.3M62.2 488.6h.3M60.0 488.6h.3M61.7 487.9h.3M60.4 487.9h.3M60.0 486.8h.3M62.6 489.2h.3M63.7 487.6h.3M64.8 490.8h.3M60.8 487.7h.3M65.4 487.5h.3M61.8 487.8h.3M64.2 487.4h.3M61.1 488.7h.3M60.9 488.2h.3M62.1 490.0h.3M59.4 492.3h.3M62.0 488.0h.3M62.2 487.7h.3M62.7 485.9h.3M63.9 486.8h.3M64.7 484.1h.3M64.5 486.1h.3M62.5 485.0h.3M62.1 489.0h.3M62.9 486.5h.3M65.1 488.7h.3M61.6 487.8h.3M61.8 487.8h.3M57.7 489.7h.3M65.0 486.3h.3M60.5 486.3h.3M62.3 489.5h.3M64.4 487.2h.3M63.2 485.7h.3M62.5 489.3h.3M61.4 488.9h.3M63.6 490.3h.3M63.7 490.1h.3M62.0 487.2h.3M63.4 488.7h.3M66.7 486.0h.3M65.0 487.4h.3M60.4 489.3h.3M64.8 489.8h.3M62.1 492.3h.3M66.3 487.5h.3M62.1 491.2h.3M61.1 488.9h.3M63.6 483.9h.3M60.3 489.1h.3M65.3 488.3h.3M63.6 491.0h.3M65.2 485.3h.3M61.2 484.8h.3M63.9 489.2h.3M64.7 488.1h.3M64.5 488.5h.3M61.7 487.8h.3M62.6 491.9h.3M64.5 482.8h.3M67.3 486.1h.3M67.0 485.3h.3M63.9 487.5h.3M61.1 489.4h.3M64.1 484.0h.3M66.1 487.9h.3M62.3 490.9h.3M64.6 482.9h.3M64.2 487.5h.3M62.3 489.7h.3M64.5 481.9h.3M59.6 488.6h.3M63.3 487.3h.3M63.4 488.2h.3M66.8 488.5h.3M60.0 485.7h.3M63.9 483.6h.3M65.0 485.9h.3M61.2 489.2h.3M66.9 484.8h.3M64.0 487.8h.3M64.3 488.0h.3M62.5 484.7h.3M63.6 483.7h.3M68.7 487.9h.3M63.5 489.7h.3M66.5 487.7h.3M60.8 489.7h.3M60.6 492.6h.3M65.9 488.2h.3M59.7 488.6h.3M66.1 485.0h.3M65.3 485.3h.3M66.3 485.5h.3M63.6 491.0h.3M62.4 489.3h.3M64.9 488.4h.3M61.8 487.2h.3M67.5 487.6h.3M64.7 484.8h.3M60.2 488.3h.3M64.0 489.2h.3M67.6 457.7h.3M75.9 453.7h.3M77.7 456.2h.3M66.9 458.1h.3M72.8 454.4h.3M73.3 462.2h.3M66.1 459.6h.3M68.8 459.7h.3M65.5 460.6h.3M72.5 458.4h.3M70.3 457.2h.3M71.4 458.7h.3M63.7 460.8h.3M75.6 457.0h.3M79.4 458.3h.3M70.4 458.5h.3M68.9 457.9h.3M76.8 459.8h.3M64.7 458.0h.3M66.8 458.8h.3M66.5 460.6h.3M61.0 460.2h.3M77.3 454.2h.3M68.0 457.4h.3M74.7 463.4h.3M71.8 457.9h.3M67.2 459.1h.3M71.3 458.0h.3M68.9 454.3h.3M72.0 459.2h.3M72.3 452.2h.3M79.6 456.2h.3M64.1 458.4h.3M72.0 457.5h.3M66.2 456.7h.3M70.8 456.7h.3M66.1 459.2h.3M68.6 456.7h.3M63.8 459.8h.3M72.1 459.1h.3M66.9 456.2h.3M67.3 460.7h.3M71.2 454.2h.3M78.1 458.6h.3M71.6 458.7h.3M63.8 455.4h.3M74.6 458.1h.3M67.4 452.2h.3M67.5 460.3h.3M72.5 452.6h.3M67.8 456.2h.3M67.1 456.4h.3M70.9 455.1h.3M64.6 458.2h.3M65.4 457.5h.3M66.4 458.0h.3M64.0 457.5h.3M73.4 458.7h.3M70.7 455.1h.3M70.9 454.7h.3M72.6 456.7h.3M69.8 458.2h.3M65.6 459.3h.3M63.2 455.0h.3M67.8 450.9h.3M71.8 452.9h.3M65.0 458.3h.3M60.9 455.9h.3M73.2 455.0h.3M66.2 455.2h.3M71.8 455.8h.3M72.5 458.6h.3M69.7 453.5h.3M73.0 459.1h.3M62.7 456.1h.3M74.4 455.0h.3M63.7 458.2h.3M75.0 455.6h.3M73.5 458.4h.3M69.1 451.4h.3M72.2 455.1h.3M76.3 460.8h.3M70.6 456.3h.3M72.0 460.0h.3M74.9 457.8h.3M60.0 453.0h.3M70.8 458.7h.3M69.4 452.5h.3M71.6 454.2h.3M68.2 458.5h.3M65.2 455.7h.3M62.6 455.7h.3M74.6 462.3h.3M62.0 456.6h.3M69.6 452.9h.3M63.7 461.6h.3M69.8 455.1h.3M62.8 456.3h.3M73.8 457.6h.3M72.8 454.1h.3M71.0 455.5h.3M74.3 457.7h.3M67.0 459.4h.3M65.0 457.3h.3M65.6 455.0h.3M75.3 456.8h.3M72.2 455.3h.3M75.4 455.1h.3M64.3 453.4h.3M64.1 461.4h.3M68.4 456.4h.3M76.6 457.7h.3M61.4 459.6h.3M78.5 460.3h.3M67.8 456.4h.3M74.9 452.6h.3M66.1 458.8h.3M78.6 455.3h.3M71.1 455.9h.3M67.7 457.5h.3M69.7 459.4h.3M75.8 458.1h.3M76.3 455.3h.3M62.4 452.0h.3M67.2 460.8h.3M82.0 480.7h.3M83.5 480.3h.3M84.7 481.5h.3M81.6 480.2h.3M85.8 480.7h.3M82.5 481.5h.3M79.5 481.0h.3M81.7 483.1h.3M81.3 482.8h.3M81.2 482.0h.3M83.1 482.4h.3M86.1 482.2h.3M84.2 483.3h.3M80.7 484.6h.3M82.1 484.6h.3M86.1 480.1h.3M80.3 480.7h.3M82.0 483.0h.3M80.9 482.9h.3M81.3 481.0h.3M80.0 481.4h.3M82.3 484.6h.3M82.3 484.0h.3" stroke="#7db84a" stroke-width="0.85" stroke-linecap="square" opacity="0.55"/>
<path d="M174.7 494.5h.3M171.9 486.2h.3M174.9 485.7h.3M173.5 485.6h.3M177.8 491.5h.3M175.0 484.9h.3M176.0 494.0h.3M174.2 481.9h.3M175.6 490.3h.3M172.9 486.0h.3M174.2 494.3h.3M174.9 492.6h.3M170.8 490.1h.3M170.4 486.3h.3M173.7 486.8h.3M177.7 491.7h.3M175.6 492.1h.3M173.4 484.9h.3M173.3 491.7h.3M175.1 485.2h.3M171.7 489.7h.3M173.5 492.9h.3M171.5 493.9h.3M170.1 493.2h.3M169.7 491.3h.3M175.6 485.0h.3M174.0 488.1h.3M174.5 491.2h.3M177.3 496.7h.3M172.1 487.2h.3M174.5 488.5h.3M171.1 484.4h.3M173.3 486.2h.3M175.1 484.6h.3M174.0 483.3h.3M175.0 493.8h.3M174.1 491.9h.3M178.3 488.6h.3M177.3 490.9h.3M173.8 493.6h.3M174.5 494.0h.3M173.1 494.2h.3M177.6 491.2h.3M172.7 489.7h.3M174.2 486.0h.3M170.5 488.1h.3M177.1 485.0h.3M175.2 491.1h.3M175.0 486.7h.3M175.3 488.2h.3M177.5 486.3h.3M174.1 485.9h.3M172.3 492.6h.3M172.3 493.8h.3M180.3 483.8h.3M171.2 486.7h.3M172.6 494.8h.3M168.7 490.4h.3M172.7 491.0h.3M174.3 491.6h.3M175.8 491.5h.3M171.6 482.7h.3M178.7 487.0h.3M178.2 484.0h.3M177.9 489.5h.3M178.9 491.4h.3M179.0 488.0h.3M168.9 492.1h.3M178.9 487.9h.3M174.2 496.4h.3M174.8 488.3h.3M176.5 485.1h.3M170.3 485.4h.3M176.0 485.8h.3M177.8 494.7h.3M169.1 492.3h.3M172.8 488.0h.3M172.0 488.1h.3M172.5 491.5h.3M177.8 484.7h.3M169.8 493.1h.3M169.9 486.9h.3M173.8 485.6h.3M172.9 489.4h.3M169.9 490.3h.3M174.9 483.6h.3M169.8 489.6h.3M170.9 493.4h.3M174.1 492.8h.3M170.8 492.4h.3M173.3 489.3h.3M171.8 488.7h.3M171.7 489.1h.3M176.6 491.2h.3M172.7 490.3h.3M172.6 489.9h.3M176.0 491.2h.3M170.1 491.2h.3M177.1 485.2h.3M185.7 490.6h.3M177.7 484.1h.3M183.8 489.8h.3M183.0 492.8h.3M182.3 493.5h.3M172.9 484.7h.3M180.3 494.4h.3M192.0 488.0h.3M182.9 490.2h.3M188.0 494.8h.3M181.7 488.5h.3M183.2 488.6h.3M177.8 492.7h.3M184.0 490.0h.3M175.6 490.9h.3M188.7 491.9h.3M177.2 486.3h.3M179.2 483.9h.3M175.0 485.6h.3M186.7 484.8h.3M178.5 486.9h.3M171.0 489.4h.3M181.4 490.7h.3M179.1 484.2h.3M175.9 492.7h.3M178.8 488.4h.3M173.0 484.0h.3M182.4 489.1h.3M173.0 483.4h.3M174.2 494.0h.3M179.4 480.8h.3M185.6 487.4h.3M169.1 485.4h.3M182.7 486.0h.3M167.7 495.6h.3M176.7 494.0h.3M178.1 486.0h.3M170.5 483.4h.3M177.8 485.9h.3M185.4 490.1h.3M177.5 495.2h.3M181.3 482.7h.3M183.4 484.7h.3M171.0 491.4h.3M179.9 483.0h.3M179.4 499.1h.3M169.0 484.0h.3M169.6 486.9h.3M168.8 487.8h.3M174.6 496.1h.3M178.0 483.0h.3M184.3 490.2h.3M176.4 484.6h.3M183.1 492.9h.3M188.0 494.8h.3M184.2 487.5h.3M182.6 492.6h.3M180.8 491.3h.3M180.0 491.4h.3M183.0 487.4h.3M179.1 490.5h.3M178.4 484.5h.3M169.5 493.4h.3M176.4 482.5h.3M172.4 480.6h.3M178.0 488.9h.3M179.1 489.7h.3M171.5 488.9h.3M181.3 486.2h.3M176.7 485.6h.3M175.5 483.7h.3M170.2 490.1h.3M181.3 489.7h.3M172.8 492.4h.3M174.5 488.3h.3M183.2 486.8h.3M182.1 487.6h.3M184.4 488.7h.3M179.3 487.2h.3M182.9 484.2h.3M182.7 493.9h.3M180.1 480.9h.3M181.1 493.9h.3M180.6 489.1h.3M184.0 490.6h.3M175.9 495.5h.3M177.6 489.6h.3M175.6 491.9h.3M173.8 496.9h.3M179.8 487.2h.3M172.6 483.3h.3M179.1 487.1h.3M180.9 488.6h.3M182.5 483.4h.3M181.2 491.8h.3M178.6 492.8h.3M180.8 483.4h.3M174.0 495.9h.3M178.3 483.2h.3M179.0 491.0h.3M171.2 488.1h.3M184.3 495.1h.3M168.5 483.8h.3M182.5 487.9h.3M175.4 495.0h.3M177.1 479.5h.3M179.4 488.2h.3M171.7 483.8h.3M174.8 489.5h.3M184.8 495.3h.3M168.8 483.2h.3M177.0 491.6h.3M180.2 493.8h.3M169.4 484.9h.3M184.3 493.8h.3M171.5 491.9h.3M189.1 487.1h.3M178.6 492.4h.3M177.6 485.8h.3M177.1 480.8h.3M186.8 493.3h.3M183.7 492.6h.3M183.6 491.4h.3M178.1 495.2h.3M183.8 490.5h.3M184.1 489.0h.3M171.0 489.6h.3M180.9 484.5h.3M179.9 485.3h.3M182.5 488.9h.3M186.6 490.1h.3M175.0 493.6h.3M178.9 488.1h.3M184.7 486.3h.3M179.3 494.3h.3M182.0 486.9h.3M182.2 492.7h.3M181.7 491.6h.3M180.5 489.8h.3M184.0 488.6h.3M181.1 488.8h.3M183.4 488.0h.3M180.9 485.4h.3M190.5 489.0h.3M175.1 486.3h.3M178.1 493.7h.3M172.3 490.1h.3M185.9 488.7h.3M186.1 488.0h.3M169.1 489.0h.3M177.3 486.6h.3M178.4 493.8h.3M182.6 491.2h.3M175.8 482.8h.3M181.8 496.9h.3M178.5 493.9h.3M168.2 484.8h.3M181.1 482.0h.3M179.7 488.2h.3M174.2 491.8h.3M171.7 487.3h.3M179.4 489.1h.3M192.3 488.2h.3M171.1 493.0h.3M178.0 488.2h.3M182.8 488.6h.3M178.9 492.7h.3M186.7 482.4h.3M182.6 485.7h.3M172.7 489.8h.3M179.8 491.5h.3M185.9 492.1h.3M169.5 490.3h.3M184.9 492.8h.3M163.5 489.6h.3M181.9 489.6h.3M172.7 493.7h.3M174.8 485.1h.3M168.8 488.6h.3M176.6 493.2h.3M178.6 488.0h.3M178.2 494.8h.3M188.2 494.3h.3M171.3 489.8h.3M181.7 492.0h.3M169.4 488.7h.3M181.1 490.8h.3M177.7 493.7h.3M178.2 491.3h.3M178.9 484.3h.3M178.2 487.1h.3M175.1 486.1h.3M182.7 484.1h.3M177.3 493.0h.3M171.2 483.6h.3M179.5 485.9h.3M181.6 492.2h.3M181.9 487.2h.3M168.4 484.2h.3M190.5 485.8h.3M184.8 492.5h.3M171.4 488.2h.3M181.7 489.7h.3M189.3 489.3h.3M182.7 487.0h.3M174.8 493.9h.3M182.8 485.7h.3M183.5 491.1h.3M197.1 491.7h.3M193.4 488.9h.3M205.3 487.0h.3M204.3 491.8h.3M189.4 486.2h.3M210.0 482.1h.3M211.6 476.7h.3M188.1 484.2h.3M191.7 481.2h.3M208.3 479.5h.3M213.9 479.9h.3M205.2 489.0h.3M193.3 479.9h.3M189.9 490.6h.3M206.5 486.2h.3M187.2 483.5h.3M185.6 491.5h.3M205.2 488.1h.3M191.2 489.5h.3M193.0 486.8h.3M206.8 482.9h.3M202.0 488.0h.3M183.2 483.6h.3M197.0 487.0h.3M215.7 484.3h.3M189.1 486.9h.3M188.3 483.4h.3M187.0 481.4h.3M192.6 484.5h.3M191.4 488.2h.3M199.7 487.8h.3M185.2 492.5h.3M207.7 481.0h.3M194.7 487.5h.3M202.4 480.7h.3M195.4 480.5h.3M184.7 486.7h.3M201.8 481.0h.3M194.3 489.6h.3M201.1 482.6h.3M171.3 492.2h.3M190.0 484.9h.3M187.5 481.3h.3M203.3 486.7h.3M193.7 487.9h.3M212.2 482.4h.3M207.8 481.1h.3M194.9 488.7h.3M191.0 488.3h.3M213.4 482.9h.3M205.8 485.8h.3M187.0 488.4h.3M202.6 482.0h.3M201.4 483.6h.3M196.0 487.1h.3M203.7 479.7h.3M196.8 486.4h.3M199.3 487.8h.3M199.4 482.9h.3M207.4 482.6h.3M202.3 486.4h.3M194.6 485.4h.3M199.7 482.4h.3M202.3 485.1h.3M196.8 486.9h.3M194.7 490.1h.3M206.6 492.5h.3M188.9 483.9h.3M190.4 484.2h.3M188.2 485.6h.3M202.3 480.6h.3M200.9 483.8h.3M186.9 487.5h.3M188.7 489.9h.3M178.6 492.8h.3M188.6 482.1h.3M207.5 483.8h.3M195.0 485.0h.3M192.6 489.3h.3M203.2 488.7h.3M196.9 491.3h.3M204.7 484.5h.3M197.2 486.9h.3M199.4 489.9h.3M196.3 482.5h.3M192.0 487.8h.3M206.6 491.5h.3M194.7 486.1h.3M191.1 483.9h.3M194.4 482.4h.3M193.3 490.2h.3M182.0 487.9h.3M212.7 481.0h.3M211.8 486.5h.3M213.9 484.1h.3M191.6 488.7h.3M202.4 485.0h.3M199.2 489.6h.3M202.0 487.3h.3M199.7 483.6h.3M189.9 485.0h.3M197.3 483.8h.3M199.1 491.3h.3M187.3 489.0h.3M204.1 480.7h.3M195.5 480.3h.3M209.8 481.2h.3M212.2 487.1h.3M197.6 482.5h.3M192.5 488.0h.3M200.2 483.0h.3M188.8 488.8h.3M188.7 486.5h.3M195.6 493.4h.3M204.1 492.8h.3M191.9 488.0h.3M186.8 485.7h.3M210.6 484.2h.3M212.8 482.4h.3M200.0 480.7h.3M200.9 486.7h.3M203.8 480.1h.3M191.8 485.4h.3M183.6 483.1h.3M203.4 486.4h.3M192.2 485.3h.3M197.2 483.6h.3M201.6 486.6h.3M206.1 484.9h.3M180.8 488.7h.3M192.1 482.3h.3M187.7 482.6h.3M206.7 479.7h.3M186.9 488.3h.3M194.7 486.3h.3M193.9 488.6h.3M197.2 486.7h.3M190.5 481.6h.3M194.7 483.8h.3M196.8 478.2h.3M202.5 481.4h.3M197.1 485.2h.3M193.7 485.0h.3M183.9 490.5h.3M204.3 485.6h.3M186.8 484.6h.3M199.6 489.2h.3M199.5 486.0h.3M201.1 484.4h.3M199.8 480.1h.3M212.3 487.7h.3M188.5 487.6h.3M207.3 484.5h.3M195.8 490.9h.3M205.0 484.0h.3M202.1 481.6h.3M191.7 480.7h.3M180.7 487.6h.3M190.4 484.2h.3M199.6 482.5h.3M196.4 487.9h.3M186.5 485.7h.3M215.8 487.5h.3M202.2 484.9h.3M200.5 482.2h.3M203.1 485.0h.3M189.1 486.1h.3M204.1 486.5h.3M201.9 483.9h.3M180.4 482.7h.3M194.5 485.6h.3M180.9 492.1h.3M197.9 484.3h.3M183.1 482.8h.3M193.9 490.0h.3M199.5 490.9h.3M190.7 483.5h.3M199.2 482.7h.3M192.6 485.1h.3M187.6 488.3h.3M213.4 482.7h.3M193.9 480.9h.3M184.6 489.0h.3M201.2 489.3h.3M190.7 486.4h.3M203.1 482.2h.3M198.8 488.5h.3M210.8 491.4h.3M200.8 487.4h.3M201.2 481.7h.3M203.3 486.6h.3M205.5 483.9h.3M212.8 479.7h.3M189.4 485.9h.3M197.3 485.3h.3M205.3 488.4h.3M202.6 480.8h.3M203.2 482.5h.3M197.6 493.0h.3M196.0 476.8h.3M186.6 490.8h.3M190.2 482.2h.3M194.8 480.8h.3M189.1 490.1h.3M209.6 488.4h.3M199.2 484.5h.3M196.1 487.3h.3M214.1 487.2h.3M205.0 485.8h.3M200.8 487.6h.3M204.0 481.7h.3M192.5 487.0h.3M184.4 485.9h.3M194.8 484.4h.3M191.1 486.7h.3M206.9 487.6h.3M199.9 489.0h.3M205.5 482.9h.3M195.8 483.0h.3M199.2 482.4h.3M203.6 490.5h.3M191.2 484.3h.3M196.9 490.2h.3M205.0 483.3h.3M200.2 481.1h.3M181.7 485.9h.3M193.1 483.1h.3M188.4 485.3h.3M195.8 479.5h.3M210.2 483.8h.3M213.6 483.1h.3M185.8 485.9h.3M203.1 485.0h.3M192.5 485.0h.3M189.9 482.0h.3M195.0 489.3h.3M202.0 481.2h.3M180.8 484.2h.3M194.4 482.0h.3M192.1 490.1h.3M190.7 488.4h.3M208.4 487.0h.3M203.7 486.6h.3M199.6 485.7h.3M196.3 480.9h.3M206.0 485.9h.3M198.5 486.3h.3M186.7 484.7h.3M194.6 495.9h.3M201.6 479.9h.3M203.6 482.1h.3M196.6 481.6h.3M191.5 489.5h.3M203.6 487.4h.3M199.3 491.0h.3M206.5 480.9h.3M193.2 484.8h.3M194.2 483.0h.3M207.7 485.1h.3M209.4 485.6h.3M197.7 487.8h.3M195.2 491.2h.3M186.7 484.6h.3M204.8 485.4h.3M206.0 480.8h.3M193.0 484.5h.3M189.6 484.0h.3M199.1 489.8h.3M192.2 485.3h.3M211.7 487.6h.3M188.1 489.0h.3M214.6 483.5h.3M201.7 488.2h.3M212.6 481.1h.3M199.8 488.9h.3M209.3 479.6h.3M196.1 479.5h.3M215.4 489.1h.3M209.5 482.4h.3M196.3 491.5h.3M203.0 482.3h.3M219.9 478.4h.3M200.4 486.8h.3M203.7 485.0h.3M196.9 488.5h.3M197.7 478.1h.3M197.3 486.5h.3M179.6 485.1h.3M193.9 485.9h.3M190.1 483.7h.3M208.6 480.9h.3M180.7 486.2h.3M196.1 485.7h.3M207.2 482.8h.3M210.6 485.0h.3M205.8 480.4h.3M208.3 487.4h.3M188.8 482.2h.3M195.3 489.7h.3M211.0 485.2h.3M200.5 486.5h.3M210.2 475.6h.3M205.6 481.9h.3M194.8 486.6h.3M214.6 481.2h.3M216.5 487.4h.3M199.3 490.1h.3M199.3 482.3h.3M194.2 487.7h.3M208.6 488.5h.3M196.2 480.1h.3M193.9 487.4h.3M184.2 484.8h.3M206.8 487.0h.3M202.8 485.1h.3M194.6 483.3h.3M189.6 488.5h.3M195.2 485.0h.3M202.5 484.5h.3M201.1 485.6h.3M200.0 485.2h.3M200.5 484.4h.3M198.2 486.6h.3M204.4 482.2h.3M208.2 482.8h.3M201.6 483.1h.3M198.1 485.8h.3M198.8 479.7h.3M197.6 484.9h.3M201.0 481.4h.3M198.2 484.1h.3M197.7 485.3h.3M200.0 485.1h.3M196.8 486.5h.3M207.2 486.0h.3M195.7 486.1h.3M204.3 485.2h.3M206.9 488.9h.3M198.0 484.4h.3M212.1 485.7h.3M196.6 487.3h.3M195.2 484.1h.3M208.6 482.2h.3M199.3 485.1h.3M209.8 481.5h.3M198.0 489.4h.3M199.7 489.9h.3M209.1 481.2h.3M194.8 488.1h.3M191.4 488.9h.3M199.9 481.7h.3M194.1 484.7h.3M198.9 482.8h.3M195.3 487.5h.3M211.6 485.4h.3M204.8 485.7h.3M204.7 485.0h.3M203.8 483.2h.3M194.3 490.3h.3M198.5 480.8h.3M195.3 482.5h.3M206.6 485.0h.3M205.3 489.4h.3M197.4 484.2h.3M197.3 480.9h.3M192.3 482.7h.3M196.4 480.7h.3M199.7 483.5h.3M191.8 486.2h.3M205.0 483.3h.3M199.8 486.0h.3M195.2 483.1h.3M199.2 483.2h.3M206.0 487.9h.3M200.4 484.8h.3M205.4 484.3h.3M189.2 486.3h.3M191.7 487.7h.3M197.9 485.5h.3M201.8 484.2h.3M201.0 489.5h.3M204.3 483.8h.3M202.1 481.4h.3M198.8 484.0h.3M202.3 484.0h.3M202.6 481.9h.3M203.8 488.0h.3M193.7 488.1h.3M202.4 483.5h.3M207.0 485.4h.3M204.4 486.0h.3M196.2 486.7h.3M204.4 483.7h.3M196.0 483.1h.3M197.6 483.3h.3M200.0 485.1h.3M209.4 482.5h.3M205.7 487.9h.3M198.2 485.8h.3M202.2 488.6h.3M209.8 484.0h.3M194.7 483.4h.3M197.4 486.8h.3M197.4 483.3h.3M193.2 486.0h.3M200.6 486.6h.3M196.9 483.0h.3M195.1 485.6h.3M205.5 486.2h.3M202.4 486.2h.3M209.0 483.6h.3M194.9 485.4h.3M198.1 488.5h.3M189.7 489.1h.3M209.8 485.2h.3M196.7 485.9h.3M188.8 484.3h.3M201.5 484.9h.3M194.5 485.2h.3M223.0 476.0h.3M215.2 478.4h.3M218.2 478.6h.3M208.3 477.3h.3M209.9 477.6h.3M227.6 481.7h.3M213.8 483.6h.3M215.6 484.6h.3M229.1 475.5h.3M221.6 479.1h.3M222.2 473.3h.3M225.2 474.3h.3M228.0 482.8h.3M222.2 479.7h.3M213.3 481.4h.3M221.4 477.6h.3M221.1 478.2h.3M220.6 479.8h.3M215.5 477.6h.3M219.3 477.9h.3M218.9 470.9h.3M225.2 480.7h.3M218.0 484.6h.3M214.1 475.8h.3M222.9 480.6h.3M220.1 473.2h.3M223.5 468.9h.3M229.4 473.9h.3M223.7 473.4h.3M218.0 478.2h.3M219.9 477.4h.3M214.1 470.7h.3M217.2 478.4h.3M218.2 478.7h.3M222.7 475.2h.3M229.4 476.3h.3M211.8 478.0h.3M222.0 477.9h.3M217.8 477.5h.3M219.2 477.5h.3M228.9 469.0h.3M225.1 477.9h.3M223.7 483.8h.3M218.0 473.3h.3M215.0 482.3h.3M219.1 481.9h.3M209.6 464.3h.3M218.7 478.9h.3M226.8 476.5h.3M228.0 477.7h.3M217.8 476.5h.3M222.8 481.3h.3M224.0 475.0h.3M219.0 477.6h.3M220.1 481.1h.3M215.6 480.0h.3M217.2 484.7h.3M219.7 479.9h.3M217.6 478.6h.3M225.9 472.7h.3M212.7 481.0h.3M226.8 480.1h.3M208.6 472.4h.3M227.9 476.1h.3M219.4 475.3h.3M203.2 478.8h.3M227.1 478.1h.3M223.1 472.7h.3M222.9 471.8h.3M224.2 481.7h.3M215.1 476.0h.3M218.8 482.9h.3M224.3 474.7h.3M215.4 481.6h.3M217.7 480.7h.3M215.1 469.6h.3M211.9 477.4h.3M218.7 473.2h.3M216.2 482.8h.3M218.3 475.2h.3M219.0 476.8h.3M216.2 478.8h.3M219.0 486.2h.3M215.7 481.4h.3M213.7 479.0h.3M228.2 487.5h.3M218.0 479.8h.3M230.3 471.4h.3M214.0 484.4h.3M219.0 472.7h.3M227.2 485.9h.3M211.9 482.2h.3M217.4 482.3h.3M226.7 473.5h.3M212.3 483.7h.3M222.2 481.8h.3M221.7 471.6h.3M210.8 477.5h.3M226.9 481.6h.3M218.3 476.7h.3M217.9 474.5h.3M215.3 475.3h.3M219.3 476.3h.3M217.0 475.6h.3M218.8 481.0h.3M186.8 452.2h.3M173.9 458.3h.3M177.8 463.4h.3M181.4 466.3h.3M185.7 459.5h.3M172.5 455.8h.3M172.1 450.0h.3M187.3 461.1h.3M178.3 462.8h.3M178.2 452.1h.3M177.5 462.9h.3M191.1 456.3h.3M179.8 453.8h.3M178.7 454.6h.3M184.7 455.7h.3M192.6 457.6h.3M172.7 448.0h.3M185.7 450.3h.3M183.6 452.4h.3M180.2 453.4h.3M183.1 452.6h.3M207.8 461.8h.3M179.3 459.0h.3M169.7 457.8h.3M177.2 457.8h.3M183.3 450.6h.3M179.1 464.6h.3M195.1 454.5h.3M173.7 453.5h.3M189.7 456.6h.3M178.2 458.7h.3M189.9 460.9h.3M172.6 449.2h.3M195.4 454.0h.3M180.3 458.9h.3M184.6 465.7h.3M177.8 467.3h.3M178.0 454.9h.3M180.6 461.3h.3M176.9 453.3h.3M184.6 460.9h.3M190.9 464.1h.3M168.7 457.0h.3M181.2 457.4h.3M176.0 462.5h.3M195.5 455.5h.3M180.6 453.7h.3M194.5 456.5h.3M187.0 458.6h.3M197.2 469.2h.3M180.1 461.5h.3M182.2 450.3h.3M185.1 475.5h.3M186.3 451.6h.3M178.8 457.3h.3M190.1 452.7h.3M181.2 464.4h.3M185.6 447.5h.3M171.2 455.6h.3M184.1 462.0h.3M182.4 461.2h.3M187.3 459.9h.3M175.6 450.8h.3M186.5 457.3h.3M176.6 459.2h.3M185.8 456.4h.3M180.7 463.2h.3M176.5 456.3h.3M179.2 451.9h.3M185.2 459.5h.3M169.9 457.3h.3M200.9 456.5h.3M197.7 454.0h.3M190.5 457.5h.3M180.9 461.0h.3M170.9 449.5h.3M178.2 453.9h.3M188.6 463.9h.3M176.8 454.7h.3M183.5 451.3h.3M179.0 456.8h.3M172.9 459.0h.3M177.4 451.5h.3M177.7 457.3h.3M168.7 449.1h.3M188.1 465.4h.3M191.7 459.0h.3M173.8 452.3h.3M190.8 456.9h.3M200.2 461.8h.3M189.7 453.9h.3M199.1 473.0h.3M173.7 463.4h.3M181.6 455.7h.3M180.8 464.4h.3M183.4 457.7h.3M186.1 456.5h.3M175.2 461.8h.3M188.8 455.6h.3M181.7 452.1h.3M185.5 452.2h.3M185.1 456.1h.3M180.2 458.1h.3M190.8 459.4h.3M181.8 450.4h.3M187.6 458.4h.3M172.5 464.0h.3M170.8 449.3h.3M174.1 457.4h.3M179.9 454.3h.3M186.9 460.9h.3M186.0 464.4h.3M176.0 453.6h.3M169.0 456.1h.3M183.9 457.7h.3M185.1 455.2h.3M176.5 453.5h.3M176.0 460.8h.3M193.7 457.1h.3M190.0 459.3h.3M168.7 456.4h.3M175.8 462.9h.3M189.3 466.1h.3M178.5 456.4h.3M180.0 463.9h.3M170.0 462.3h.3M170.3 459.1h.3M175.8 467.1h.3M171.5 459.8h.3M175.1 457.4h.3M183.1 454.6h.3M189.6 459.6h.3M187.7 458.6h.3M183.8 459.9h.3M186.3 469.5h.3M168.5 457.7h.3M186.6 458.5h.3M180.4 454.0h.3M195.7 456.0h.3M182.6 459.8h.3M179.3 449.8h.3M175.5 451.1h.3M175.8 453.1h.3M182.7 455.1h.3M188.1 455.0h.3M196.2 454.4h.3M179.9 462.7h.3M197.6 454.2h.3M187.8 448.8h.3M178.8 445.7h.3M185.3 466.4h.3M168.6 458.4h.3M187.5 460.1h.3M180.4 453.6h.3M168.7 458.8h.3M186.1 464.2h.3M179.2 462.1h.3M171.9 454.9h.3M178.1 466.3h.3M200.2 461.7h.3M189.1 452.4h.3M177.0 463.9h.3M181.9 449.6h.3M188.1 453.2h.3M191.9 455.5h.3M188.0 463.3h.3M184.7 456.8h.3M186.3 464.4h.3M186.7 449.7h.3M185.1 467.6h.3M173.0 460.6h.3M174.1 457.7h.3M182.0 459.1h.3M183.3 461.4h.3M169.2 456.9h.3M189.7 457.4h.3M168.4 461.7h.3M187.9 456.7h.3M174.9 455.6h.3M192.3 458.9h.3M189.2 455.0h.3M189.4 462.3h.3M181.9 462.9h.3M179.8 449.1h.3M177.0 459.2h.3M185.4 458.6h.3M173.3 461.1h.3M173.6 459.7h.3M185.8 456.1h.3M200.0 466.6h.3M183.7 454.0h.3M178.6 458.5h.3M176.4 454.4h.3M183.5 453.0h.3M175.0 458.9h.3M170.1 459.6h.3M177.1 456.0h.3M183.7 462.9h.3M186.9 452.4h.3M179.4 455.8h.3M169.2 461.1h.3M179.1 462.3h.3M184.5 457.0h.3M184.8 455.5h.3M171.0 456.7h.3M181.3 456.1h.3M183.1 458.6h.3M179.0 452.0h.3M175.1 457.9h.3M173.0 463.5h.3M187.1 452.6h.3M180.7 457.8h.3M177.8 453.6h.3M178.7 454.1h.3M173.0 452.3h.3M179.3 458.4h.3M176.9 461.6h.3M186.2 463.3h.3M191.2 464.8h.3M192.9 458.3h.3M177.5 452.8h.3M179.3 460.8h.3M181.9 463.7h.3M181.3 464.3h.3M182.5 452.6h.3M175.5 458.2h.3M176.7 457.3h.3M177.3 459.4h.3M175.5 458.3h.3M183.1 448.3h.3M192.7 453.0h.3M185.8 458.0h.3M183.4 455.2h.3M182.9 452.8h.3M179.7 464.6h.3M174.3 455.1h.3M188.0 456.4h.3M183.6 461.9h.3M179.2 457.1h.3M189.1 460.4h.3M172.6 455.6h.3M179.1 451.7h.3M168.8 458.8h.3M181.5 458.5h.3M183.1 451.9h.3M178.6 461.2h.3M182.4 459.9h.3M168.9 452.1h.3M191.8 467.1h.3M171.5 457.3h.3M179.4 456.1h.3M179.7 464.1h.3M187.3 466.2h.3M180.0 461.7h.3M178.8 459.7h.3M191.3 456.9h.3M179.7 463.1h.3M189.0 464.6h.3M186.6 466.7h.3M171.4 458.5h.3M176.5 453.8h.3M184.7 455.5h.3M171.2 460.6h.3M170.8 457.4h.3M181.6 457.9h.3M169.0 468.6h.3M184.5 463.9h.3M180.0 465.3h.3M182.3 451.3h.3M182.2 455.8h.3M173.6 456.0h.3M177.5 462.7h.3M183.9 456.1h.3M179.0 453.7h.3M185.8 464.2h.3M175.5 460.3h.3M177.4 460.3h.3M183.0 456.5h.3M178.8 449.5h.3M185.0 454.0h.3M195.1 450.5h.3M177.5 461.0h.3M187.0 456.4h.3M174.8 460.8h.3M178.8 450.9h.3M173.9 458.7h.3M171.9 450.1h.3M190.2 453.7h.3M181.7 454.3h.3M177.2 461.7h.3M187.3 459.3h.3M191.3 455.1h.3M183.0 453.8h.3M184.1 466.4h.3M197.0 449.3h.3M181.8 458.4h.3M197.8 447.9h.3M173.4 457.2h.3M190.8 459.8h.3M202.5 453.2h.3M176.2 455.0h.3M181.2 454.0h.3M182.3 452.8h.3M167.9 457.9h.3M172.5 456.4h.3M195.4 452.9h.3M174.0 460.6h.3M178.2 457.4h.3M172.4 463.2h.3M188.4 458.7h.3M170.5 461.7h.3M180.0 459.3h.3M182.2 451.5h.3M186.9 459.2h.3M182.4 456.3h.3M169.9 450.2h.3M171.8 447.8h.3M199.5 458.8h.3M173.1 457.4h.3M193.0 460.8h.3M172.8 456.0h.3M188.4 455.2h.3M181.3 462.0h.3M190.5 466.9h.3M186.6 449.4h.3M178.6 450.1h.3M172.5 460.4h.3M180.8 454.0h.3M181.0 448.6h.3M196.7 458.2h.3M174.0 454.2h.3M175.8 457.3h.3M186.0 455.0h.3M184.8 464.5h.3M172.7 453.7h.3M188.7 459.1h.3M173.4 453.3h.3M176.9 451.6h.3M179.3 458.3h.3M190.6 464.5h.3M186.4 454.5h.3M182.9 451.4h.3M178.8 456.9h.3M183.6 464.6h.3M191.4 458.5h.3M169.4 466.2h.3M176.4 452.7h.3M183.3 463.0h.3M190.5 462.0h.3M172.1 451.1h.3M173.9 466.2h.3M179.2 453.4h.3M175.1 454.7h.3M181.5 463.2h.3M183.7 455.0h.3M190.4 451.7h.3M191.4 456.0h.3M178.8 466.9h.3M171.2 460.8h.3M189.5 454.6h.3M184.9 458.6h.3M183.9 460.4h.3M187.0 459.1h.3M180.9 466.0h.3M169.9 457.2h.3M179.0 465.4h.3M174.2 460.8h.3M188.6 454.9h.3M192.4 459.5h.3M174.3 455.6h.3M188.5 458.7h.3M181.7 461.4h.3M172.6 455.7h.3M190.4 447.9h.3M181.9 457.0h.3M176.5 464.9h.3M187.0 458.3h.3M176.5 457.7h.3M184.4 460.0h.3M198.3 458.6h.3M181.3 459.4h.3M187.8 458.2h.3M194.3 458.5h.3M183.8 461.4h.3M177.3 465.5h.3M196.8 455.5h.3M187.2 457.2h.3M186.3 456.4h.3M188.9 456.9h.3M175.6 461.2h.3M193.5 446.5h.3M187.4 450.2h.3M167.6 460.5h.3M193.1 452.3h.3M170.0 451.3h.3M177.8 452.8h.3M179.7 447.6h.3M184.8 452.6h.3M187.9 459.6h.3M185.0 457.4h.3M184.1 456.4h.3M187.0 458.0h.3M169.3 459.3h.3M194.9 464.2h.3M186.0 461.6h.3M184.2 457.6h.3M173.7 458.4h.3M179.9 459.4h.3M180.4 449.3h.3M172.5 459.7h.3M187.1 452.7h.3M181.2 458.4h.3M189.1 458.6h.3M171.1 456.2h.3M183.4 459.3h.3M178.7 466.6h.3M178.1 460.4h.3M196.4 452.7h.3M187.8 448.0h.3M182.1 460.3h.3M191.3 459.2h.3M179.7 453.9h.3M180.7 462.8h.3M184.7 463.5h.3M175.6 449.5h.3M190.2 460.2h.3M195.5 456.9h.3M192.1 460.8h.3M175.5 463.4h.3M184.3 456.1h.3M169.2 458.3h.3M185.5 450.5h.3M184.9 458.3h.3M179.7 456.9h.3M180.9 458.9h.3M182.0 458.6h.3M176.6 458.6h.3M188.7 459.6h.3M194.7 460.3h.3M173.3 462.1h.3M175.1 460.0h.3M180.3 461.2h.3M183.5 465.6h.3M215.3 462.0h.3M179.4 450.4h.3M186.4 462.5h.3M174.6 458.4h.3M180.6 453.6h.3M185.1 467.7h.3M180.0 456.9h.3M183.0 461.8h.3M185.3 461.1h.3M168.2 467.0h.3M205.0 452.1h.3M183.2 459.7h.3M194.2 461.4h.3M192.3 450.7h.3M196.3 465.1h.3M177.5 464.3h.3M193.4 471.3h.3M201.5 463.3h.3M174.4 454.1h.3M182.8 470.5h.3M180.9 443.3h.3M177.7 474.6h.3M168.6 467.8h.3M193.7 461.7h.3M177.5 453.2h.3M190.4 464.0h.3M188.5 462.1h.3M184.1 464.5h.3M176.7 450.1h.3M194.3 463.2h.3M193.6 450.2h.3M190.3 456.1h.3M176.2 478.2h.3M175.7 461.1h.3M185.1 463.8h.3M170.4 464.9h.3M211.1 475.9h.3M173.2 459.6h.3M197.9 460.3h.3M191.7 468.1h.3M193.7 459.6h.3M190.9 463.7h.3M178.3 475.1h.3M174.4 465.8h.3M184.1 460.7h.3M191.6 455.5h.3M214.0 463.8h.3M194.1 471.7h.3M199.0 461.7h.3M190.8 460.2h.3M181.8 458.5h.3M200.6 463.2h.3M187.3 458.2h.3M187.2 462.9h.3M191.6 456.2h.3M189.2 474.3h.3M189.3 463.1h.3M186.9 452.6h.3M190.0 453.7h.3M188.0 461.4h.3M179.6 464.3h.3M177.4 448.6h.3M178.7 466.8h.3M199.7 471.3h.3M192.3 453.2h.3M187.3 458.5h.3M182.4 456.1h.3M195.5 467.6h.3M184.4 452.3h.3M188.8 460.7h.3M169.0 448.2h.3M185.9 468.1h.3M198.0 460.8h.3M185.5 461.2h.3M183.0 459.3h.3M196.3 465.7h.3M182.2 466.0h.3M187.9 473.9h.3M181.8 457.0h.3M191.7 454.5h.3M172.0 463.1h.3M184.5 462.5h.3M169.6 486.0h.3M196.1 461.7h.3M173.3 461.5h.3M200.6 481.6h.3M185.0 461.5h.3M191.8 468.2h.3M178.7 459.9h.3M199.0 453.0h.3M211.0 463.2h.3M198.2 459.9h.3M194.4 456.2h.3M206.6 453.6h.3M191.3 453.3h.3M195.0 455.5h.3M193.1 450.1h.3M175.6 451.5h.3M179.9 457.2h.3M201.3 456.3h.3M200.3 471.9h.3M185.1 445.8h.3M176.3 460.1h.3M194.2 448.4h.3M185.6 457.1h.3M215.1 469.6h.3M200.4 469.0h.3M186.5 459.7h.3M178.6 463.0h.3M171.7 456.7h.3M171.2 458.0h.3M174.3 455.2h.3M200.6 460.8h.3M195.6 465.8h.3M185.0 460.1h.3M204.4 446.5h.3M193.3 466.4h.3M180.7 460.4h.3M192.9 454.3h.3M185.8 458.6h.3M194.4 448.6h.3M203.8 467.0h.3M185.9 469.1h.3M191.9 465.4h.3M174.9 460.7h.3M187.3 452.5h.3M196.9 458.8h.3M184.7 457.4h.3M196.3 456.9h.3M190.7 457.1h.3M213.9 461.0h.3M201.1 453.7h.3M191.4 464.2h.3M183.5 467.6h.3M188.2 455.5h.3M187.7 463.1h.3M171.9 470.3h.3M218.7 453.3h.3M207.9 464.1h.3M195.1 462.4h.3M167.2 451.7h.3M168.3 456.9h.3M204.7 469.7h.3M183.2 451.6h.3M216.4 455.7h.3M189.0 453.1h.3M184.1 467.2h.3M199.9 454.0h.3M198.2 464.2h.3M188.3 464.3h.3M198.7 464.6h.3M207.6 461.4h.3M173.5 456.2h.3M198.3 460.3h.3M206.1 460.6h.3M199.8 464.2h.3M178.3 454.4h.3M195.5 463.1h.3M190.5 461.5h.3M204.1 462.0h.3M197.2 456.4h.3M174.5 459.5h.3M190.4 469.8h.3M185.1 448.5h.3M196.4 467.9h.3M193.6 455.9h.3M188.2 466.2h.3M179.3 456.2h.3M175.5 464.8h.3M193.2 460.7h.3M188.0 464.3h.3M177.6 457.8h.3M187.9 470.6h.3M194.7 463.6h.3M200.8 473.7h.3M204.0 465.0h.3M192.5 460.3h.3M194.4 458.6h.3M201.5 458.4h.3M179.7 464.3h.3M198.0 446.2h.3M178.2 455.3h.3M198.5 458.5h.3M196.5 469.4h.3M186.3 451.0h.3M202.8 473.0h.3M197.9 473.5h.3M172.7 468.9h.3M190.5 471.6h.3M159.4 468.5h.3M179.0 470.4h.3M187.0 455.9h.3M186.5 453.2h.3M200.6 462.1h.3M183.9 468.9h.3M200.4 454.4h.3M172.8 465.9h.3M189.9 464.7h.3M187.9 458.4h.3M182.6 450.9h.3M212.3 468.3h.3M187.1 454.8h.3M165.2 468.2h.3M205.4 456.5h.3M190.9 474.5h.3M188.1 462.2h.3M189.3 453.3h.3M172.6 451.8h.3M195.5 454.6h.3M190.9 463.6h.3M178.9 448.3h.3M194.3 449.4h.3M189.7 478.4h.3M195.5 455.8h.3M194.9 459.0h.3M193.5 469.2h.3M198.3 464.6h.3M177.7 454.0h.3M183.7 453.7h.3M194.2 450.9h.3M164.9 461.0h.3M197.3 471.5h.3M182.5 481.1h.3M198.0 453.5h.3M190.9 460.0h.3M179.1 458.8h.3M190.9 465.0h.3M184.7 456.2h.3M177.1 455.4h.3M190.8 465.2h.3M169.7 464.8h.3M192.3 453.9h.3M195.2 456.4h.3M196.1 465.3h.3M190.3 455.4h.3M195.5 468.4h.3M201.4 456.8h.3M194.0 459.3h.3M174.2 451.5h.3M197.1 462.9h.3M169.8 452.7h.3M189.7 468.6h.3M196.1 462.3h.3M181.4 465.3h.3M193.9 450.0h.3M188.5 469.1h.3M175.0 454.6h.3M196.0 466.3h.3M197.2 459.6h.3M203.4 464.4h.3M172.9 454.8h.3M194.7 451.7h.3M191.7 457.8h.3M188.8 470.4h.3M197.0 466.4h.3M176.3 457.9h.3M191.0 455.1h.3M188.7 463.9h.3M196.8 465.7h.3M205.4 462.4h.3M189.1 461.1h.3M176.1 460.7h.3M189.7 464.3h.3M200.3 457.8h.3M179.6 443.3h.3M190.2 461.0h.3M183.7 461.8h.3M194.7 455.5h.3M196.1 467.6h.3M181.4 474.8h.3M187.7 464.5h.3M209.9 462.5h.3M198.1 467.3h.3M182.0 480.8h.3M176.8 449.2h.3M187.4 453.6h.3M174.7 457.8h.3M193.3 458.9h.3M191.2 452.9h.3M210.3 450.2h.3M201.4 460.5h.3M209.3 467.3h.3M215.1 466.1h.3M209.2 463.1h.3M184.5 465.3h.3M190.0 459.1h.3M181.0 464.2h.3M199.3 469.5h.3M190.1 462.9h.3M173.1 458.8h.3M190.6 460.3h.3M202.0 462.4h.3M213.1 463.9h.3M186.1 454.5h.3M189.1 467.3h.3M185.3 459.8h.3M178.2 463.8h.3M178.7 455.3h.3M180.4 450.5h.3M193.7 449.6h.3M201.2 457.4h.3M197.4 466.8h.3M192.5 461.4h.3M178.5 464.4h.3M172.3 449.0h.3M187.8 462.2h.3M171.2 462.1h.3M176.2 456.9h.3M177.6 476.4h.3M194.6 465.9h.3M200.1 454.3h.3M184.8 457.7h.3M184.0 461.6h.3M176.1 470.0h.3M192.5 462.7h.3M173.2 466.7h.3M179.9 465.9h.3M191.3 464.4h.3M199.1 469.8h.3M176.2 465.9h.3M178.5 473.4h.3M183.5 455.6h.3M187.7 455.2h.3M181.4 470.5h.3M183.2 469.3h.3M191.1 460.4h.3M201.1 471.1h.3M206.2 470.2h.3M185.5 465.8h.3M174.7 451.7h.3M193.1 452.8h.3M183.6 461.5h.3M196.4 456.2h.3M203.1 444.3h.3M180.7 464.5h.3M183.2 470.5h.3M199.2 463.8h.3M174.3 463.6h.3M181.1 466.9h.3M188.7 467.0h.3M184.7 452.4h.3M179.9 478.4h.3M179.5 458.7h.3M180.6 466.0h.3M185.0 457.4h.3M193.3 451.5h.3M183.7 463.4h.3M192.6 471.4h.3M193.0 451.6h.3M192.1 461.9h.3M184.4 477.3h.3M173.8 458.4h.3M182.4 443.0h.3M194.2 469.9h.3M168.4 461.3h.3M188.3 469.2h.3M209.2 464.5h.3M188.2 458.6h.3M199.5 463.3h.3M179.2 461.7h.3M198.1 449.4h.3M176.9 472.8h.3M186.5 475.7h.3M197.6 456.2h.3M171.9 463.8h.3M197.7 458.9h.3M176.0 452.0h.3M188.1 466.7h.3M168.6 453.2h.3M184.5 462.4h.3M191.2 460.5h.3M184.1 462.9h.3M173.4 461.4h.3M199.1 458.2h.3M177.3 454.1h.3M171.4 464.0h.3M196.1 459.3h.3M182.6 454.6h.3M177.5 463.1h.3M176.7 474.8h.3M214.1 465.0h.3M184.4 448.5h.3M182.0 453.6h.3M195.9 467.7h.3M184.2 477.4h.3M190.5 458.1h.3M179.0 459.3h.3M170.9 459.3h.3M222.1 464.6h.3M222.7 478.6h.3M225.0 461.8h.3M222.4 462.1h.3M215.3 465.1h.3M227.4 470.3h.3M225.5 462.2h.3M226.3 471.2h.3M217.1 469.6h.3M228.3 472.1h.3M220.0 490.4h.3M224.5 468.3h.3M221.2 472.2h.3M216.5 467.4h.3M222.4 456.6h.3M216.6 474.5h.3M223.6 480.8h.3M217.5 454.4h.3M219.6 469.1h.3M220.9 466.7h.3M214.8 465.6h.3M219.7 461.0h.3M215.2 468.1h.3M228.3 468.6h.3M216.2 468.2h.3M230.3 465.3h.3M220.1 454.2h.3M223.0 461.7h.3M217.2 474.3h.3M224.2 459.1h.3M219.5 476.9h.3M216.8 471.6h.3M222.4 469.1h.3M220.6 466.0h.3M224.7 458.2h.3M218.2 471.3h.3M218.9 466.1h.3M219.7 466.9h.3M219.8 467.8h.3M226.9 485.6h.3M220.5 454.9h.3M223.8 477.8h.3M218.7 469.2h.3M220.7 463.5h.3M225.6 459.0h.3M220.0 460.9h.3M228.3 470.2h.3M230.3 465.3h.3M221.2 472.4h.3M222.4 454.4h.3M219.1 475.7h.3M218.1 461.7h.3M214.7 465.6h.3M218.1 479.9h.3M219.1 460.3h.3M216.7 450.3h.3M219.2 462.0h.3M218.8 459.9h.3M223.8 464.5h.3M220.7 461.1h.3M222.6 466.3h.3M216.5 467.4h.3M220.6 462.1h.3M222.5 468.9h.3M213.5 470.9h.3M226.2 472.7h.3M221.2 461.7h.3M217.6 472.4h.3M219.1 454.5h.3M226.1 469.9h.3M220.1 464.8h.3M217.0 476.9h.3M220.6 463.6h.3M218.0 452.7h.3M220.2 462.5h.3M216.1 471.0h.3M222.0 468.1h.3M229.8 469.0h.3M215.4 467.5h.3M216.3 468.8h.3M227.0 471.3h.3M223.0 457.8h.3M219.6 468.1h.3M218.4 475.3h.3M220.7 468.4h.3M223.7 459.0h.3M226.6 455.3h.3M219.4 455.3h.3M224.5 458.3h.3M216.9 466.9h.3M212.8 467.3h.3M221.9 454.8h.3M220.6 462.1h.3M216.4 465.2h.3M211.8 469.0h.3M224.8 474.8h.3M221.7 463.6h.3M219.5 468.3h.3M211.7 483.4h.3M228.0 466.6h.3M222.4 468.6h.3M221.6 461.6h.3M225.1 478.5h.3M215.6 466.2h.3M222.9 454.1h.3M220.8 462.8h.3M221.0 465.2h.3M218.5 478.3h.3M222.9 465.9h.3M218.7 463.6h.3M226.6 458.2h.3M216.6 468.6h.3M225.1 473.9h.3M214.8 470.2h.3M229.9 468.5h.3M221.6 470.5h.3M220.8 466.2h.3M219.3 468.7h.3M219.9 460.4h.3M222.9 455.8h.3M222.3 468.4h.3M222.3 464.3h.3M216.6 473.9h.3M218.3 467.1h.3M229.1 461.7h.3M225.7 470.8h.3M226.8 468.2h.3M229.9 467.5h.3M227.9 464.0h.3M219.6 471.0h.3M225.4 465.0h.3M219.7 471.9h.3M219.9 456.5h.3M226.9 450.4h.3M225.1 476.7h.3M229.0 479.1h.3M219.9 463.7h.3M225.8 457.3h.3M229.1 464.7h.3M221.7 464.2h.3M224.7 464.3h.3M212.1 476.8h.3M215.4 458.0h.3M212.8 468.2h.3M221.3 466.8h.3M218.5 463.6h.3M222.5 470.3h.3M225.6 461.4h.3M228.8 464.6h.3M220.6 462.7h.3M218.9 451.3h.3M224.3 463.6h.3M225.0 461.1h.3M212.9 464.3h.3M216.4 476.0h.3M207.0 471.9h.3M222.3 472.1h.3M219.8 461.6h.3M227.4 459.1h.3M216.7 462.6h.3M208.6 458.1h.3M224.6 458.2h.3M221.3 469.2h.3M221.7 465.2h.3M225.6 475.3h.3M215.6 473.4h.3M221.3 469.0h.3M216.3 477.5h.3M218.9 464.0h.3M210.9 473.8h.3M216.9 457.7h.3M223.2 464.4h.3M218.4 470.0h.3M216.3 458.6h.3M222.0 471.1h.3M222.4 468.1h.3M222.7 463.0h.3M218.0 467.1h.3M212.4 466.5h.3M221.8 465.9h.3M222.2 477.0h.3M221.2 461.5h.3M219.6 469.2h.3M221.0 454.3h.3M219.8 468.1h.3M219.1 498.5h.3M222.2 483.8h.3M228.2 484.2h.3M214.8 474.5h.3M219.5 475.7h.3M219.4 479.6h.3M221.2 486.8h.3M215.3 476.5h.3M224.0 486.4h.3M221.4 489.7h.3M216.1 475.1h.3M213.4 487.5h.3M216.1 493.1h.3M227.5 479.5h.3M207.6 480.8h.3M215.4 483.8h.3M215.3 476.8h.3M214.1 487.3h.3M218.8 487.2h.3M223.8 488.6h.3M208.4 486.1h.3M217.3 485.8h.3M224.0 492.9h.3M216.4 487.1h.3M211.8 476.5h.3M221.2 494.3h.3M215.0 474.7h.3M220.5 484.6h.3M220.3 489.9h.3M222.4 472.9h.3M219.7 486.5h.3M224.7 466.3h.3M220.3 483.1h.3M210.2 485.1h.3M209.2 482.3h.3M223.6 467.6h.3M225.5 464.6h.3M222.1 480.2h.3M217.2 489.2h.3M220.5 479.0h.3M223.7 482.0h.3M224.6 471.6h.3M225.0 468.6h.3M208.3 485.0h.3M223.9 478.5h.3M215.3 475.9h.3M220.0 477.5h.3M229.4 472.4h.3M224.6 487.7h.3M226.1 481.0h.3M226.7 482.4h.3M218.9 491.1h.3M222.7 480.7h.3M210.1 484.4h.3M225.7 467.8h.3M212.5 477.3h.3M224.6 482.9h.3M213.5 487.6h.3M173.4 475.9h.3M190.5 475.7h.3M191.7 476.7h.3M184.5 475.9h.3M191.9 476.8h.3M177.8 475.1h.3M184.5 474.6h.3M197.0 473.7h.3M166.0 478.9h.3M210.5 473.5h.3M208.0 477.1h.3M184.6 474.1h.3M177.3 477.9h.3M205.4 478.3h.3M164.8 472.0h.3M204.4 477.8h.3M191.0 476.0h.3M191.9 476.1h.3M184.5 473.7h.3M203.0 475.8h.3M179.4 475.1h.3M188.4 477.8h.3M200.1 472.5h.3M197.3 476.9h.3M162.7 477.4h.3M205.6 474.7h.3M202.4 471.7h.3M201.5 476.0h.3M196.6 474.8h.3M183.8 474.0h.3M169.3 477.2h.3M197.8 473.9h.3M190.2 474.3h.3M193.1 474.5h.3M192.7 472.6h.3M183.5 477.5h.3M176.6 476.1h.3M180.5 475.4h.3M178.6 475.9h.3M203.4 479.3h.3M183.8 477.4h.3M185.2 474.9h.3M186.3 474.5h.3M183.2 476.0h.3M189.1 473.8h.3M202.3 476.1h.3M205.0 473.7h.3M185.9 474.5h.3M189.9 476.2h.3M197.5 473.2h.3M192.1 476.5h.3M188.2 476.6h.3M176.4 475.4h.3M191.4 476.6h.3M168.2 476.6h.3M183.4 476.3h.3M196.5 476.2h.3M182.1 474.4h.3M196.6 472.5h.3M191.0 475.0h.3M190.4 472.3h.3M214.7 476.2h.3M195.5 473.7h.3M209.6 474.0h.3M180.7 475.2h.3M207.6 475.9h.3M176.6 474.6h.3M175.7 477.4h.3M178.2 478.6h.3M168.9 473.9h.3M203.8 475.1h.3M189.3 474.6h.3M177.0 474.1h.3M178.8 476.8h.3M184.1 475.4h.3M203.6 473.8h.3M184.0 475.5h.3M183.6 475.5h.3M185.7 473.6h.3M197.3 477.0h.3M182.4 475.0h.3M172.4 475.6h.3M187.4 475.1h.3M174.6 477.4h.3M192.2 473.3h.3M201.1 476.1h.3M194.6 473.0h.3M185.5 473.8h.3M198.1 476.8h.3M180.2 475.8h.3M177.8 475.8h.3M191.4 474.1h.3M181.2 478.0h.3M197.0 473.3h.3M184.2 476.6h.3M179.0 474.0h.3M203.0 478.4h.3M190.7 473.6h.3M174.2 476.2h.3M188.8 475.1h.3M195.4 477.1h.3M195.2 475.5h.3M192.3 475.2h.3M161.2 487.1h.3M156.8 495.6h.3M157.3 492.1h.3M160.3 490.3h.3M159.2 489.8h.3M159.8 491.2h.3M160.8 489.7h.3M159.9 489.2h.3M155.1 495.2h.3M157.5 493.8h.3M158.4 493.1h.3M158.8 492.8h.3M157.9 493.6h.3M157.0 491.3h.3M161.1 487.9h.3M155.8 494.0h.3M159.9 492.5h.3M158.7 493.3h.3M156.3 496.1h.3M155.3 498.6h.3M161.0 489.9h.3M153.6 499.2h.3M158.5 491.9h.3M159.0 497.2h.3M153.3 497.9h.3M157.3 493.9h.3M164.1 483.8h.3M160.5 487.0h.3M159.9 487.9h.3M159.4 489.8h.3M160.1 490.1h.3M160.7 488.5h.3M154.1 496.2h.3M153.8 496.3h.3M154.2 496.7h.3M158.6 492.2h.3M157.9 493.8h.3M156.2 494.3h.3M161.0 489.9h.3M155.9 493.8h.3M155.2 494.2h.3M162.5 485.6h.3M157.3 493.5h.3M161.5 489.5h.3M157.8 493.7h.3M155.2 499.4h.3M157.5 491.9h.3M160.1 487.8h.3M154.4 497.3h.3M158.5 490.5h.3M159.2 491.1h.3M157.4 491.1h.3M158.8 490.3h.3M162.2 488.1h.3M163.6 484.8h.3M156.6 491.7h.3M156.5 495.9h.3M157.2 492.4h.3M155.6 495.1h.3M161.5 487.9h.3M164.0 486.5h.3M156.6 495.2h.3M162.7 485.9h.3M160.4 486.8h.3M154.8 498.1h.3M155.9 497.1h.3M162.5 484.4h.3M154.5 496.5h.3M157.1 492.3h.3M155.5 497.6h.3" stroke="#2636a0" stroke-width="0.8" stroke-linecap="square" opacity="0.7"/>
<path d="M172.6 489.8h.3M172.5 487.5h.3M176.0 485.7h.3M176.1 487.2h.3M174.3 490.4h.3M174.4 487.5h.3M176.9 491.8h.3M175.4 487.9h.3M175.3 492.4h.3M175.7 487.7h.3M172.0 488.4h.3M175.1 489.6h.3M170.5 488.8h.3M170.4 489.7h.3M174.3 489.9h.3M177.6 487.0h.3M175.8 493.8h.3M173.0 486.8h.3M179.0 485.0h.3M175.9 489.2h.3M173.9 490.5h.3M175.3 489.8h.3M173.2 492.2h.3M173.2 492.8h.3M172.3 485.8h.3M178.7 489.6h.3M173.8 487.5h.3M175.9 491.1h.3M173.0 487.1h.3M176.0 488.4h.3M172.2 484.9h.3M175.8 488.0h.3M173.0 487.4h.3M176.3 485.8h.3M173.2 491.9h.3M173.2 487.6h.3M175.8 491.0h.3M177.2 491.9h.3M174.8 485.0h.3M172.5 490.8h.3M173.0 488.5h.3M173.6 486.0h.3M173.8 489.5h.3M175.9 485.2h.3M171.6 487.5h.3M171.7 486.3h.3M174.1 490.6h.3M170.5 489.3h.3M177.0 492.2h.3M177.2 490.1h.3M174.7 488.1h.3M172.2 490.2h.3M174.3 490.1h.3M175.7 487.6h.3M176.0 488.3h.3M175.3 487.9h.3M180.0 486.9h.3M177.3 487.2h.3M178.9 487.0h.3M175.9 489.1h.3M172.9 490.0h.3M176.6 488.1h.3M170.2 486.5h.3M172.5 488.6h.3M175.8 488.4h.3M176.8 485.7h.3M172.8 488.3h.3M173.9 487.0h.3M173.6 490.0h.3M172.5 491.1h.3M177.0 490.4h.3M170.8 489.1h.3M175.3 489.9h.3M178.5 489.3h.3M175.0 485.4h.3M173.2 489.0h.3M176.4 485.9h.3M172.4 487.1h.3M172.3 489.3h.3M176.6 490.7h.3M173.7 488.1h.3M176.6 487.3h.3M171.7 490.2h.3M171.8 487.7h.3M174.1 486.9h.3M173.2 490.9h.3M173.2 488.7h.3M173.0 488.3h.3M175.3 487.4h.3M175.5 489.0h.3M175.3 489.3h.3M173.9 489.2h.3M173.2 488.7h.3M174.6 491.0h.3M177.8 488.9h.3M174.1 491.8h.3M173.9 490.1h.3M171.9 490.8h.3M172.2 490.6h.3M174.7 487.7h.3M175.4 491.2h.3M178.9 485.6h.3M173.5 491.3h.3M174.9 490.8h.3M173.3 490.8h.3M171.0 487.1h.3M177.1 488.4h.3M172.6 488.4h.3M175.3 491.2h.3M174.5 489.0h.3M172.4 489.1h.3M176.3 489.2h.3M172.7 491.2h.3M173.9 488.4h.3M171.4 488.6h.3M177.5 488.7h.3M174.9 487.3h.3M170.5 488.2h.3M174.8 490.1h.3M176.3 485.9h.3M173.9 488.4h.3M171.8 490.5h.3M176.1 490.2h.3M172.7 490.7h.3M178.6 487.1h.3M178.8 487.0h.3M179.3 489.1h.3M181.5 487.3h.3M179.3 487.6h.3M179.4 489.2h.3M171.3 488.6h.3M183.8 488.8h.3M176.1 488.8h.3M176.8 486.6h.3M175.8 489.5h.3M170.7 487.2h.3M177.8 489.4h.3M177.4 488.6h.3M175.1 486.7h.3M170.5 486.8h.3M175.1 485.8h.3M172.5 490.6h.3M180.3 490.1h.3M181.3 488.7h.3M175.6 485.3h.3M175.5 488.0h.3M176.8 484.5h.3M177.4 492.4h.3M180.9 488.0h.3M178.2 491.8h.3M180.6 488.0h.3M174.1 489.7h.3M176.1 490.3h.3M177.6 487.5h.3M174.3 492.0h.3M174.7 489.8h.3M173.1 489.6h.3M181.5 489.8h.3M178.7 492.4h.3M178.2 488.2h.3M171.3 487.9h.3M172.6 487.7h.3M174.6 489.3h.3M174.5 486.7h.3M182.3 488.8h.3M175.0 492.4h.3M172.3 488.5h.3M175.0 490.3h.3M171.8 489.5h.3M176.8 492.2h.3M174.9 489.6h.3M175.5 492.2h.3M178.5 485.2h.3M176.5 489.8h.3M173.7 490.1h.3M177.1 489.7h.3M178.4 490.0h.3M176.5 491.7h.3M176.8 490.8h.3M177.9 490.0h.3M177.5 487.1h.3M177.0 487.6h.3M173.0 486.1h.3M172.9 488.3h.3M175.0 490.1h.3M172.5 488.1h.3M175.2 488.0h.3M172.3 488.8h.3M172.8 491.1h.3M175.3 486.7h.3M175.7 489.2h.3M176.6 486.7h.3M177.2 485.9h.3M176.0 491.9h.3M180.2 490.7h.3M175.9 492.0h.3M174.8 486.6h.3M175.9 491.8h.3M175.9 487.5h.3M176.0 487.8h.3M180.1 492.0h.3M174.6 488.8h.3M173.3 489.0h.3M175.7 492.1h.3M179.3 488.2h.3M175.3 492.5h.3M180.7 487.0h.3M175.4 489.0h.3M178.3 486.1h.3M177.3 490.1h.3M177.0 491.9h.3M170.7 489.4h.3M171.5 486.8h.3M207.7 484.2h.3M192.6 487.0h.3M195.6 484.4h.3M205.8 484.5h.3M199.1 487.6h.3M199.8 486.0h.3M197.0 486.4h.3M202.8 482.8h.3M183.1 488.8h.3M196.2 483.5h.3M197.0 485.1h.3M200.5 484.2h.3M196.3 484.3h.3M195.4 488.5h.3M196.4 485.6h.3M202.7 483.1h.3M203.8 487.5h.3M192.3 485.0h.3M194.0 484.5h.3M207.3 484.1h.3M193.9 484.2h.3M195.1 487.7h.3M202.8 482.5h.3M204.1 485.0h.3M192.3 485.4h.3M201.9 485.4h.3M203.3 487.3h.3M207.8 484.8h.3M194.1 484.0h.3M201.3 487.2h.3M195.8 484.2h.3M195.2 484.7h.3M203.7 484.5h.3M204.0 486.6h.3M204.0 485.2h.3M205.0 483.9h.3M203.1 484.0h.3M203.8 484.9h.3M205.5 487.9h.3M194.8 486.4h.3M200.7 489.0h.3M193.1 485.5h.3M203.6 482.2h.3M178.3 487.1h.3M204.8 486.0h.3M204.1 483.5h.3M201.3 485.2h.3M197.8 483.0h.3M192.7 485.2h.3M192.5 484.3h.3M191.0 485.8h.3M206.1 482.3h.3M193.4 487.9h.3M200.5 485.4h.3M196.4 486.3h.3M194.7 485.7h.3M198.5 485.1h.3M203.7 485.6h.3M199.4 482.9h.3M203.2 486.3h.3M203.3 483.9h.3M199.5 482.9h.3M200.7 486.1h.3M193.8 486.2h.3M204.1 484.4h.3M192.1 486.2h.3M194.8 484.5h.3M201.6 486.2h.3M203.3 482.7h.3M200.5 483.5h.3M194.8 485.5h.3M196.2 482.2h.3M198.7 483.8h.3M194.1 487.4h.3M199.2 485.9h.3M194.7 488.8h.3M199.6 487.5h.3M197.2 484.1h.3M192.1 485.6h.3M196.4 484.0h.3M192.8 485.9h.3M191.2 486.8h.3M191.6 487.1h.3M198.4 485.4h.3M204.3 481.3h.3M195.1 482.4h.3M198.2 486.3h.3M204.0 487.0h.3M193.8 487.8h.3M199.2 484.4h.3M205.7 486.2h.3M181.9 488.9h.3M205.9 483.3h.3M206.3 485.8h.3M197.9 485.6h.3M198.3 487.3h.3M191.1 487.2h.3M194.0 484.5h.3M201.0 486.9h.3M201.5 483.4h.3M197.1 483.6h.3M198.5 485.8h.3M196.0 485.7h.3M190.6 488.7h.3M199.9 484.2h.3M199.7 484.1h.3M195.3 484.6h.3M205.0 484.5h.3M198.7 483.6h.3M194.8 486.3h.3M199.7 486.2h.3M206.6 484.7h.3M198.9 483.3h.3M204.7 484.4h.3M200.0 484.7h.3M192.7 486.0h.3M195.8 486.5h.3M194.1 484.2h.3M194.9 487.2h.3M197.9 485.2h.3M192.3 485.8h.3M200.5 482.0h.3M205.9 484.4h.3M191.1 486.9h.3M206.2 483.6h.3M196.5 485.7h.3M192.5 484.1h.3M201.7 485.8h.3M197.1 483.5h.3M195.3 485.3h.3M198.4 484.0h.3M198.2 481.2h.3M198.5 484.1h.3M202.4 482.1h.3M201.9 485.7h.3M196.4 484.1h.3M197.3 486.2h.3M206.1 485.2h.3M202.1 485.9h.3M200.1 483.4h.3M197.9 484.6h.3M206.3 483.2h.3M197.3 483.3h.3M196.4 486.5h.3M195.5 482.8h.3M198.8 485.1h.3M205.8 487.9h.3M194.2 485.2h.3M199.6 481.8h.3M197.5 487.6h.3M197.2 485.9h.3M197.9 481.8h.3M194.4 486.1h.3M197.7 484.5h.3M201.3 484.2h.3M201.8 485.4h.3M203.2 484.4h.3M201.0 484.8h.3M194.1 486.7h.3M204.0 484.1h.3M203.8 485.0h.3M218.9 478.1h.3M177.2 459.5h.3M180.7 460.5h.3M176.0 455.9h.3M176.0 459.6h.3M177.5 458.4h.3M176.0 463.1h.3M180.2 456.8h.3M175.5 458.4h.3M176.8 457.1h.3M178.1 456.0h.3M182.7 459.0h.3M186.5 456.4h.3M174.8 462.4h.3M181.3 456.6h.3M181.5 461.3h.3M187.3 455.1h.3M179.8 456.1h.3M174.7 453.7h.3M180.9 455.7h.3M189.5 458.0h.3M189.3 460.9h.3M187.1 454.6h.3M187.3 459.9h.3M180.7 458.0h.3M177.0 456.8h.3M182.0 459.1h.3M177.4 455.2h.3M180.9 456.1h.3M186.2 458.7h.3M179.3 455.8h.3M181.3 451.4h.3M183.8 458.8h.3M190.5 458.8h.3M180.0 456.1h.3M189.4 457.4h.3M180.8 454.9h.3M182.3 454.8h.3M183.0 459.0h.3M187.0 460.1h.3M185.6 456.9h.3M181.2 462.4h.3M177.9 454.9h.3M177.1 460.9h.3M180.9 453.2h.3M178.6 460.2h.3M189.4 455.5h.3M173.8 457.0h.3M180.4 457.0h.3M178.9 456.1h.3M191.5 462.0h.3M179.2 463.1h.3M182.2 460.7h.3M187.8 458.2h.3M178.3 459.0h.3M178.6 462.2h.3M184.7 461.2h.3M185.1 456.5h.3M177.4 462.0h.3M178.6 455.9h.3M182.9 459.6h.3M192.3 458.8h.3M192.8 459.5h.3M178.9 457.0h.3M177.7 458.7h.3M191.2 459.6h.3M192.8 459.2h.3M186.9 456.8h.3M186.8 459.8h.3M217.7 477.1h.3M205.2 486.1h.3" stroke="#7db84a" stroke-width="0.85" stroke-linecap="square" opacity="0.55"/>
<defs><radialGradient id="core"><stop offset="0" stop-color="#d8141c"/><stop offset="0.28" stop-color="#e83a1a"/><stop offset="0.45" stop-color="#f49a20"/><stop offset="0.62" stop-color="#ecd830"/><stop offset="0.8" stop-color="#9cc840" stop-opacity="0.85"/><stop offset="1" stop-color="#7cb848" stop-opacity="0"/></radialGradient><radialGradient id="gcore"><stop offset="0" stop-color="#a0c840" stop-opacity="0.95"/><stop offset="0.55" stop-color="#80b84a" stop-opacity="0.7"/><stop offset="1" stop-color="#6aa85a" stop-opacity="0"/></radialGradient><radialGradient id="ycore"><stop offset="0" stop-color="#e8c830" stop-opacity="0.9"/><stop offset="0.4" stop-color="#b8d040" stop-opacity="0.8"/><stop offset="1" stop-color="#7cb848" stop-opacity="0"/></radialGradient></defs>
<ellipse cx="62.4" cy="487.8" rx="5.2" ry="3.6" transform="rotate(-50 62.4 487.8)" fill="url(#core)"/>
<ellipse cx="81.3" cy="482.3" rx="4.2" ry="2" transform="rotate(-15 81.3 482.3)" fill="url(#gcore)"/>
<ellipse cx="174.3" cy="488.9" rx="5.0" ry="3.6" transform="rotate(-25 174.3 488.9)" fill="url(#core)"/>
<ellipse cx="180" cy="490.6" rx="7.5" ry="3.2" transform="rotate(-8 180 490.6)" fill="url(#ycore)" opacity="0.85"/>
<ellipse cx="198" cy="485.5" rx="10" ry="3.2" transform="rotate(-6 198 485.5)" fill="url(#gcore)" opacity="0.8"/>
<ellipse cx="196" cy="486" rx="3.5" ry="1.8" fill="url(#ycore)" opacity="0.7"/>
<circle cx="44.3" cy="497.3" r="1.2" fill="#111"/>
<circle cx="154.5" cy="497.3" r="1.2" fill="#111"/>
<rect x="55.50" y="445.60" width="43.30" height="27.80" fill="none" stroke="#111" stroke-width="1.3"/>
<rect x="43.60" y="481.60" width="10.80" height="20.40" fill="none" stroke="#111" stroke-width="1.3"/>
<rect x="57.20" y="476.20" width="17.90" height="21.20" fill="none" stroke="#111" stroke-width="1.3"/>
<rect x="77.30" y="475.50" width="25.10" height="22.40" fill="none" stroke="#111" stroke-width="1.3"/>
<rect x="167.10" y="446.80" width="41.60" height="27.10" fill="none" stroke="#111" stroke-width="1.3"/>
<rect x="153.70" y="482.60" width="10.30" height="19.90" fill="none" stroke="#111" stroke-width="1.3"/>
<rect x="167.50" y="477.40" width="18.20" height="20.70" fill="none" stroke="#111" stroke-width="1.3"/>
<rect x="187.40" y="476.20" width="25.10" height="22.50" fill="none" stroke="#111" stroke-width="1.3"/>
<text x="101.90" y="448.30" font-size="8.5" textLength="15.00" lengthAdjust="spacingAndGlyphs" fill="#c0203c" stroke="#c0203c" stroke-width="0.06">35.6</text>
<text x="44.40" y="480.90" font-size="8.5" textLength="9.60" lengthAdjust="spacingAndGlyphs" stroke="#222" stroke-width="0.06">1.4</text>
<text x="59.10" y="506.00" font-size="8.5" textLength="15.20" lengthAdjust="spacingAndGlyphs" stroke="#222" stroke-width="0.06">40.3</text>
<text x="83.10" y="506.00" font-size="8.5" textLength="14.30" lengthAdjust="spacingAndGlyphs" fill="#c0203c" stroke="#c0203c" stroke-width="0.06">12.3</text>
<text x="213.70" y="448.90" font-size="8.5" textLength="14.20" lengthAdjust="spacingAndGlyphs" fill="#c0203c" stroke="#c0203c" stroke-width="0.06">23.8</text>
<text x="155.50" y="480.10" font-size="8.5" textLength="9.10" lengthAdjust="spacingAndGlyphs" stroke="#222" stroke-width="0.06">2.7</text>
<text x="169.00" y="506.00" font-size="8.5" textLength="14.60" lengthAdjust="spacingAndGlyphs" stroke="#222" stroke-width="0.06">40.4</text>
<text x="192.40" y="506.00" font-size="8.5" textLength="14.20" lengthAdjust="spacingAndGlyphs" fill="#c0203c" stroke="#c0203c" stroke-width="0.06">23.0</text>
<line x1="276.40" y1="420.90" x2="276.40" y2="516.20" stroke="#1a1a1a" stroke-width="1.4"/>
<line x1="273.60" y1="515.60" x2="276.40" y2="515.60" stroke="#1a1a1a" stroke-width="1.1"/>
<text x="270.35" y="518.45" font-size="8.2" text-anchor="end" stroke="#222" stroke-width="0.06">0</text>
<line x1="273.60" y1="492.59" x2="276.40" y2="492.59" stroke="#1a1a1a" stroke-width="1.1"/>
<text x="270.35" y="495.44" font-size="8.2" text-anchor="end" stroke="#222" stroke-width="0.06">25</text>
<line x1="273.60" y1="469.58" x2="276.40" y2="469.58" stroke="#1a1a1a" stroke-width="1.1"/>
<text x="270.35" y="472.43" font-size="8.2" text-anchor="end" stroke="#222" stroke-width="0.06">50</text>
<line x1="273.60" y1="446.57" x2="276.40" y2="446.57" stroke="#1a1a1a" stroke-width="1.1"/>
<text x="270.35" y="449.42" font-size="8.2" text-anchor="end" stroke="#222" stroke-width="0.06">75</text>
<line x1="273.60" y1="423.56" x2="276.40" y2="423.56" stroke="#1a1a1a" stroke-width="1.1"/>
<text x="270.35" y="426.41" font-size="8.2" text-anchor="end" stroke="#222" stroke-width="0.06">100</text>
<line x1="275.90" y1="515.60" x2="344.00" y2="515.60" stroke="#1a1a1a" stroke-width="1.4"/>
<line x1="292.40" y1="515.60" x2="292.40" y2="518.10" stroke="#1a1a1a" stroke-width="1"/>
<line x1="327.00" y1="515.60" x2="327.00" y2="518.10" stroke="#1a1a1a" stroke-width="1"/>
<rect x="284.20" y="482.80" width="16.50" height="32.40" fill="#a3002c"/>
<rect x="284.20" y="472.80" width="16.50" height="10.00" fill="#2c4d8c"/>
<rect x="284.20" y="432.90" width="16.50" height="39.90" fill="#64a33c"/>
<line x1="292.45" y1="482.80" x2="292.45" y2="480.30" stroke="#111" stroke-width="1.3"/>
<line x1="288.45" y1="480.30" x2="296.45" y2="480.30" stroke="#111" stroke-width="1.3"/>
<line x1="292.45" y1="472.80" x2="292.45" y2="470.40" stroke="#111" stroke-width="1.3"/>
<line x1="288.45" y1="470.40" x2="296.45" y2="470.40" stroke="#111" stroke-width="1.3"/>
<line x1="292.45" y1="432.90" x2="292.45" y2="426.40" stroke="#111" stroke-width="1.3"/>
<line x1="288.45" y1="426.40" x2="296.45" y2="426.40" stroke="#111" stroke-width="1.3"/>
<rect x="319.10" y="482.80" width="15.90" height="32.40" fill="#a3002c"/>
<rect x="319.10" y="461.30" width="15.90" height="21.50" fill="#2c4d8c"/>
<rect x="319.10" y="438.20" width="15.90" height="23.10" fill="#64a33c"/>
<line x1="327.05" y1="482.80" x2="327.05" y2="474.60" stroke="#111" stroke-width="1.3"/>
<line x1="323.05" y1="474.60" x2="331.05" y2="474.60" stroke="#111" stroke-width="1.3"/>
<line x1="327.05" y1="461.30" x2="327.05" y2="454.30" stroke="#111" stroke-width="1.3"/>
<line x1="323.05" y1="454.30" x2="331.05" y2="454.30" stroke="#111" stroke-width="1.3"/>
<line x1="327.05" y1="438.20" x2="327.05" y2="435.40" stroke="#111" stroke-width="1.3"/>
<line x1="323.05" y1="435.40" x2="331.05" y2="435.40" stroke="#111" stroke-width="1.3"/>
<rect x="264.70" y="411.50" width="8.00" height="4.90" fill="#64a33c"/>
<rect x="286.80" y="411.50" width="7.80" height="4.90" fill="#2c4d8c"/>
<rect x="322.20" y="411.50" width="7.80" height="4.90" fill="#a3002c"/>
<text x="275.70" y="415.60" font-size="8.5" textLength="4.80" lengthAdjust="spacingAndGlyphs" stroke="#222" stroke-width="0.06">S</text>
<text x="297.80" y="415.60" font-size="8.5" textLength="17.60" lengthAdjust="spacingAndGlyphs" stroke="#222" stroke-width="0.06">G2/M</text>
<text x="332.80" y="415.60" font-size="8.5" textLength="23.00" lengthAdjust="spacingAndGlyphs" stroke="#222" stroke-width="0.06">G0/G1</text>
<text x="337.40" y="451.10" font-size="8.5" textLength="26.50" lengthAdjust="spacingAndGlyphs" stroke="#222" stroke-width="0.06">p &lt; 0.05</text>
<text x="337.40" y="475.40" font-size="8.5" textLength="26.00" lengthAdjust="spacingAndGlyphs" stroke="#222" stroke-width="0.06">p &lt; 0.01</text>
<text x="337.40" y="500.00" font-size="8.5" textLength="7.60" lengthAdjust="spacingAndGlyphs" stroke="#222" stroke-width="0.06">ns</text>
<text x="279.90" y="527.80" font-size="8.5" textLength="25.10" lengthAdjust="spacingAndGlyphs" stroke="#222" stroke-width="0.06">Control</text>
<text x="314.80" y="527.80" font-size="8.5" textLength="21.80" lengthAdjust="spacingAndGlyphs" stroke="#222" stroke-width="0.06">PKT16</text>
<text transform="translate(251.20,481.20) rotate(-90)" font-size="9.0" textLength="26.30" lengthAdjust="spacingAndGlyphs" fill="#222" stroke="#222" stroke-width="0.38">Cells (%)</text>
<text x="379.70" y="419.60" font-size="11.6" fill="#000" font-weight="bold">H</text>
<text x="396.20" y="426.00" font-size="8.5" text-anchor="middle" stroke="#222" stroke-width="0.06">1</text>
<text x="414.30" y="426.00" font-size="8.5" text-anchor="middle" stroke="#222" stroke-width="0.06">2</text>
<text x="430.90" y="426.00" font-size="8.5" text-anchor="middle" stroke="#222" stroke-width="0.06">3</text>
<defs><linearGradient id="gelbg" x1="0" y1="0" x2="0" y2="1"><stop offset="0" stop-color="#3c3c3c"/><stop offset="0.15" stop-color="#363636"/><stop offset="0.45" stop-color="#262626"/><stop offset="1" stop-color="#1a1a1a"/></linearGradient><linearGradient id="lane3g" x1="0" y1="0" x2="0" y2="1"><stop offset="0" stop-color="#a0a0a0"/><stop offset="0.26" stop-color="#8c8c8c"/><stop offset="0.37" stop-color="#666"/><stop offset="0.53" stop-color="#484848"/><stop offset="0.75" stop-color="#303030"/><stop offset="1" stop-color="#1e1e1e"/></linearGradient><linearGradient id="glow" x1="0" y1="0" x2="0" y2="1"><stop offset="0" stop-color="#fff" stop-opacity="0.45"/><stop offset="1" stop-color="#fff" stop-opacity="0"/></linearGradient><linearGradient id="lanelt" x1="0" y1="0" x2="0" y2="1"><stop offset="0" stop-color="#fff" stop-opacity="0.07"/><stop offset="0.4" stop-color="#fff" stop-opacity="0.03"/><stop offset="1" stop-color="#fff" stop-opacity="0.0"/></linearGradient></defs>
<rect x="387.90" y="429.50" width="52.90" height="95.10" fill="url(#gelbg)"/>
<g filter="url(#blur1)">
<rect x="389.00" y="431.00" width="13.70" height="92.00" fill="url(#lanelt)"/>
<rect x="407.20" y="431.00" width="12.80" height="92.00" fill="url(#lanelt)"/>
<rect x="402.90" y="431.00" width="4.10" height="92.00" fill="#000" opacity="0.06"/>
<rect x="438.80" y="431.00" width="2.00" height="92.00" fill="#000" opacity="0.2"/>
<rect x="422.50" y="431.00" width="17.50" height="92.00" fill="url(#lane3g)"/>
</g>
<path d="M424.6 431.2 L438 431.2 Q440 440 439 446 Q437.5 454.5 431.3 455.2 Q425 454.5 423.6 446 Q422.6 440 424.6 431.2 Z" fill="#f0f0f0" filter="url(#blur1)"/>
<ellipse cx="431.3" cy="444" rx="10" ry="14" fill="#fff" opacity="0.12" filter="url(#blur3)"/>
<ellipse cx="431" cy="432.2" rx="3.4" ry="1.1" fill="#888" filter="url(#bl05)"/>
<rect x="390.50" y="439.00" width="11.70" height="6.00" fill="url(#glow)" filter="url(#bl05)"/>
<rect x="407.70" y="438.30" width="11.70" height="4.70" fill="url(#glow)" opacity="0.7" filter="url(#bl05)"/>
<rect x="390.5" y="435.8" width="11.7" height="3.3" fill="#f6f6f6" filter="url(#bl05)"/>
<rect x="407.7" y="436.5" width="11.7" height="2.0" fill="#e6e6e6" filter="url(#bl05)"/>
<line x1="387.90" y1="429.90" x2="440.80" y2="429.90" stroke="#151515" stroke-width="0.9"/>
<line x1="387.90" y1="524.10" x2="440.80" y2="524.10" stroke="#111" stroke-width="1.1"/>
<text x="444.80" y="437.00" font-size="8.5" textLength="9.40" lengthAdjust="spacingAndGlyphs" stroke="#222" stroke-width="0.06">bp</text>
<text x="445.60" y="465.30" font-size="8.5" textLength="17.80" lengthAdjust="spacingAndGlyphs" stroke="#222" stroke-width="0.06">1000</text>
<text x="445.60" y="482.00" font-size="8.5" textLength="13.70" lengthAdjust="spacingAndGlyphs" stroke="#222" stroke-width="0.06">500</text>
<text x="445.60" y="511.50" font-size="8.5" textLength="13.70" lengthAdjust="spacingAndGlyphs" stroke="#222" stroke-width="0.06">100</text>
<text x="469.80" y="449.60" font-size="8.5" textLength="35.60" lengthAdjust="spacingAndGlyphs" stroke="#222" stroke-width="0.06">1 - Control</text>
<text x="469.80" y="458.80" font-size="8.5" textLength="33.60" lengthAdjust="spacingAndGlyphs" stroke="#222" stroke-width="0.06">2 - PKT16</text>
<text x="469.80" y="468.40" font-size="8.5" textLength="44.50" lengthAdjust="spacingAndGlyphs" stroke="#222" stroke-width="0.06">3 - Etoposide</text>
</svg>
<svg width="520" height="552" viewBox="0 0 520 552"><rect x="0.5" y="0.5" width="519" height="551" fill="none" stroke="#000" stroke-width="1.2"/></svg>
</div>
</body></html>
